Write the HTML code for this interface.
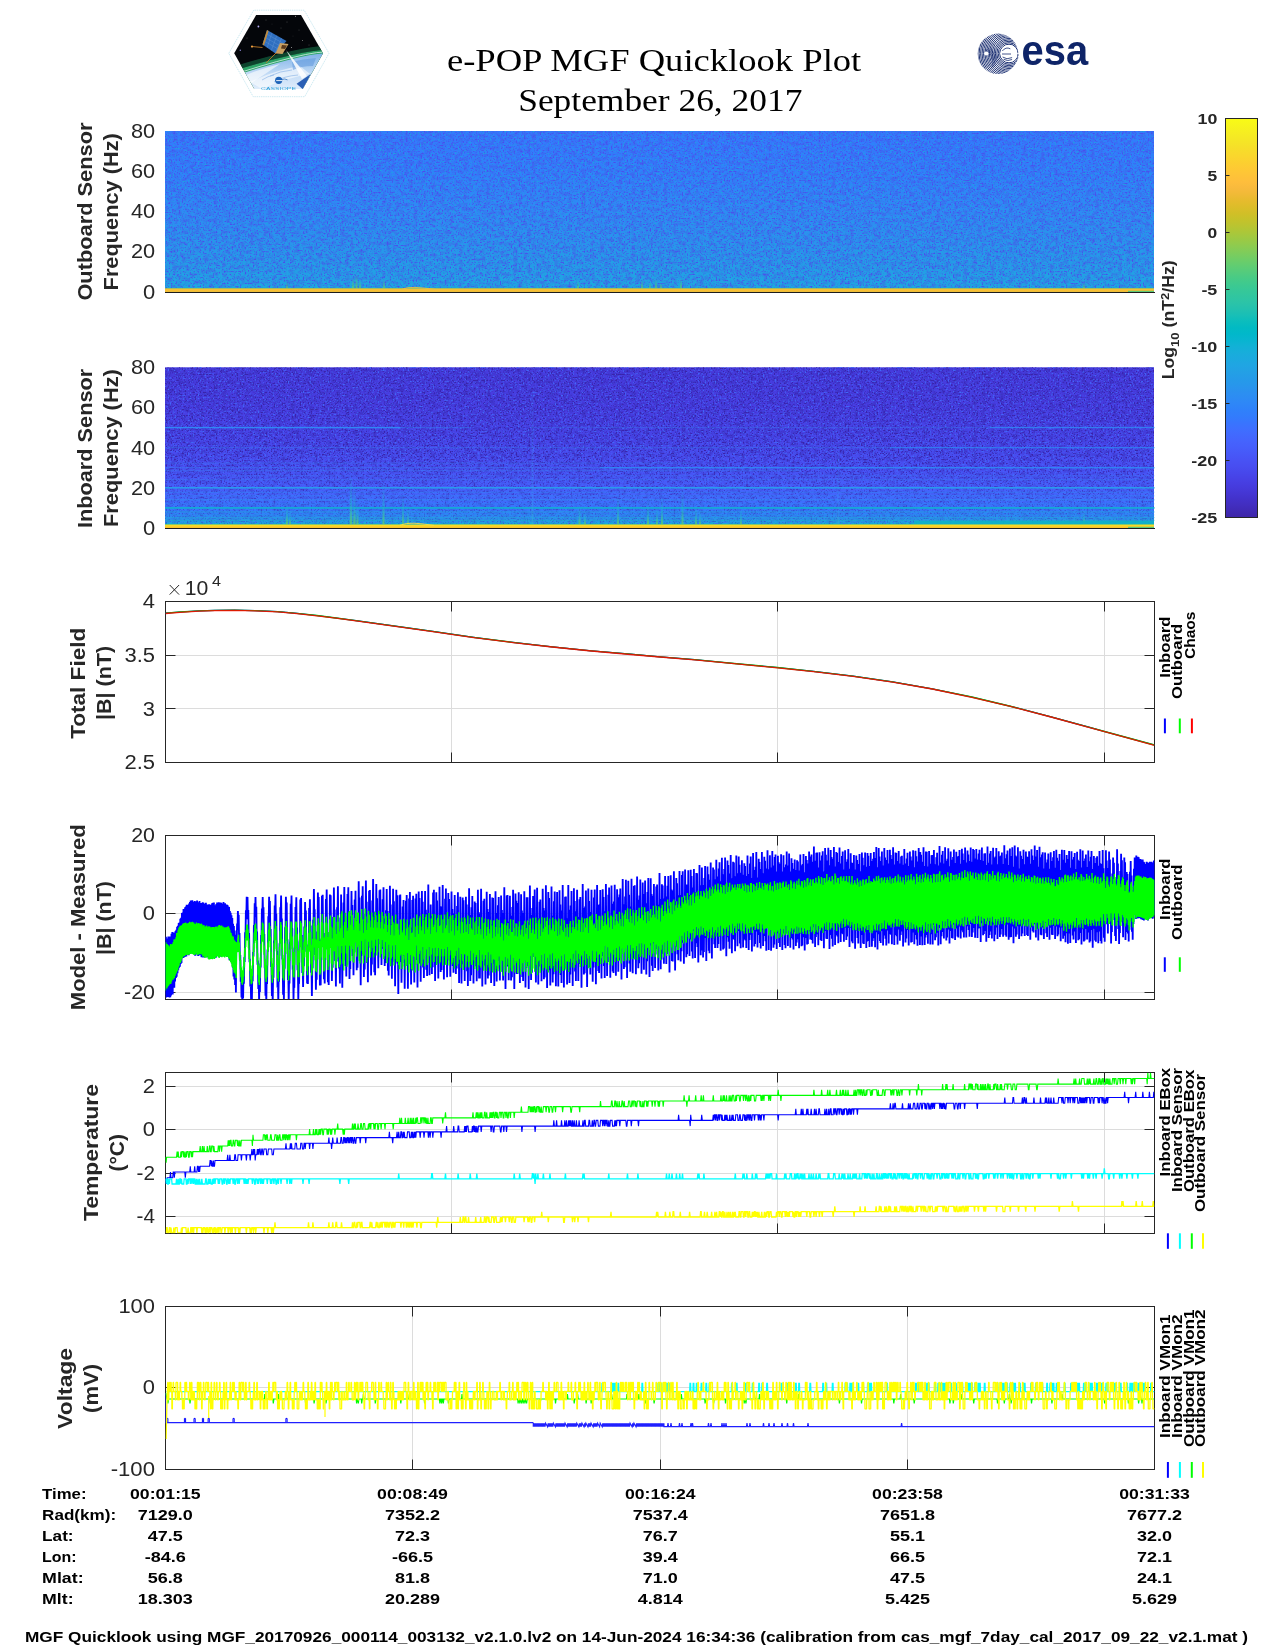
<!DOCTYPE html>
<html><head><meta charset="utf-8"><title>e-POP MGF Quicklook Plot</title>
<style>html,body{margin:0;padding:0;background:#fff;}svg{display:block;}text{white-space:pre;}</style></head>
<body><svg width="1275" height="1650" viewBox="0 0 1275 1650" shape-rendering="auto" style="opacity:0.9999">
<rect width="1275" height="1650" fill="#fff"/>
<defs>
<linearGradient id="gcb" x1="0" y1="0" x2="0" y2="1">
<stop offset="0.0000" stop-color="#f9fb15"/>
<stop offset="0.0159" stop-color="#f7f51b"/>
<stop offset="0.0317" stop-color="#f6ef20"/>
<stop offset="0.0476" stop-color="#f5e924"/>
<stop offset="0.0635" stop-color="#f5e327"/>
<stop offset="0.0794" stop-color="#f7dc2a"/>
<stop offset="0.0952" stop-color="#fad62d"/>
<stop offset="0.1111" stop-color="#fccf30"/>
<stop offset="0.1270" stop-color="#fec934"/>
<stop offset="0.1429" stop-color="#fec338"/>
<stop offset="0.1587" stop-color="#febe3c"/>
<stop offset="0.1746" stop-color="#f8ba3d"/>
<stop offset="0.1905" stop-color="#f0ba36"/>
<stop offset="0.2063" stop-color="#e6bb2d"/>
<stop offset="0.2222" stop-color="#dcbd29"/>
<stop offset="0.2381" stop-color="#d1bf27"/>
<stop offset="0.2540" stop-color="#c5c22a"/>
<stop offset="0.2698" stop-color="#b9c431"/>
<stop offset="0.2857" stop-color="#abc739"/>
<stop offset="0.3016" stop-color="#9dc943"/>
<stop offset="0.3175" stop-color="#8fcb4e"/>
<stop offset="0.3333" stop-color="#81cc59"/>
<stop offset="0.3492" stop-color="#72cd64"/>
<stop offset="0.3651" stop-color="#64cd6f"/>
<stop offset="0.3810" stop-color="#57cc7a"/>
<stop offset="0.3968" stop-color="#4acb84"/>
<stop offset="0.4127" stop-color="#3fca8e"/>
<stop offset="0.4286" stop-color="#37c897"/>
<stop offset="0.4444" stop-color="#31c69f"/>
<stop offset="0.4603" stop-color="#2cc4a7"/>
<stop offset="0.4762" stop-color="#24c1ae"/>
<stop offset="0.4921" stop-color="#19bfb6"/>
<stop offset="0.5079" stop-color="#0bbdbd"/>
<stop offset="0.5238" stop-color="#02bac3"/>
<stop offset="0.5397" stop-color="#01b8ca"/>
<stop offset="0.5556" stop-color="#08b5d0"/>
<stop offset="0.5714" stop-color="#12b1d6"/>
<stop offset="0.5873" stop-color="#18addb"/>
<stop offset="0.6032" stop-color="#1ca9df"/>
<stop offset="0.6190" stop-color="#20a5e3"/>
<stop offset="0.6349" stop-color="#23a0e5"/>
<stop offset="0.6508" stop-color="#259be8"/>
<stop offset="0.6667" stop-color="#2797eb"/>
<stop offset="0.6825" stop-color="#2b91ef"/>
<stop offset="0.6984" stop-color="#2d8cf3"/>
<stop offset="0.7143" stop-color="#2e87f7"/>
<stop offset="0.7302" stop-color="#2f81fa"/>
<stop offset="0.7460" stop-color="#327cfc"/>
<stop offset="0.7619" stop-color="#3875fe"/>
<stop offset="0.7778" stop-color="#3e6fff"/>
<stop offset="0.7937" stop-color="#4269fe"/>
<stop offset="0.8095" stop-color="#4563fd"/>
<stop offset="0.8254" stop-color="#465efb"/>
<stop offset="0.8413" stop-color="#4758f8"/>
<stop offset="0.8571" stop-color="#4852f4"/>
<stop offset="0.8730" stop-color="#484df0"/>
<stop offset="0.8889" stop-color="#4747eb"/>
<stop offset="0.9048" stop-color="#4741e5"/>
<stop offset="0.9206" stop-color="#463cde"/>
<stop offset="0.9365" stop-color="#4537d5"/>
<stop offset="0.9524" stop-color="#4332cb"/>
<stop offset="0.9683" stop-color="#422ec0"/>
<stop offset="0.9841" stop-color="#402ab4"/>
<stop offset="1.0000" stop-color="#3e26a8"/>
</linearGradient>
<linearGradient id="gs1" x1="0" y1="0" x2="0" y2="1">
<stop offset="0.0000" stop-color="#327cfc"/>
<stop offset="0.2500" stop-color="#2e83f9"/>
<stop offset="0.5000" stop-color="#2d8cf3"/>
<stop offset="0.6875" stop-color="#2994ec"/>
<stop offset="0.8500" stop-color="#249de6"/>
<stop offset="0.9375" stop-color="#20a4e3"/>
<stop offset="0.9725" stop-color="#1babde"/>
<stop offset="0.9775" stop-color="#24c1ae"/>
</linearGradient>
<linearGradient id="gs2" x1="0" y1="0" x2="0" y2="1">
<stop offset="0.0000" stop-color="#463cde"/>
<stop offset="0.2500" stop-color="#473ee2"/>
<stop offset="0.4375" stop-color="#4745e9"/>
<stop offset="0.6000" stop-color="#484ff2"/>
<stop offset="0.6875" stop-color="#4757f7"/>
<stop offset="0.7500" stop-color="#4660fb"/>
<stop offset="0.8125" stop-color="#426afe"/>
<stop offset="0.8750" stop-color="#3678fd"/>
<stop offset="0.9250" stop-color="#2e87f7"/>
<stop offset="0.9563" stop-color="#259be8"/>
<stop offset="0.9725" stop-color="#18addb"/>
<stop offset="0.9775" stop-color="#2cc4a7"/>
</linearGradient>
<filter id="n1d" x="0" y="0" width="100%" height="100%" color-interpolation-filters="sRGB"><feTurbulence type="fractalNoise" baseFrequency="0.62 0.66" numOctaves="1" seed="3" result="n"/><feColorMatrix in="n" type="matrix" values="0 0 0 0 0.290  0 0 0 0 0.306  0 0 0 0 0.925  0 0 0 4.5 -2.35"/></filter>
<filter id="n1l" x="0" y="0" width="100%" height="100%" color-interpolation-filters="sRGB"><feTurbulence type="fractalNoise" baseFrequency="0.6 0.64" numOctaves="1" seed="11" result="n"/><feColorMatrix in="n" type="matrix" values="0 0 0 0 0.110  0 0 0 0 0.647  0 0 0 0 0.882  0 0 0 5.0 -2.9"/></filter>
<filter id="n2d" x="0" y="0" width="100%" height="100%" color-interpolation-filters="sRGB"><feTurbulence type="fractalNoise" baseFrequency="0.62 0.66" numOctaves="1" seed="5" result="n"/><feColorMatrix in="n" type="matrix" values="0 0 0 0 0.220  0 0 0 0 0.141  0 0 0 0 0.667  0 0 0 5.5 -2.85"/></filter>
<filter id="n2d2" x="0" y="0" width="100%" height="100%" color-interpolation-filters="sRGB"><feTurbulence type="fractalNoise" baseFrequency="0.83 0.79" numOctaves="1" seed="6" result="n"/><feColorMatrix in="n" type="matrix" values="0 0 0 0 0.251  0 0 0 0 0.235  0 0 0 0 0.843  0 0 0 5.0 -2.75"/></filter>
<filter id="n2d3" x="0" y="0" width="100%" height="100%" color-interpolation-filters="sRGB"><feTurbulence type="fractalNoise" baseFrequency="0.83 0.79" numOctaves="1" seed="8" result="n"/><feColorMatrix in="n" type="matrix" values="0 0 0 0 0.235  0 0 0 0 0.353  0 0 0 0 0.941  0 0 0 5.0 -2.75"/></filter>
<filter id="nlo1" x="0" y="0" width="100%" height="100%" color-interpolation-filters="sRGB"><feTurbulence type="fractalNoise" baseFrequency="0.22 0.26" numOctaves="1" seed="21" result="n"/><feColorMatrix in="n" type="matrix" values="0 0 0 0 0.306  0 0 0 0 0.259  0 0 0 0 0.894  0 0 0 1.3 -0.56"/></filter>
<filter id="nlo2" x="0" y="0" width="100%" height="100%" color-interpolation-filters="sRGB"><feTurbulence type="fractalNoise" baseFrequency="0.22 0.26" numOctaves="1" seed="23" result="n"/><feColorMatrix in="n" type="matrix" values="0 0 0 0 0.204  0 0 0 0 0.141  0 0 0 0 0.667  0 0 0 1.4 -0.6"/></filter>
<filter id="n2l" x="0" y="0" width="100%" height="100%" color-interpolation-filters="sRGB"><feTurbulence type="fractalNoise" baseFrequency="0.6 0.64" numOctaves="1" seed="17" result="n"/><feColorMatrix in="n" type="matrix" values="0 0 0 0 0.259  0 0 0 0 0.408  0 0 0 0 0.980  0 0 0 5.0 -2.8"/></filter>
<linearGradient id="gyb" x1="0" y1="0" x2="0" y2="1"><stop offset="0" stop-color="#2aa6d8" stop-opacity="0"/><stop offset="0.12" stop-color="#4cc08c"/><stop offset="0.24" stop-color="#eebc3a"/><stop offset="0.5" stop-color="#f8c034"/><stop offset="0.85" stop-color="#f4bc36"/><stop offset="1" stop-color="#d4c044"/></linearGradient>
<linearGradient id="gyb2" x1="0" y1="0" x2="0" y2="1"><stop offset="0" stop-color="#20b0c0" stop-opacity="0"/><stop offset="0.14" stop-color="#4cc48c"/><stop offset="0.28" stop-color="#f4d42c"/><stop offset="0.5" stop-color="#fbdc24"/><stop offset="0.8" stop-color="#fdc62c"/><stop offset="1" stop-color="#f4c030"/></linearGradient>
<linearGradient id="gstk" x1="0" y1="0" x2="0" y2="1"><stop offset="0" stop-color="#30c0a0" stop-opacity="0"/><stop offset="1" stop-color="#58c878" stop-opacity="0.85"/></linearGradient>
<linearGradient id="gstk2" x1="0" y1="0" x2="0" y2="1"><stop offset="0" stop-color="#2a9ae8" stop-opacity="0"/><stop offset="0.6" stop-color="#22b0d0" stop-opacity="0.55"/><stop offset="1" stop-color="#58c878" stop-opacity="0.9"/></linearGradient>
<clipPath id="chex"><polygon points="234.2,53.3 256.1,15.1 301,15.1 323,53.3 302.7,88.9 254.3,88.9"/></clipPath>
<linearGradient id="gearth" x1="0" y1="0" x2="0" y2="1"><stop offset="0" stop-color="#7fb2e8"/><stop offset="0.45" stop-color="#c4dcf6"/><stop offset="1" stop-color="#f4f9ff"/></linearGradient>
<filter id="fbl" x="-10%" y="-30%" width="120%" height="160%"><feGaussianBlur stdDeviation="0.7"/></filter>
<linearGradient id="gmk2" x1="0" y1="0" x2="0" y2="1"><stop offset="0" stop-color="#fff"/><stop offset="0.56" stop-color="#fff"/><stop offset="0.78" stop-color="#999"/><stop offset="0.92" stop-color="#777"/><stop offset="1" stop-color="#555"/></linearGradient>
<mask id="mk2" maskUnits="userSpaceOnUse" x="165" y="367" width="990" height="162"><rect x="165" y="367.3" width="989" height="157.2" fill="url(#gmk2)"/></mask>
<linearGradient id="gstk3" x1="0" y1="0" x2="0" y2="1"><stop offset="0" stop-color="#3a8cf4" stop-opacity="0.1"/><stop offset="0.8" stop-color="#3a8cf4" stop-opacity="0.35"/><stop offset="1" stop-color="#30b0d0" stop-opacity="0.6"/></linearGradient>
<filter id="fbl2" x="-1%" y="-5%" width="102%" height="110%"><feGaussianBlur stdDeviation="0.6 0.3"/></filter>
<clipPath id="cesa2"><ellipse cx="989" cy="58.5" rx="8" ry="10"/></clipPath>
<clipPath id="cesa"><circle cx="997.9" cy="53.8" r="20.2"/></clipPath>
<clipPath id="cp3"><rect x="165.5" y="601.4" width="989.0" height="160.89999999999998"/></clipPath>
<clipPath id="cp4"><rect x="165.5" y="835.5" width="989.0" height="163.5"/></clipPath>
<clipPath id="cp5"><rect x="165.5" y="1072.5" width="989.0" height="160.70000000000005"/></clipPath>
<clipPath id="cp6"><rect x="165.5" y="1306.3" width="989.0" height="163.10000000000014"/></clipPath>
</defs>
<polygon points="228.8,53.3 253.7,10.2 304.2,10.2 329,53.3 304.7,96.7 253.2,96.7" fill="#fff" stroke="#bfe3ee" stroke-width="0.8" stroke-dasharray="1.4 0.8"/>
<g clip-path="url(#chex)">
<rect x="230" y="10" width="100" height="85" fill="#04060a"/>
<g filter="url(#fbl)"><path d="M228,70.5 Q262,59.5 292,53 T330,48.5" fill="none" stroke="#0f4a32" stroke-width="4" opacity="0.9"/><path d="M228,72.5 Q262,61.5 292,55 T330,50.5 L330,100 L228,100 Z" fill="#2fa468"/></g>
<path d="M228,78 Q262,66.5 292,59 T330,54 L330,100 L228,100 Z" fill="url(#gearth)"/>
<path d="M228,76.5 Q262,65 292,57.6 T330,52.6" fill="none" stroke="#d8f0e8" stroke-width="1" opacity="0.8"/>
<path d="M250,82 Q275,70 300,66 L310,74 Q285,78 262,89 Z" fill="#ffffff" opacity="0.55"/>
<path d="M244,76 Q262,68 280,64 Q268,72 250,84 Z" fill="#ffffff" opacity="0.6"/>
<path d="M292,62 q10,-3 24,-4 l-3,8 q-12,0 -20,4 z" fill="#5e98dc" opacity="0.55"/>
<path d="M270,76 q10,-5 22,-6 M274,82 q10,-6 24,-7 M262,80 q6,-4 12,-5" stroke="#8ab4e6" stroke-width="0.8" fill="none" opacity="0.8"/>
<polygon points="286,50 302,79 307,76" fill="#ffffff" opacity="0.85"/>
<polygon points="296.6,83.8 310.8,73.9 303.2,89.5" fill="#2b5fb4"/>
<polygon points="267,30 286.5,41 275.5,53.5 262.5,44.5" fill="#2f6fc0"/>
<path d="M265.9,33.6 L284,43.8 M264.8,37.2 L281.5,46.7 M263.7,40.8 L279,49.5 M271.9,32.8 L267.2,47.8 M276.8,35.5 L271.3,50.6 M281.6,38.2 L275.2,53" stroke="#6fa0dc" stroke-width="0.35" fill="none"/>
<polygon points="267,30 268.6,31 264,45.5 262.5,44.5" fill="#c08a3a"/>
<polygon points="280,43 288.5,44 282.5,54 275.5,53.5" fill="#c9a062"/>
<polygon points="282,45 287,45.6 285,49 281,48.4" fill="#5a3a1c"/>
<path d="M262.5,47.5 L252,46.5 M276,53 L266,63" stroke="#c07a28" stroke-width="0.9" fill="none"/>
<circle cx="252" cy="46.6" r="1.1" fill="#f0a040"/>
<circle cx="258.4" cy="26.5" r="0.9" fill="#b8b0ff"/><circle cx="240.3" cy="50.3" r="0.7" fill="#9088d8"/><circle cx="295.5" cy="16.3" r="0.5" fill="#aaa"/><circle cx="302.5" cy="40.5" r="0.5" fill="#888"/><circle cx="291.5" cy="47.5" r="0.5" fill="#aaa"/><circle cx="266" cy="20" r="0.4" fill="#888"/><circle cx="281" cy="28" r="0.4" fill="#777"/><circle cx="287" cy="22" r="0.4" fill="#888"/><circle cx="299" cy="30" r="0.4" fill="#777"/><circle cx="247" cy="38" r="0.4" fill="#777"/><circle cx="309" cy="45" r="0.4" fill="#888"/><circle cx="272" cy="24" r="0.35" fill="#666"/><circle cx="293" cy="36" r="0.35" fill="#666"/>
</g>
<circle cx="278.7" cy="80.3" r="3.6" fill="#1d63b8"/><path d="M276.2,80.6 h6.2" stroke="#fff" stroke-width="0.9"/><path d="M282,79.5 q3,-1.2 5.5,0.4" stroke="#1d63b8" stroke-width="0.7" fill="none"/>
<text x="261.0" y="90.4" font-family='"Liberation Sans", sans-serif' font-size="4.2" textLength="35.0" lengthAdjust="spacingAndGlyphs" fill="#2a9fd8" >CASSIOPE</text>
<g clip-path="url(#cesa)">
<g stroke="#14296e" stroke-width="0.95" fill="none"><circle cx="1009" cy="53.5" r="9.30"/><circle cx="1009" cy="53.5" r="10.77"/><circle cx="1009" cy="53.5" r="12.24"/><circle cx="1009" cy="53.5" r="13.71"/><circle cx="1009" cy="53.5" r="15.18"/><circle cx="1009" cy="53.5" r="16.65"/><circle cx="1009" cy="53.5" r="18.12"/><circle cx="1009" cy="53.5" r="19.59"/><circle cx="1009" cy="53.5" r="21.06"/><circle cx="1009" cy="53.5" r="22.53"/><circle cx="1009" cy="53.5" r="24.00"/><circle cx="1009" cy="53.5" r="25.47"/><circle cx="1009" cy="53.5" r="26.94"/><circle cx="1009" cy="53.5" r="28.41"/><circle cx="1009" cy="53.5" r="29.88"/><circle cx="1009" cy="53.5" r="31.35"/><circle cx="1009" cy="53.5" r="32.82"/><circle cx="1009" cy="53.5" r="34.29"/><circle cx="1009" cy="53.5" r="35.76"/><circle cx="1009" cy="53.5" r="37.23"/></g>
<g stroke="#14296e" stroke-width="0.6" fill="none" opacity="0.85" clip-path="url(#cesa2)"><circle cx="979" cy="62" r="14.00"/><circle cx="979" cy="62" r="15.47"/><circle cx="979" cy="62" r="16.94"/><circle cx="979" cy="62" r="18.41"/><circle cx="979" cy="62" r="19.88"/><circle cx="979" cy="62" r="21.35"/><circle cx="979" cy="62" r="22.82"/><circle cx="979" cy="62" r="24.29"/><circle cx="979" cy="62" r="25.76"/></g>
</g>
<circle cx="1008.9" cy="53.5" r="8.4" fill="#fff"/>
<path d="M1002.3,51 q3.5,-4.5 8,-2.2 M1002,54 h9 M1002.6,57 q4,3.2 9.5,0.6 M1003.6,59.3 q4,2.4 8.5,0.2" stroke="#14296e" stroke-width="0.8" fill="none"/>
<path d="M1011.5,43.5 q6,3.5 6.5,10.5 t-5,11" stroke="#14296e" stroke-width="0.7" fill="none" stroke-dasharray="2 1.2"/>
<circle cx="986.3" cy="53.5" r="2.1" fill="#fff"/>
<text x="1021.6" y="65.0" font-family='"Liberation Sans", sans-serif' font-size="42.5" font-weight="bold" textLength="66.5" lengthAdjust="spacingAndGlyphs" fill="#0e2468" >esa</text>
<text x="446.9" y="70.6" font-family='"Liberation Serif", serif' font-size="32" textLength="414.4" lengthAdjust="spacingAndGlyphs" fill="#000" >e-POP MGF Quicklook Plot</text>
<text x="518.2" y="110.5" font-family='"Liberation Serif", serif' font-size="32" textLength="284.2" lengthAdjust="spacingAndGlyphs" fill="#000" >September 26, 2017</text>
<rect x="165" y="131" width="989" height="161" fill="url(#gs1)"/>
<g><rect x="165" y="131.0" width="989" height="157.0" filter="url(#nlo1)"/></g>
<g><rect x="165" y="131.0" width="989" height="157.0" filter="url(#n1d)"/></g>
<g><rect x="165" y="131.0" width="989" height="157.0" filter="url(#n1l)"/></g>
<g filter="url(#fbl2)">
<rect x="352.0" y="278.0" width="2.0" height="10" fill="url(#gstk)"/>
<rect x="355.5" y="274.0" width="2.0" height="14" fill="url(#gstk)"/>
<rect x="359.1" y="280.0" width="1.8" height="8" fill="url(#gstk)"/>
<rect x="383.1" y="279.0" width="1.8" height="9" fill="url(#gstk)"/>
<rect x="286.1" y="282.0" width="1.8" height="6" fill="url(#gstk)"/>
<rect x="577.1" y="281.0" width="1.8" height="7" fill="url(#gstk)"/>
<rect x="641.1" y="280.0" width="1.8" height="8" fill="url(#gstk)"/>
<rect x="649.1" y="282.0" width="1.8" height="6" fill="url(#gstk)"/>
<rect x="655.1" y="279.0" width="1.8" height="9" fill="url(#gstk)"/>
<rect x="660.1" y="283.0" width="1.8" height="5" fill="url(#gstk)"/>
<rect x="680.1" y="278.0" width="1.8" height="10" fill="url(#gstk)"/>
<rect x="1083.1" y="283.0" width="1.8" height="5" fill="url(#gstk)"/>
</g>
<rect x="165" y="287.7" width="989" height="4.3" fill="url(#gyb)"/>
<rect x="165" y="292.0" width="990" height="1" fill="#1c1c1c"/>
<path d="M401,289.6 q6,-2.6 14,-2.2 t22,2.2" stroke="#e8c040" stroke-width="0.9" fill="none"/>
<rect x="165" y="367.3" width="989" height="160.7" fill="url(#gs2)"/>
<g mask="url(#mk2)"><rect x="165" y="367.3" width="989" height="157.2" filter="url(#nlo2)"/></g>
<g mask="url(#mk2)"><rect x="165" y="367.3" width="989" height="157.2" filter="url(#n2d)"/></g>
<g><rect x="165" y="367.3" width="989" height="157.2" filter="url(#n2l)"/></g>
<rect x="165" y="426.9" width="235" height="1.4" fill="#3088f4" opacity="1.0"/>
<rect x="400" y="427.0" width="70" height="1.1" fill="#3088f4" opacity="0.45"/>
<rect x="530" y="427.0" width="460" height="1.1" fill="#3a78f0" opacity="0.4"/>
<rect x="990" y="426.9" width="164.5" height="1.3" fill="#3088f4" opacity="0.85"/>
<rect x="165" y="447.1" width="725" height="1.1" fill="#3a74f0" opacity="0.5"/>
<rect x="890" y="447.0" width="264.5" height="1.3" fill="#2e86f4" opacity="0.8"/>
<rect x="165" y="462.6" width="535" height="1.1" fill="#3a74f0" opacity="0.45"/>
<rect x="165" y="467.2" width="435" height="1.1" fill="#3a78f2" opacity="0.6"/>
<rect x="600" y="467.1" width="554.5" height="1.3" fill="#2e8cf4" opacity="0.95"/>
<rect x="165" y="470.2" width="635" height="1.1" fill="#3a78f2" opacity="0.5"/>
<rect x="200" y="475.2" width="954.5" height="1.1" fill="#3a78f2" opacity="0.35"/>
<rect x="165" y="479.2" width="989.5" height="1.1" fill="#3a7cf2" opacity="0.5"/>
<rect x="165" y="487.0" width="989.5" height="1.6" fill="#2a9aec" opacity="1.0"/>
<rect x="165" y="491.7" width="989.5" height="1.1" fill="#2e8cf4" opacity="0.4"/>
<rect x="165" y="495.3" width="989.5" height="1.1" fill="#2e8cf4" opacity="0.45"/>
<rect x="165" y="499.2" width="989.5" height="1.3" fill="#2e90f4" opacity="0.6"/>
<rect x="165" y="503.3" width="989.5" height="1.1" fill="#2e8cf4" opacity="0.4"/>
<rect x="165" y="507.0" width="989.5" height="1.8" fill="#16a8d6" opacity="1.0"/>
<rect x="165" y="511.3" width="989.5" height="1.3" fill="#22a0e0" opacity="0.6"/>
<rect x="165" y="514.4" width="989.5" height="1.1" fill="#22a0e0" opacity="0.4"/>
<rect x="165" y="516.9" width="989.5" height="1.3" fill="#22a4dc" opacity="0.6"/>
<rect x="165" y="519.8" width="989.5" height="1.1" fill="#1cb0c8" opacity="0.55"/>
<g filter="url(#fbl2)">
<rect x="285.9" y="502.0" width="2.2" height="22" fill="url(#gstk2)"/>
<rect x="289.0" y="510.0" width="2.0" height="14" fill="url(#gstk2)"/>
<rect x="349.8" y="474.0" width="2.4000000000000004" height="50" fill="url(#gstk2)"/>
<rect x="353.4" y="486.0" width="2.2" height="38" fill="url(#gstk2)"/>
<rect x="356.5" y="498.0" width="2.0" height="26" fill="url(#gstk2)"/>
<rect x="382.5" y="482.0" width="2.0" height="42" fill="url(#gstk2)"/>
<rect x="402.1" y="494.0" width="1.8" height="30" fill="url(#gstk2)"/>
<rect x="407.1" y="506.0" width="1.8" height="18" fill="url(#gstk2)"/>
<rect x="531.6" y="392.0" width="1.7000000000000002" height="132" fill="url(#gstk3)"/>
<rect x="578.5" y="504.0" width="2.0" height="20" fill="url(#gstk2)"/>
<rect x="584.1" y="510.0" width="1.8" height="14" fill="url(#gstk2)"/>
<rect x="617.1" y="494.0" width="1.8" height="30" fill="url(#gstk2)"/>
<rect x="647.0" y="500.0" width="2.0" height="24" fill="url(#gstk2)"/>
<rect x="656.1" y="506.0" width="1.8" height="18" fill="url(#gstk2)"/>
<rect x="661.0" y="496.0" width="2.0" height="28" fill="url(#gstk2)"/>
<rect x="681.5" y="488.0" width="2.0" height="36" fill="url(#gstk2)"/>
<rect x="695.1" y="504.0" width="1.8" height="20" fill="url(#gstk2)"/>
<rect x="699.1" y="510.0" width="1.8" height="14" fill="url(#gstk2)"/>
<rect x="740.1" y="508.0" width="1.8" height="16" fill="url(#gstk2)"/>
<rect x="837.2" y="454.0" width="1.6" height="70" fill="url(#gstk3)"/>
<rect x="1083.1" y="510.0" width="1.8" height="14" fill="url(#gstk2)"/>
</g>
<rect x="165" y="523.7" width="989" height="4.3" fill="url(#gyb2)"/>
<rect x="165" y="528.0" width="990" height="1" fill="#1c1c1c"/>
<rect x="914" y="521" width="240" height="3" fill="#0fb2c6" opacity="0.9"/><rect x="1128" y="526.8" width="26" height="1.2" fill="#5cc878"/><rect x="1128" y="290.8" width="26" height="1.2" fill="#5cc878"/>
<path d="M400,525.2 q6,-2.4 14,-2 t20,2.2" stroke="#f8e040" stroke-width="0.9" fill="none"/>
<text x="131.0" y="137.8" font-family='"Liberation Sans", sans-serif' font-size="20.9" textLength="24.2" lengthAdjust="spacingAndGlyphs" fill="#262626" >80</text>
<text x="131.0" y="374.1" font-family='"Liberation Sans", sans-serif' font-size="20.9" textLength="24.2" lengthAdjust="spacingAndGlyphs" fill="#262626" >80</text>
<text x="131.0" y="178.0" font-family='"Liberation Sans", sans-serif' font-size="20.9" textLength="24.2" lengthAdjust="spacingAndGlyphs" fill="#262626" >60</text>
<text x="131.0" y="414.4" font-family='"Liberation Sans", sans-serif' font-size="20.9" textLength="24.2" lengthAdjust="spacingAndGlyphs" fill="#262626" >60</text>
<text x="131.0" y="218.2" font-family='"Liberation Sans", sans-serif' font-size="20.9" textLength="24.2" lengthAdjust="spacingAndGlyphs" fill="#262626" >40</text>
<text x="131.0" y="454.6" font-family='"Liberation Sans", sans-serif' font-size="20.9" textLength="24.2" lengthAdjust="spacingAndGlyphs" fill="#262626" >40</text>
<text x="131.0" y="258.4" font-family='"Liberation Sans", sans-serif' font-size="20.9" textLength="24.2" lengthAdjust="spacingAndGlyphs" fill="#262626" >20</text>
<text x="131.0" y="494.8" font-family='"Liberation Sans", sans-serif' font-size="20.9" textLength="24.2" lengthAdjust="spacingAndGlyphs" fill="#262626" >20</text>
<text x="143.0" y="298.9" font-family='"Liberation Sans", sans-serif' font-size="20.9" textLength="12.2" lengthAdjust="spacingAndGlyphs" fill="#262626" >0</text>
<text x="143.0" y="535.2" font-family='"Liberation Sans", sans-serif' font-size="20.9" textLength="12.2" lengthAdjust="spacingAndGlyphs" fill="#262626" >0</text>
<text transform="translate(92.2,300.6) rotate(-90)" font-family='"Liberation Sans", sans-serif' font-size="20" font-weight="bold" textLength="178.1" lengthAdjust="spacingAndGlyphs" fill="#262626">Outboard Sensor</text>
<text transform="translate(118.4,290.4) rotate(-90)" font-family='"Liberation Sans", sans-serif' font-size="20" font-weight="bold" textLength="157.2" lengthAdjust="spacingAndGlyphs" fill="#262626">Frequency (Hz)</text>
<text transform="translate(92.2,528.0) rotate(-90)" font-family='"Liberation Sans", sans-serif' font-size="20" font-weight="bold" textLength="159.2" lengthAdjust="spacingAndGlyphs" fill="#262626">Inboard Sensor</text>
<text transform="translate(118.4,527.0) rotate(-90)" font-family='"Liberation Sans", sans-serif' font-size="20" font-weight="bold" textLength="157.9" lengthAdjust="spacingAndGlyphs" fill="#262626">Frequency (Hz)</text>
<rect x="1225.5" y="118.5" width="32" height="399" fill="url(#gcb)" stroke="#262626" stroke-width="1"/>
<text x="1197.5" y="123.8" font-family='"Liberation Sans", sans-serif' font-size="15" font-weight="bold" textLength="19.8" lengthAdjust="spacingAndGlyphs" fill="#262626" >10</text>
<path d="M1225.5,175.5 h4" stroke="#262626" stroke-width="1"/>
<text x="1207.6" y="180.8" font-family='"Liberation Sans", sans-serif' font-size="15" font-weight="bold" textLength="9.7" lengthAdjust="spacingAndGlyphs" fill="#262626" >5</text>
<path d="M1225.5,232.5 h4" stroke="#262626" stroke-width="1"/>
<text x="1207.6" y="237.8" font-family='"Liberation Sans", sans-serif' font-size="15" font-weight="bold" textLength="9.7" lengthAdjust="spacingAndGlyphs" fill="#262626" >0</text>
<path d="M1225.5,289.5 h4" stroke="#262626" stroke-width="1"/>
<text x="1201.4" y="294.9" font-family='"Liberation Sans", sans-serif' font-size="15" font-weight="bold" textLength="15.9" lengthAdjust="spacingAndGlyphs" fill="#262626" >-5</text>
<path d="M1225.5,346.5 h4" stroke="#262626" stroke-width="1"/>
<text x="1191.3" y="351.9" font-family='"Liberation Sans", sans-serif' font-size="15" font-weight="bold" textLength="26.0" lengthAdjust="spacingAndGlyphs" fill="#262626" >-10</text>
<path d="M1225.5,403.5 h4" stroke="#262626" stroke-width="1"/>
<text x="1191.3" y="408.9" font-family='"Liberation Sans", sans-serif' font-size="15" font-weight="bold" textLength="26.0" lengthAdjust="spacingAndGlyphs" fill="#262626" >-15</text>
<path d="M1225.5,460.5 h4" stroke="#262626" stroke-width="1"/>
<text x="1191.3" y="465.9" font-family='"Liberation Sans", sans-serif' font-size="15" font-weight="bold" textLength="26.0" lengthAdjust="spacingAndGlyphs" fill="#262626" >-20</text>
<text x="1191.3" y="522.9" font-family='"Liberation Sans", sans-serif' font-size="15" font-weight="bold" textLength="26.0" lengthAdjust="spacingAndGlyphs" fill="#262626" >-25</text>
<text transform="translate(1174.4,379.3) rotate(-90)" font-family='"Liberation Sans", sans-serif' font-weight="bold" font-size="15.6" fill="#262626" textLength="119" lengthAdjust="spacingAndGlyphs">Log<tspan font-size="11.5" dy="4.6">10</tspan><tspan dy="-4.6"> (nT</tspan><tspan font-size="11.5" dy="-5.8">2</tspan><tspan dy="5.8">/Hz)</tspan></text>
<path d="M451.5,601.5 V762.5" stroke="#dcdcdc" stroke-width="1"/>
<path d="M777.5,601.5 V762.5" stroke="#dcdcdc" stroke-width="1"/>
<path d="M1104.5,601.5 V762.5" stroke="#dcdcdc" stroke-width="1"/>
<path d="M165.5,655.5 H1154.5" stroke="#dcdcdc" stroke-width="1"/>
<path d="M165.5,708.5 H1154.5" stroke="#dcdcdc" stroke-width="1"/>
<rect x="165.5" y="601.5" width="989.0" height="161.0" fill="none" stroke="#262626" stroke-width="1"/>
<path d="M451.5,601.5 v10 M451.5,762.5 v-10 M777.5,601.5 v10 M777.5,762.5 v-10 M1104.5,601.5 v10 M1104.5,762.5 v-10 M165.5,655.5 h10 M1154.5,655.5 h-10 M165.5,708.5 h10 M1154.5,708.5 h-10" stroke="#262626" stroke-width="1" fill="none"/>
<g clip-path="url(#cp3)"><path d="M165.5,613.2 L180.0,612.0 L199.2,610.9 L215.0,610.4 L234.5,610.1 L255.0,610.6 L277.6,611.6 L297.0,613.4 L316.9,615.5 L336.0,618.0 L356.0,620.6 L395.3,626.1 L434.5,631.6 L451.4,634.1 L473.7,637.4 L513.0,642.4 L552.2,646.8 L591.4,650.8 L630.6,654.2 L660.0,656.8 L694.6,659.6 L734.2,663.5 L777.4,667.5 L813.4,671.4 L853.0,676.1 L892.6,681.9 L932.2,688.8 L971.8,697.0 L1011.4,706.5 L1051.0,716.8 L1090.6,727.6 L1104.5,731.5 L1154.5,745.0" stroke="#0000ff" stroke-width="1.2" fill="none" stroke-linejoin="round"/><path d="M165.5,613.2 L180.0,612.0 L199.2,610.9 L215.0,610.4 L234.5,610.1 L255.0,610.6 L277.6,611.6 L297.0,613.4 L316.9,615.5 L336.0,618.0 L356.0,620.6 L395.3,626.1 L434.5,631.6 L451.4,634.1 L473.7,637.4 L513.0,642.4 L552.2,646.8 L591.4,650.8 L630.6,654.2 L660.0,656.8 L694.6,659.6 L734.2,663.5 L777.4,667.5 L813.4,671.4 L853.0,676.1 L892.6,681.9 L932.2,688.8 L971.8,697.0 L1011.4,706.5 L1051.0,716.8 L1090.6,727.6 L1104.5,731.5 L1154.5,745.0" stroke="#00c800" stroke-width="1.3" fill="none" stroke-linejoin="round"/><path d="M165.5,613.5 L180.0,612.3 L199.2,611.1 L215.0,610.6 L234.5,610.4 L255.0,610.9 L277.6,611.9 L297.0,613.6 L316.9,615.8 L336.0,618.2 L356.0,620.9 L395.3,626.4 L434.5,631.9 L451.4,634.4 L473.7,637.6 L513.0,642.6 L552.2,647.0 L591.4,651.0 L630.6,654.5 L660.0,657.0 L694.6,659.9 L734.2,663.7 L777.4,667.8 L813.4,671.6 L853.0,676.4 L892.6,682.1 L932.2,689.0 L971.8,697.3 L1011.4,706.7 L1051.0,717.0 L1090.6,727.9 L1104.5,731.7 L1154.5,745.3" stroke="#ff0000" stroke-width="1.3" fill="none" stroke-linejoin="round" opacity="0.86"/></g>
<text x="142.8" y="608.4" font-family='"Liberation Sans", sans-serif' font-size="20.9" textLength="12.2" lengthAdjust="spacingAndGlyphs" fill="#262626" >4</text>
<text x="124.4" y="662.4" font-family='"Liberation Sans", sans-serif' font-size="20.9" textLength="30.6" lengthAdjust="spacingAndGlyphs" fill="#262626" >3.5</text>
<text x="142.8" y="715.6" font-family='"Liberation Sans", sans-serif' font-size="20.9" textLength="12.2" lengthAdjust="spacingAndGlyphs" fill="#262626" >3</text>
<text x="124.4" y="769.2" font-family='"Liberation Sans", sans-serif' font-size="20.9" textLength="30.6" lengthAdjust="spacingAndGlyphs" fill="#262626" >2.5</text>
<path d="M169.7,585 l9.4,9.6 m0,-9.6 l-9.4,9.6" stroke="#262626" stroke-width="1" fill="none"/>
<text x="184.8" y="594.8" font-family='"Liberation Sans", sans-serif' font-size="20.9" textLength="23.6" lengthAdjust="spacingAndGlyphs" fill="#262626" >10</text>
<text x="212.0" y="586.4" font-family='"Liberation Sans", sans-serif' font-size="14.6" textLength="9.0" lengthAdjust="spacingAndGlyphs" fill="#262626" >4</text>
<text transform="translate(85.1,738.8) rotate(-90)" font-family='"Liberation Sans", sans-serif' font-size="20" font-weight="bold" textLength="111.0" lengthAdjust="spacingAndGlyphs" fill="#262626">Total Field</text>
<text transform="translate(111.0,720.1) rotate(-90)" font-family='"Liberation Sans", sans-serif' font-size="20" font-weight="bold" textLength="74.3" lengthAdjust="spacingAndGlyphs" fill="#262626">|B| (nT)</text>
<text transform="translate(1170.0,677.8) rotate(-90)" font-family='"Liberation Sans", sans-serif' font-size="15" font-weight="bold" textLength="61.3" lengthAdjust="spacingAndGlyphs" fill="#000">Inboard</text>
<text transform="translate(1182.0,698.9) rotate(-90)" font-family='"Liberation Sans", sans-serif' font-size="15" font-weight="bold" textLength="75.0" lengthAdjust="spacingAndGlyphs" fill="#000">Outboard</text>
<text transform="translate(1194.5,659.0) rotate(-90)" font-family='"Liberation Sans", sans-serif' font-size="15" font-weight="bold" textLength="47.4" lengthAdjust="spacingAndGlyphs" fill="#000">Chaos</text>
<path d="M1164.9,718.5 V733.3" stroke="#0000ff" stroke-width="2"/>
<path d="M1179.8,718.5 V733.3" stroke="#00ff00" stroke-width="2"/>
<path d="M1191.9,718.5 V733.3" stroke="#ff0000" stroke-width="2"/>
<path d="M451.5,835.5 V999.5" stroke="#dcdcdc" stroke-width="1"/>
<path d="M777.5,835.5 V999.5" stroke="#dcdcdc" stroke-width="1"/>
<path d="M1104.5,835.5 V999.5" stroke="#dcdcdc" stroke-width="1"/>
<path d="M165.5,913.5 H1154.5" stroke="#dcdcdc" stroke-width="1"/>
<path d="M165.5,992.5 H1154.5" stroke="#dcdcdc" stroke-width="1"/>
<rect x="165.5" y="835.5" width="989.0" height="164.0" fill="none" stroke="#262626" stroke-width="1"/>
<path d="M451.5,835.5 v10 M451.5,999.5 v-10 M777.5,835.5 v10 M777.5,999.5 v-10 M1104.5,835.5 v10 M1104.5,999.5 v-10 M165.5,913.5 h10 M1154.5,913.5 h-10 M165.5,992.5 h10 M1154.5,992.5 h-10" stroke="#262626" stroke-width="1" fill="none"/>
<g clip-path="url(#cp4)">
<path d="M165.5,994.8 165.9,936.7 166.3,997.6 166.7,939.3 167.1,996.4 167.5,938.4 167.9,997.1 168.3,936.6 168.7,994.5 169.1,939.2 169.5,997.6 169.9,936.6 170.3,997.2 170.7,937.8 171.1,995.6 171.5,933.8 171.9,994.5 172.3,932.0 172.7,994.5 173.1,935.5 173.5,987.4 173.9,932.6 174.3,987.8 174.7,932.6 175.1,981.6 175.5,931.0 175.9,978.1 176.3,929.8 176.7,976.8 177.1,926.8 177.5,973.2 177.9,925.8 178.3,970.3 178.7,923.0 179.1,967.8 179.5,922.6 179.9,966.8 180.3,918.7 180.7,964.0 181.1,917.7 181.5,963.1 181.9,913.1 182.3,958.0 182.7,912.6 183.1,958.1 183.5,909.0 183.9,957.6 184.3,909.1 184.7,956.9 185.1,907.3 185.5,954.7 185.9,906.6 186.3,956.5 186.7,904.7 187.1,954.7 187.5,904.7 187.9,952.6 188.3,905.1 188.7,955.2 189.1,903.5 189.5,952.4 189.9,902.1 190.3,954.1 190.7,900.6 191.1,952.6 191.5,901.3 191.9,953.3 192.3,900.2 192.7,953.5 193.1,901.8 193.5,953.6 193.9,903.4 194.3,952.0 194.7,901.0 195.1,955.8 195.5,901.6 195.9,953.7 196.3,903.4 196.7,954.3 197.1,900.4 197.5,955.5 197.9,902.3 198.3,956.1 198.7,903.7 199.1,954.9 199.5,901.1 199.9,955.3 200.3,903.2 200.7,954.3 201.1,903.0 201.5,957.3 201.9,905.3 202.3,956.8 202.7,902.2 203.1,957.5 203.5,902.7 203.9,957.4 204.3,903.8 204.7,956.7 205.1,904.3 205.5,954.9 205.9,902.7 206.3,957.2 206.7,905.5 207.1,957.2 207.5,904.5 207.9,956.8 208.3,905.3 208.7,957.8 209.1,904.3 209.5,958.3 209.9,905.1 210.3,956.1 210.7,905.9 211.1,956.5 211.5,904.2 211.9,959.1 212.3,903.1 212.7,958.6 213.1,902.8 213.5,956.3 213.9,902.5 214.3,957.8 214.7,905.3 215.1,955.0 215.5,905.3 215.9,957.8 216.3,904.1 216.7,955.1 217.1,902.4 217.5,955.8 217.9,904.4 218.3,954.9 218.7,902.3 219.1,954.8 219.5,903.1 219.9,956.8 220.3,902.4 220.7,955.3 221.1,902.7 221.5,954.1 221.9,903.4 222.3,955.7 222.7,904.6 223.1,954.5 223.5,902.1 223.9,956.1 224.3,905.2 224.7,956.5 225.1,903.3 225.5,954.2 225.9,906.7 226.3,954.7 226.7,904.4 227.1,954.8 227.5,904.9 227.9,956.8 228.3,906.5 228.7,956.5 229.1,907.1 229.5,960.3 229.9,911.0 230.3,959.8 230.7,912.7 231.1,962.0 231.5,915.2 231.9,963.4 232.3,918.0 232.7,967.5 233.1,923.7 233.5,976.4 233.9,926.0 234.3,979.5 234.7,930.5 235.1,985.1 235.5,934.7 235.9,992.4 236.3,941.2 236.7,942.8 237.1,923.6 237.5,930.0 237.9,911.1 238.3,924.8 238.7,914.8 239.1,939.9 239.5,933.0 239.9,960.5 240.3,955.0 240.7,981.7 241.1,972.7 241.5,997.4 241.9,985.1 242.3,1002.8 242.7,985.1 243.1,998.4 243.5,974.9 243.9,983.8 244.3,957.0 244.7,962.1 245.1,932.3 245.5,937.7 245.9,910.3 246.3,919.6 246.7,896.7 247.1,911.5 247.5,896.9 247.9,919.1 248.3,909.9 248.7,937.6 249.1,933.0 249.5,962.2 249.9,958.8 250.3,986.6 250.7,978.3 251.1,1000.9 251.5,983.9 251.9,999.0 252.3,974.5 252.7,981.4 253.1,952.1 253.5,956.6 253.9,925.1 254.3,930.9 254.7,903.3 255.1,914.9 255.5,897.0 255.9,916.7 256.3,906.8 256.7,936.6 257.1,931.4 257.5,964.8 257.9,960.5 258.3,988.9 258.7,978.6 259.1,1001.1 259.5,980.5 259.9,992.0 260.3,963.4 260.7,967.5 261.1,934.9 261.5,938.5 261.9,908.6 262.3,918.1 262.7,897.1 263.1,917.2 263.5,907.3 263.9,936.8 264.3,934.0 264.7,968.2 265.1,965.7 265.5,995.7 265.9,982.8 266.3,1001.5 266.7,976.5 267.1,984.0 267.5,949.4 267.9,951.7 268.3,916.3 268.7,921.7 269.1,896.8 269.5,913.8 269.9,901.1 270.3,932.7 270.7,928.9 271.1,967.1 271.5,964.8 271.9,996.0 272.3,984.3 272.7,1002.0 273.1,973.7 273.5,977.7 273.9,941.4 274.3,940.1 274.7,905.5 275.1,915.1 275.5,894.3 275.9,919.7 276.3,913.7 276.7,951.2 277.1,951.1 277.5,987.6 277.9,978.7 278.3,1001.7 278.7,976.6 279.1,981.8 279.5,943.9 279.9,943.0 280.3,907.2 280.7,916.1 281.1,895.4 281.5,923.6 281.9,918.6 282.3,959.0 282.7,959.5 283.1,994.7 283.5,981.2 283.9,999.3 284.3,967.2 284.7,968.8 285.1,927.3 285.5,929.1 285.9,896.8 286.3,913.9 286.7,902.4 287.1,938.7 287.5,940.1 287.9,980.1 288.3,975.2 288.7,1002.3 289.1,976.9 289.5,983.5 289.9,943.0 290.3,941.2 290.7,903.8 291.1,915.4 291.5,895.6 291.9,928.0 292.3,928.7 292.7,969.8 293.1,967.7 293.5,999.5 293.9,978.4 294.3,987.9 294.7,948.5 295.1,946.1 295.5,907.1 295.9,916.0 296.3,897.2 296.7,929.4 297.1,927.5 297.5,970.2 297.9,969.2 298.3,1000.0 298.7,977.1 299.1,983.9 299.5,942.2 299.9,939.0 300.3,899.4 300.7,914.0 301.1,897.9 301.5,940.1 301.9,934.9 302.3,973.0 302.7,963.7 303.1,986.9 303.5,958.5 303.9,966.2 304.3,926.4 304.7,934.1 305.1,902.1 305.5,924.7 305.9,910.4 306.3,951.7 306.7,946.9 307.1,983.6 307.5,965.5 307.9,983.9 308.3,944.4 308.7,949.2 309.1,908.1 309.5,921.7 309.9,899.2 310.3,927.9 310.7,925.5 311.1,972.7 311.5,966.1 311.9,995.9 312.3,962.3 312.7,968.2 313.1,919.7 313.5,923.4 313.9,888.9 314.3,917.6 314.7,909.2 315.1,955.1 315.5,951.6 315.9,989.7 316.3,964.7 316.7,979.7 317.1,931.6 317.5,934.7 317.9,892.6 318.3,912.8 318.7,897.1 319.1,943.3 319.5,940.7 319.9,985.5 320.3,967.9 320.7,985.2 321.1,939.6 321.5,941.2 321.9,895.8 322.3,918.2 322.7,894.7 323.1,939.6 323.5,932.9 323.9,979.2 324.3,960.6 324.7,983.6 325.1,939.7 325.5,945.7 325.9,898.9 326.3,912.5 326.7,889.6 327.1,936.4 327.5,932.2 327.9,982.3 328.3,962.7 328.7,985.0 329.1,938.3 329.5,942.3 329.9,894.6 330.3,918.0 330.7,895.2 331.1,941.7 331.5,935.3 331.9,980.9 332.3,954.7 332.7,967.8 333.1,917.0 333.5,927.4 333.9,887.5 334.3,920.9 334.7,909.5 335.1,961.0 335.5,948.7 335.9,986.6 336.3,948.5 336.7,961.5 337.1,907.3 337.5,921.2 337.9,886.2 338.3,926.9 338.7,917.6 339.1,968.5 339.5,952.5 339.9,983.4 340.3,937.7 340.7,948.4 341.1,894.4 341.5,958.7 341.9,948.7 342.3,987.7 342.7,948.6 343.1,957.2 343.5,902.6 343.9,915.9 344.3,887.0 344.7,927.6 345.1,915.1 345.5,965.9 345.9,946.1 346.3,976.6 346.7,931.2 347.1,942.2 347.5,894.0 347.9,913.1 348.3,887.3 348.7,940.0 349.1,931.8 349.5,979.1 349.9,950.7 350.3,968.9 350.7,916.2 351.1,925.3 351.5,891.1 351.9,926.9 352.3,905.1 352.7,956.0 353.1,936.2 353.5,975.3 353.9,933.2 354.3,951.9 354.7,899.4 355.1,924.1 355.5,890.8 355.9,936.4 356.3,920.3 356.7,970.2 357.1,939.6 357.5,967.8 357.9,919.6 358.3,937.4 358.7,881.2 359.1,917.2 359.5,897.4 359.9,956.2 360.3,942.3 360.7,985.2 361.1,939.4 361.5,955.7 361.9,895.8 362.3,918.6 362.7,886.3 363.1,936.7 363.5,921.0 363.9,976.9 364.3,944.7 364.7,969.5 365.1,914.0 365.5,930.4 365.9,880.4 366.3,922.6 366.7,901.7 367.1,962.9 367.5,941.1 367.9,982.3 368.3,929.6 368.7,947.8 369.1,890.7 369.5,922.9 369.9,890.1 370.3,945.4 370.7,924.5 371.1,975.4 371.5,937.3 371.9,964.4 372.3,900.4 372.7,921.2 373.1,879.0 373.5,930.0 373.9,911.5 374.3,972.3 374.7,941.9 375.1,975.3 375.5,916.3 375.9,935.4 376.3,883.9 376.7,921.6 377.1,898.2 377.5,951.3 377.9,931.3 378.3,968.2 378.7,923.4 379.1,939.2 379.5,890.2 379.9,916.7 380.3,889.4 380.7,940.6 381.1,924.6 381.5,965.0 381.9,930.4 382.3,948.7 382.7,899.2 383.1,920.6 383.5,887.3 383.9,933.6 384.3,918.6 384.7,966.0 385.1,933.2 385.5,963.0 385.9,910.3 386.3,932.1 386.7,888.9 387.1,935.2 387.5,911.1 387.9,970.8 388.3,942.0 388.7,975.6 389.1,918.2 389.5,938.0 389.9,885.7 390.3,926.0 390.7,904.4 391.1,965.3 391.5,937.7 391.9,978.7 392.3,924.1 392.7,945.5 393.1,888.8 393.5,929.8 393.9,901.3 394.3,961.8 394.7,938.5 395.1,986.2 395.5,933.6 395.9,955.0 396.3,889.8 396.7,928.8 397.1,895.3 397.5,963.6 397.9,938.6 398.3,993.9 398.7,938.0 399.1,963.2 399.5,895.3 399.9,932.1 400.3,894.6 400.7,961.9 401.1,930.7 401.5,982.8 401.9,934.5 402.3,963.1 402.7,906.6 403.1,940.3 403.5,900.0 403.9,955.8 404.3,932.1 404.7,988.7 405.1,941.2 405.5,965.5 405.9,900.8 406.3,933.6 406.7,895.0 407.1,954.0 407.5,931.5 407.9,988.7 408.3,940.9 408.7,964.3 409.1,898.4 409.5,930.8 409.9,891.9 410.3,954.7 410.7,927.5 411.1,984.5 411.5,935.8 411.9,961.2 412.3,899.9 412.7,935.4 413.1,895.8 413.5,955.8 413.9,929.4 414.3,982.4 414.7,932.7 415.1,959.6 415.5,898.5 415.9,931.6 416.3,893.8 416.7,960.0 417.1,935.3 417.5,987.5 417.9,930.9 418.3,954.2 418.7,891.4 419.1,933.1 419.5,898.0 419.9,963.5 420.3,936.7 420.7,981.8 421.1,924.8 421.5,948.8 421.9,890.9 422.3,937.1 422.7,901.7 423.1,967.6 423.5,934.7 423.9,977.9 424.3,919.1 424.7,946.4 425.1,891.0 425.5,940.6 425.9,909.8 426.3,969.7 426.7,933.4 427.1,976.0 427.5,913.2 427.9,936.2 428.3,884.5 428.7,939.3 429.1,913.6 429.5,975.3 429.9,931.3 430.3,967.2 430.7,904.5 431.1,935.8 431.5,915.7 431.9,974.0 432.3,930.4 432.7,967.2 433.1,892.5 433.5,928.2 433.9,889.8 434.3,957.2 434.7,929.9 435.1,981.0 435.5,924.6 435.9,953.5 436.3,892.3 436.7,932.9 437.1,900.4 437.5,963.5 437.9,928.9 438.3,978.4 438.7,918.5 439.1,946.2 439.5,886.7 439.9,934.9 440.3,906.3 440.7,971.9 441.1,939.3 441.5,970.0 441.9,906.6 442.3,933.5 442.7,885.1 443.1,944.6 443.5,922.1 443.9,979.4 444.3,935.8 444.7,964.3 445.1,898.7 445.5,927.6 445.9,888.4 446.3,953.2 446.7,928.8 447.1,977.2 447.5,929.1 447.9,953.3 448.3,892.9 448.7,932.4 449.1,898.9 449.5,960.5 449.9,931.9 450.3,976.8 450.7,922.7 451.1,948.0 451.5,891.6 451.9,936.9 452.3,908.9 452.7,965.9 453.1,933.4 453.5,972.7 453.9,913.5 454.3,943.1 454.7,895.0 455.1,943.7 455.5,914.9 455.9,974.0 456.3,931.9 456.7,968.6 457.1,906.0 457.5,940.1 457.9,892.2 458.3,953.0 458.7,924.9 459.1,983.1 459.5,934.3 459.9,961.3 460.3,896.8 460.7,948.8 461.1,925.6 461.5,983.4 461.9,937.2 462.3,964.3 462.7,897.6 463.1,935.2 463.5,900.3 463.9,960.0 464.3,926.9 464.7,981.0 465.1,924.1 465.5,955.6 465.9,896.8 466.3,932.7 466.7,904.4 467.1,971.2 467.5,941.5 467.9,986.0 468.3,920.9 468.7,941.6 469.1,888.2 469.5,944.7 469.9,915.0 470.3,981.0 470.7,939.3 471.1,975.2 471.5,907.3 471.9,941.8 472.3,896.1 472.7,954.8 473.1,926.1 473.5,983.5 473.9,930.1 474.3,963.6 474.7,901.5 475.1,939.9 475.5,903.1 475.9,966.3 476.3,934.8 476.7,981.3 477.1,923.9 477.5,950.6 477.9,889.8 478.3,940.0 478.7,913.4 479.1,978.6 479.5,940.8 479.9,978.5 480.3,912.0 480.7,938.5 481.1,888.8 481.5,950.0 481.9,925.9 482.3,986.6 482.7,938.9 483.1,967.2 483.5,900.8 483.9,938.7 484.3,898.7 484.7,965.4 485.1,937.0 485.5,984.6 485.9,928.4 486.3,952.7 486.7,891.8 487.1,938.2 487.5,909.1 487.9,978.4 488.3,942.8 488.7,975.6 489.1,912.0 489.5,942.5 489.9,894.0 490.3,953.7 490.7,923.9 491.1,983.1 491.5,939.1 491.9,966.4 492.3,897.5 492.7,933.8 493.1,898.0 493.5,963.8 493.9,939.6 494.3,986.0 494.7,923.1 495.1,948.7 495.5,891.2 495.9,942.6 496.3,913.1 496.7,981.5 497.1,933.4 497.5,968.6 497.9,905.2 498.3,941.6 498.7,897.0 499.1,960.8 499.5,929.4 499.9,980.4 500.3,926.1 500.7,957.0 501.1,895.5 501.5,941.6 501.9,910.1 502.3,971.8 502.7,943.3 503.1,980.6 503.5,913.0 503.9,939.0 504.3,887.3 504.7,947.7 505.1,927.1 505.5,989.1 505.9,937.8 506.3,964.4 506.7,895.4 507.1,934.9 507.5,895.0 507.9,966.5 508.3,932.5 508.7,980.2 509.1,921.7 509.5,954.0 509.9,895.7 510.3,945.0 510.7,915.7 511.1,980.4 511.5,943.7 511.9,977.2 512.3,907.1 512.7,936.0 513.1,889.8 513.5,954.6 513.9,932.3 514.3,988.9 514.7,935.1 515.1,961.3 515.5,893.5 515.9,934.5 516.3,900.8 516.7,974.0 517.1,939.3 517.5,973.9 517.9,903.1 518.3,936.1 518.7,892.3 519.1,961.6 519.5,931.3 519.9,982.9 520.3,925.4 520.7,956.6 521.1,894.2 521.5,942.6 521.9,910.6 522.3,976.9 522.7,939.3 523.1,980.9 523.5,912.9 523.9,943.8 524.3,891.2 524.7,950.0 525.1,923.4 525.5,987.4 525.9,938.3 526.3,967.9 526.7,897.2 527.1,933.2 527.5,897.2 527.9,966.1 528.3,939.8 528.7,989.0 529.1,922.2 529.5,947.6 529.9,885.5 530.3,939.4 530.7,915.1 531.1,980.1 531.5,934.7 531.9,972.7 532.3,908.1 532.7,941.4 533.1,895.9 533.5,957.0 533.9,928.4 534.3,954.0 534.7,889.4 535.1,938.1 535.5,936.4 535.9,982.5 536.3,918.0 536.7,942.9 537.1,887.7 537.5,943.9 537.9,918.3 538.3,984.5 538.7,941.0 539.1,966.6 539.5,901.8 539.9,941.5 540.3,899.5 540.7,960.1 541.1,929.6 541.5,981.3 541.9,928.7 542.3,951.2 542.7,888.8 543.1,938.9 543.5,908.0 543.9,979.2 544.3,941.2 544.7,977.6 545.1,910.5 545.5,936.0 545.9,885.3 546.3,951.4 546.7,926.8 547.1,987.9 547.5,935.0 547.9,964.3 548.3,892.0 548.7,934.0 549.1,897.9 549.5,970.2 549.9,937.2 550.3,985.4 550.7,918.4 551.1,945.0 551.5,886.5 551.9,943.1 552.3,915.7 552.7,982.6 553.1,940.0 553.5,974.2 553.9,901.2 554.3,935.5 554.7,891.6 555.1,957.9 555.5,930.4 555.9,986.3 556.3,925.0 556.7,956.0 557.1,892.1 557.5,960.0 557.9,929.3 558.3,986.5 558.7,926.7 559.1,954.5 559.5,890.2 559.9,936.2 560.3,904.4 560.7,974.9 561.1,939.0 561.5,982.9 561.9,910.5 562.3,938.2 562.7,885.1 563.1,950.6 563.5,924.5 563.9,987.6 564.3,929.8 564.7,963.4 565.1,896.8 565.5,939.1 565.9,896.6 566.3,967.4 566.7,930.7 567.1,984.6 567.5,918.3 567.9,949.9 568.3,885.1 568.7,944.4 569.1,909.8 569.5,983.1 569.9,933.7 570.3,974.4 570.7,905.5 571.1,941.7 571.5,891.1 571.9,959.1 572.3,925.2 572.7,986.0 573.1,929.2 573.5,958.4 573.9,888.3 574.3,936.2 574.7,900.9 575.1,971.5 575.5,933.1 575.9,981.0 576.3,911.3 576.7,945.5 577.1,889.8 577.5,949.4 577.9,917.0 578.3,981.1 578.7,927.7 579.1,963.9 579.5,899.3 579.9,940.1 580.3,897.1 580.7,963.7 581.1,934.9 581.5,987.7 581.9,921.0 582.3,949.0 582.7,883.9 583.1,938.8 583.5,907.9 583.9,974.6 584.3,932.1 584.7,973.2 585.1,906.6 585.5,938.0 585.9,890.5 586.3,955.6 586.7,923.8 587.1,987.1 587.5,927.6 587.9,959.3 588.3,888.4 588.7,933.3 589.1,900.9 589.5,966.9 589.9,927.6 590.3,974.5 590.7,912.0 591.1,947.5 591.5,889.8 591.9,948.4 592.3,917.5 592.7,981.7 593.1,933.1 593.5,967.6 593.9,897.4 594.3,933.1 594.7,889.5 595.1,962.3 595.5,930.5 595.9,984.3 596.3,923.8 596.7,949.1 597.1,885.1 597.5,936.8 597.9,905.1 598.3,970.9 598.7,929.9 599.1,973.1 599.5,904.2 599.9,937.8 600.3,889.9 600.7,951.1 601.1,920.0 601.5,978.4 601.9,926.9 602.3,956.0 602.7,889.3 603.1,936.3 603.5,897.1 603.9,966.0 604.3,928.8 604.7,977.9 605.1,911.2 605.5,941.8 605.9,883.9 606.3,941.4 606.7,913.2 607.1,976.1 607.5,929.3 607.9,962.1 608.3,894.7 608.7,933.1 609.1,887.4 609.5,955.6 609.9,925.8 610.3,977.7 610.7,919.4 611.1,945.2 611.5,885.6 611.9,933.7 612.3,903.7 612.7,971.6 613.1,932.0 613.5,973.0 613.9,901.6 614.3,932.6 614.7,884.7 615.1,949.0 615.5,919.6 615.9,975.8 616.3,924.4 616.7,955.2 617.1,889.3 617.5,932.2 617.9,897.3 618.3,971.8 618.7,926.8 619.1,960.4 619.5,894.5 619.9,932.3 620.3,888.6 620.7,955.6 621.1,926.5 621.5,979.4 621.9,914.7 622.3,941.7 622.7,879.1 623.1,932.9 623.5,904.3 623.9,969.1 624.3,927.3 624.7,967.2 625.1,896.6 625.5,930.9 625.9,879.7 626.3,947.5 626.7,918.4 627.1,977.9 627.5,920.6 627.9,948.3 628.3,880.7 628.7,929.7 629.1,894.7 629.5,963.6 629.9,924.3 630.3,971.8 630.7,906.5 631.1,934.6 631.5,878.7 631.9,937.7 632.3,909.5 632.7,973.3 633.1,923.8 633.5,958.2 633.9,886.1 634.3,925.1 634.7,885.2 635.1,952.6 635.5,923.5 635.9,974.2 636.3,913.1 636.7,939.2 637.1,876.4 637.5,932.2 637.9,899.8 638.3,968.3 638.7,925.2 639.1,963.2 639.5,895.4 639.9,931.2 640.3,879.5 640.7,945.8 641.1,915.5 641.5,973.8 641.9,916.7 642.3,947.0 642.7,882.6 643.1,929.9 643.5,894.0 643.9,969.8 644.3,907.3 644.7,941.3 645.1,880.6 645.5,932.5 645.9,903.2 646.3,974.6 646.7,925.8 647.1,961.2 647.5,891.9 647.9,926.4 648.3,878.1 648.7,948.3 649.1,921.4 649.5,977.0 649.9,915.3 650.3,945.5 650.7,878.2 651.1,927.8 651.5,893.9 651.9,965.8 652.3,925.8 652.7,970.9 653.1,895.7 653.5,930.0 653.9,884.1 654.3,943.5 654.7,906.4 655.1,968.1 655.5,914.3 655.9,949.1 656.3,886.6 656.7,925.3 657.1,884.5 657.5,954.5 657.9,922.1 658.3,970.5 658.7,904.8 659.1,933.4 659.5,873.1 659.9,934.4 660.3,899.1 660.7,969.3 661.1,921.8 661.5,959.5 661.9,884.3 662.3,930.5 662.7,885.4 663.1,953.8 663.5,913.8 663.9,963.7 664.3,898.5 664.7,939.5 665.1,875.9 665.5,934.4 665.9,896.4 666.3,964.1 666.7,913.5 667.1,954.1 667.5,885.7 667.9,924.9 668.3,876.1 668.7,944.8 669.1,910.6 669.5,972.6 669.9,905.8 670.3,939.6 670.7,875.2 671.1,928.6 671.5,889.5 671.9,961.1 672.3,913.9 672.7,961.5 673.1,890.5 673.5,927.7 673.9,871.3 674.3,940.5 674.7,901.2 675.1,970.4 675.5,910.8 675.9,946.4 676.3,878.1 676.7,928.7 677.1,883.2 677.5,954.3 677.9,909.8 678.3,960.2 678.7,895.2 679.1,929.6 679.5,871.1 679.9,931.2 680.3,894.9 680.7,961.4 681.1,907.8 681.5,951.2 681.9,875.0 682.3,923.1 682.7,871.3 683.1,942.7 683.5,905.3 683.9,963.7 684.3,897.4 684.7,935.0 685.1,869.5 685.5,926.4 685.9,884.4 686.3,957.3 686.7,906.2 687.1,954.2 687.5,884.6 687.9,926.6 688.3,870.3 688.7,935.5 689.1,895.8 689.5,955.9 689.9,894.9 690.3,939.5 690.7,869.7 691.1,922.7 691.5,876.0 691.9,951.6 692.3,906.9 692.7,958.5 693.1,887.4 693.5,928.1 693.9,868.9 694.3,930.7 694.7,891.9 695.1,958.0 695.5,902.5 695.9,943.2 696.3,873.0 696.7,921.2 697.1,873.2 697.5,947.0 697.9,900.5 698.3,962.5 698.7,892.5 699.1,929.3 699.5,865.1 699.9,924.9 700.3,885.3 700.7,955.3 701.1,904.6 701.5,950.6 701.9,867.6 702.3,927.8 702.7,885.0 703.1,957.5 703.5,898.9 703.9,951.9 704.3,878.1 704.7,922.6 705.1,866.1 705.5,938.1 705.9,895.2 706.3,960.9 706.7,892.8 707.1,936.2 707.5,866.5 707.9,925.6 708.3,874.3 708.7,950.7 709.1,899.5 709.5,953.3 709.9,879.7 710.3,925.8 710.7,862.5 711.1,932.0 711.5,887.3 711.9,958.5 712.3,894.8 712.7,938.3 713.1,867.5 713.5,928.5 713.9,869.6 714.3,944.3 714.7,889.5 715.1,948.1 715.5,879.3 715.9,927.5 716.3,859.8 716.7,929.5 717.1,876.5 717.5,948.0 717.9,891.9 718.3,943.9 718.7,868.4 719.1,924.6 719.5,862.2 719.9,936.7 720.3,887.9 720.7,950.7 721.1,881.3 721.5,929.9 721.9,857.8 722.3,924.9 722.7,874.3 723.1,949.4 723.5,890.2 723.9,948.4 724.3,869.1 724.7,921.4 725.1,857.4 725.5,933.6 725.9,884.5 726.3,956.2 726.7,885.2 727.1,937.2 727.5,860.4 727.9,922.3 728.3,865.1 728.7,941.7 729.1,890.0 729.5,948.8 729.9,873.6 730.3,923.0 730.7,855.1 731.1,928.0 731.5,878.3 731.9,953.3 732.3,886.9 732.7,938.9 733.1,861.7 733.5,923.3 733.9,862.5 734.3,939.8 734.7,885.2 735.1,951.3 735.5,876.2 735.9,928.5 736.3,855.6 736.7,921.2 737.1,873.2 737.5,946.3 737.9,888.7 738.3,930.9 738.7,856.6 739.1,922.9 739.5,864.8 739.9,943.6 740.3,889.2 740.7,948.2 741.1,872.8 741.5,925.9 741.9,860.2 742.3,929.1 742.7,874.7 743.1,947.5 743.5,883.4 743.9,939.4 744.3,863.2 744.7,921.6 745.1,866.1 745.5,940.4 745.9,882.6 746.3,947.9 746.7,876.0 747.1,927.9 747.5,855.6 747.9,927.6 748.3,874.1 748.7,950.0 749.1,884.6 749.5,940.1 749.9,863.6 750.3,920.2 750.7,856.5 751.1,934.8 751.5,883.8 751.9,951.4 752.3,877.9 752.7,930.2 753.1,852.9 753.5,922.4 753.9,870.0 754.3,946.5 754.7,883.4 755.1,944.0 755.5,866.8 755.9,923.6 756.3,851.9 756.7,931.4 757.1,880.9 757.5,947.5 757.9,877.4 758.3,934.9 758.7,858.8 759.1,922.2 759.5,861.9 759.9,942.9 760.3,885.2 760.7,948.6 761.1,869.0 761.5,922.8 761.9,852.1 762.3,930.0 762.7,873.3 763.1,945.9 763.5,878.0 763.9,936.0 764.3,856.7 764.7,922.6 765.1,860.7 765.5,941.3 765.9,881.2 766.3,950.8 766.7,868.6 767.1,925.4 767.5,850.2 767.9,923.3 768.3,869.2 768.7,950.0 769.1,870.2 769.5,926.7 769.9,855.3 770.3,926.1 770.7,867.4 771.1,950.7 771.5,880.4 771.9,926.7 772.3,851.0 772.7,927.4 773.1,865.6 773.5,947.8 773.9,880.3 774.3,944.6 774.7,857.0 775.1,921.1 775.5,854.5 775.9,932.7 776.3,878.8 776.7,949.0 777.1,871.6 777.5,933.2 777.9,855.7 778.3,925.1 778.7,862.3 779.1,943.1 779.5,876.8 779.9,947.0 780.3,863.7 780.7,926.2 781.1,854.3 781.5,933.4 781.9,871.9 782.3,950.0 782.7,871.5 783.1,933.4 783.5,855.3 783.9,924.9 784.3,867.2 784.7,945.0 785.1,878.4 785.5,948.3 785.9,864.5 786.3,924.4 786.7,851.4 787.1,933.0 787.5,883.0 787.9,946.1 788.3,865.6 788.7,928.7 789.1,853.5 789.5,930.5 789.9,871.4 790.3,947.7 790.7,878.3 791.1,938.1 791.5,858.3 791.9,924.8 792.3,862.9 792.7,939.4 793.1,879.4 793.5,949.5 793.9,868.8 794.3,931.9 794.7,859.4 795.1,930.6 795.5,870.0 795.9,945.9 796.3,878.3 796.7,942.6 797.1,860.2 797.5,926.8 797.9,861.6 798.3,939.2 798.7,877.7 799.1,948.2 799.5,870.5 799.9,933.6 800.3,854.5 800.7,929.0 801.1,865.2 801.5,946.2 801.9,878.6 802.3,945.5 802.7,864.0 803.1,929.6 803.5,854.1 803.9,937.3 804.3,874.0 804.7,950.5 805.1,872.3 805.5,938.0 805.9,855.9 806.3,928.7 806.7,860.1 807.1,944.5 807.5,873.5 807.9,944.1 808.3,863.5 808.7,926.9 809.1,851.6 809.5,931.4 809.9,868.6 810.3,939.5 810.7,856.4 811.1,924.3 811.5,854.4 811.9,939.9 812.3,872.5 812.7,943.5 813.1,861.7 813.5,926.0 813.9,846.6 814.3,927.2 814.7,860.8 815.1,946.9 815.5,870.3 815.9,937.1 816.3,852.7 816.7,924.8 817.1,852.5 817.5,934.2 817.9,870.7 818.3,945.2 818.7,867.6 819.1,927.6 819.5,852.2 819.9,928.2 820.3,860.6 820.7,939.9 821.1,872.3 821.5,941.1 821.9,855.6 822.3,919.5 822.7,851.3 823.1,932.7 823.5,871.4 823.9,948.2 824.3,871.6 824.7,931.0 825.1,848.1 825.5,924.0 825.9,854.7 826.3,938.7 826.7,871.9 827.1,939.0 827.5,860.5 827.9,923.7 828.3,847.7 828.7,928.5 829.1,865.2 829.5,949.1 829.9,870.7 830.3,935.0 830.7,849.9 831.1,919.6 831.5,857.1 831.9,938.7 832.3,871.5 832.7,946.6 833.1,858.8 833.5,923.0 833.9,847.1 834.3,925.6 834.7,866.5 835.1,945.0 835.5,872.8 835.9,935.2 836.3,851.9 836.7,918.8 837.1,853.0 837.5,936.6 837.9,874.5 838.3,943.2 838.7,862.0 839.1,926.2 839.5,847.4 839.9,923.8 840.3,863.6 840.7,942.0 841.1,872.0 841.5,933.6 841.9,855.9 842.3,920.5 842.7,851.4 843.1,934.3 843.5,870.4 843.9,941.7 844.3,869.4 844.7,927.8 845.1,850.2 845.5,922.0 845.9,861.8 846.3,939.9 846.7,874.0 847.1,936.4 847.5,859.3 847.9,920.7 848.3,849.0 848.7,928.1 849.1,868.7 849.5,947.0 849.9,870.8 850.3,928.0 850.7,853.3 851.1,921.0 851.5,862.6 851.9,941.6 852.3,874.6 852.7,943.2 853.1,863.0 853.5,921.9 853.9,855.0 854.3,928.1 854.7,869.6 855.1,948.7 855.5,871.4 855.9,930.8 856.3,855.5 856.7,927.3 857.1,860.1 857.5,938.0 857.9,872.1 858.3,943.4 858.7,864.1 859.1,928.4 859.5,853.9 859.9,930.5 860.3,871.2 860.7,948.1 861.1,875.3 861.5,935.1 861.9,852.4 862.3,923.9 862.7,857.8 863.1,943.6 863.5,874.2 863.9,944.0 864.3,865.2 864.7,931.7 865.1,852.5 865.5,928.4 865.9,866.7 866.3,948.0 866.7,874.0 867.1,941.6 867.5,853.0 867.9,923.9 868.3,855.8 868.7,940.9 869.1,870.9 869.5,947.1 869.9,865.9 870.3,929.3 870.7,852.9 871.1,929.7 871.5,861.0 871.9,946.8 872.3,871.7 872.7,941.1 873.1,858.8 873.5,928.1 873.9,852.0 874.3,938.3 874.7,872.1 875.1,947.3 875.5,858.0 875.9,921.7 876.3,847.0 876.7,932.2 877.1,867.2 877.5,949.5 877.9,868.2 878.3,934.2 878.7,848.0 879.1,922.6 879.5,856.6 879.9,940.9 880.3,874.2 880.7,942.9 881.1,861.0 881.5,923.7 881.9,851.6 882.3,931.0 882.7,865.4 883.1,945.6 883.5,869.5 883.9,935.4 884.3,847.9 884.7,921.4 885.1,857.5 885.5,938.8 885.9,872.1 886.3,945.4 886.7,860.1 887.1,921.7 887.5,850.0 887.9,930.5 888.3,863.6 888.7,943.6 889.1,873.4 889.5,934.2 889.9,849.8 890.3,917.8 890.7,855.0 891.1,934.8 891.5,870.2 891.9,944.3 892.3,859.1 892.7,922.2 893.1,847.2 893.5,927.0 893.9,864.5 894.3,944.9 894.7,873.2 895.1,934.9 895.5,852.5 895.9,921.8 896.3,853.1 896.7,936.3 897.1,869.4 897.5,944.6 897.9,860.9 898.3,929.5 898.7,850.9 899.1,927.2 899.5,863.5 899.9,940.8 900.3,868.0 900.7,934.9 901.1,856.4 901.5,925.3 901.9,855.7 902.3,931.4 902.7,869.8 903.1,946.5 903.5,864.7 903.9,927.2 904.3,849.1 904.7,925.9 905.1,863.4 905.5,942.6 905.9,872.6 906.3,938.6 906.7,858.5 907.1,920.4 907.5,852.8 907.9,929.9 908.3,870.2 908.7,945.5 909.1,866.0 909.5,928.2 909.9,851.6 910.3,922.7 910.7,856.6 911.1,942.5 911.5,874.6 911.9,941.9 912.3,860.6 912.7,925.2 913.1,850.3 913.5,932.6 913.9,867.2 914.3,944.2 914.7,868.6 915.1,935.0 915.5,850.7 915.9,922.1 916.3,856.3 916.7,939.6 917.1,872.7 917.5,945.7 917.9,861.5 918.3,920.7 918.7,848.1 919.1,928.6 919.5,867.5 919.9,945.0 920.3,852.0 920.7,924.4 921.1,854.8 921.5,936.4 921.9,873.5 922.3,945.3 922.7,861.7 923.1,926.6 923.5,847.2 923.9,924.6 924.3,866.0 924.7,945.1 925.1,869.8 925.5,937.5 925.9,851.6 926.3,922.4 926.7,851.8 927.1,935.0 927.5,869.5 927.9,943.7 928.3,866.5 928.7,925.8 929.1,851.1 929.5,922.8 929.9,863.7 930.3,944.5 930.7,874.4 931.1,934.3 931.5,855.3 931.9,923.0 932.3,854.9 932.7,944.4 933.1,866.5 933.5,923.8 933.9,849.9 934.3,925.0 934.7,864.3 935.1,940.2 935.5,869.2 935.9,937.3 936.3,857.3 936.7,919.8 937.1,852.7 937.5,932.8 937.9,869.5 938.3,945.4 938.7,865.6 939.1,928.1 939.5,846.0 939.9,920.0 940.3,862.5 940.7,944.3 941.1,870.9 941.5,936.2 941.9,854.7 942.3,925.2 942.7,851.0 943.1,931.9 943.5,867.2 943.9,938.6 944.3,863.6 944.7,926.2 945.1,847.3 945.5,923.8 945.9,860.7 946.3,940.5 946.7,873.4 947.1,937.5 947.5,858.7 947.9,918.4 948.3,848.2 948.7,929.6 949.1,866.9 949.5,943.4 949.9,866.3 950.3,931.1 950.7,851.6 951.1,918.7 951.5,859.8 951.9,937.9 952.3,872.9 952.7,938.6 953.1,857.0 953.5,924.1 953.9,849.5 954.3,924.5 954.7,863.0 955.1,939.9 955.5,864.4 955.9,928.6 956.3,851.8 956.7,921.2 957.1,856.5 957.5,936.6 957.9,870.3 958.3,937.5 958.7,856.0 959.1,921.2 959.5,849.9 959.9,926.6 960.3,863.8 960.7,938.5 961.1,870.2 961.5,930.6 961.9,848.8 962.3,918.2 962.7,853.4 963.1,932.3 963.5,872.2 963.9,937.4 964.3,860.0 964.7,917.2 965.1,847.5 965.5,920.4 965.9,862.6 966.3,937.4 966.7,869.0 967.1,926.2 967.5,850.5 967.9,920.1 968.3,854.4 968.7,929.9 969.1,864.7 969.5,936.7 969.9,860.9 970.3,923.3 970.7,847.5 971.1,923.9 971.5,861.8 971.9,937.0 972.3,865.6 972.7,932.5 973.1,849.1 973.5,914.8 973.9,849.9 974.3,928.1 974.7,866.5 975.1,937.8 975.5,858.6 975.9,918.6 976.3,849.1 976.7,921.5 977.1,859.4 977.5,938.1 977.9,871.0 978.3,928.4 978.7,853.4 979.1,913.7 979.5,849.7 979.9,928.3 980.3,867.7 980.7,941.9 981.1,860.1 981.5,923.3 981.9,847.6 982.3,922.5 982.7,861.0 983.1,935.2 983.5,866.9 983.9,933.9 984.3,853.6 984.7,914.4 985.1,853.2 985.5,931.0 985.9,869.6 986.3,941.8 986.7,865.1 987.1,921.2 987.5,846.4 987.9,918.6 988.3,862.7 988.7,938.0 989.1,869.0 989.5,935.0 989.9,853.6 990.3,918.7 990.7,851.0 991.1,931.4 991.5,864.4 991.9,938.6 992.3,864.5 992.7,924.5 993.1,847.8 993.5,916.4 993.9,857.4 994.3,941.2 994.7,874.1 995.1,934.7 995.5,856.4 995.9,920.0 996.3,847.9 996.7,927.4 997.1,865.3 997.5,939.0 997.9,864.2 998.3,924.6 998.7,851.3 999.1,918.4 999.5,856.3 999.9,937.1 1000.3,867.3 1000.7,934.4 1001.1,855.6 1001.5,917.8 1001.9,852.4 1002.3,928.9 1002.7,864.3 1003.1,936.8 1003.5,864.0 1003.9,922.4 1004.3,845.2 1004.7,916.7 1005.1,858.2 1005.5,935.2 1005.9,874.2 1006.3,936.7 1006.7,854.3 1007.1,919.0 1007.5,850.5 1007.9,924.6 1008.3,867.0 1008.7,939.7 1009.1,865.0 1009.5,925.4 1009.9,848.6 1010.3,937.2 1010.7,872.5 1011.1,937.1 1011.5,856.0 1011.9,921.7 1012.3,847.3 1012.7,926.4 1013.1,866.9 1013.5,943.3 1013.9,866.7 1014.3,928.6 1014.7,845.4 1015.1,918.1 1015.5,855.6 1015.9,936.8 1016.3,871.2 1016.7,934.5 1017.1,856.6 1017.5,917.9 1017.9,847.3 1018.3,926.3 1018.7,870.1 1019.1,939.0 1019.5,868.5 1019.9,926.2 1020.3,851.3 1020.7,916.7 1021.1,855.8 1021.5,936.2 1021.9,873.8 1022.3,933.6 1022.7,859.0 1023.1,918.9 1023.5,849.8 1023.9,924.2 1024.3,864.2 1024.7,936.0 1025.1,865.0 1025.5,926.4 1025.9,851.5 1026.3,915.6 1026.7,856.4 1027.1,934.9 1027.5,874.2 1027.9,935.9 1028.3,856.9 1028.7,917.0 1029.1,851.2 1029.5,922.0 1029.9,863.7 1030.3,939.8 1030.7,869.7 1031.1,927.2 1031.5,849.2 1031.9,921.9 1032.3,855.5 1032.7,931.2 1033.1,867.4 1033.5,932.6 1033.9,860.0 1034.3,922.5 1034.7,845.5 1035.1,924.2 1035.5,868.3 1035.9,937.4 1036.3,856.5 1036.7,917.2 1037.1,850.1 1037.5,928.8 1037.9,867.8 1038.3,940.5 1038.7,866.8 1039.1,922.4 1039.5,846.8 1039.9,920.1 1040.3,857.2 1040.7,934.8 1041.1,872.9 1041.5,935.3 1041.9,854.4 1042.3,914.0 1042.7,852.2 1043.1,927.6 1043.5,868.4 1043.9,939.0 1044.3,869.2 1044.7,923.0 1045.1,852.6 1045.5,919.9 1045.9,862.5 1046.3,933.3 1046.7,874.9 1047.1,936.9 1047.5,859.4 1047.9,916.7 1048.3,853.5 1048.7,925.4 1049.1,868.8 1049.5,939.8 1049.9,871.8 1050.3,927.8 1050.7,852.2 1051.1,920.4 1051.5,861.0 1051.9,934.8 1052.3,876.3 1052.7,934.9 1053.1,857.2 1053.5,916.7 1053.9,851.0 1054.3,926.0 1054.7,872.4 1055.1,939.0 1055.5,867.8 1055.9,926.4 1056.3,849.8 1056.7,920.1 1057.1,857.7 1057.5,936.3 1057.9,869.9 1058.3,934.5 1058.7,860.8 1059.1,923.7 1059.5,853.9 1059.9,927.6 1060.3,870.8 1060.7,941.3 1061.1,869.9 1061.5,927.4 1061.9,849.7 1062.3,917.7 1062.7,859.8 1063.1,938.8 1063.5,869.5 1063.9,935.8 1064.3,849.9 1064.7,924.0 1065.1,862.7 1065.5,942.2 1065.9,866.5 1066.3,933.3 1066.7,855.1 1067.1,927.0 1067.5,859.1 1067.9,943.8 1068.3,869.6 1068.7,933.4 1069.1,851.1 1069.5,929.8 1069.9,872.0 1070.3,942.9 1070.7,867.8 1071.1,926.8 1071.5,851.3 1071.9,926.8 1072.3,859.4 1072.7,935.6 1073.1,869.0 1073.5,939.6 1073.9,857.0 1074.3,919.9 1074.7,852.9 1075.1,931.6 1075.5,869.3 1075.9,942.9 1076.3,869.0 1076.7,926.6 1077.1,851.7 1077.5,922.6 1077.9,859.7 1078.3,940.2 1078.7,873.2 1079.1,939.3 1079.5,861.0 1079.9,920.9 1080.3,849.3 1080.7,932.9 1081.1,869.5 1081.5,944.4 1081.9,867.5 1082.3,929.2 1082.7,850.4 1083.1,919.8 1083.5,861.1 1083.9,941.4 1084.3,872.5 1084.7,940.6 1085.1,858.5 1085.5,922.2 1085.9,854.4 1086.3,929.0 1086.7,870.0 1087.1,939.4 1087.5,866.9 1087.9,932.4 1088.3,850.4 1088.7,920.2 1089.1,861.3 1089.5,942.6 1089.9,875.2 1090.3,941.3 1090.7,856.8 1091.1,919.3 1091.5,850.9 1091.9,930.1 1092.3,870.2 1092.7,947.7 1093.1,869.0 1093.5,928.7 1093.9,855.9 1094.3,921.4 1094.7,863.0 1095.1,940.5 1095.5,873.6 1095.9,941.7 1096.3,857.8 1096.7,926.1 1097.1,856.2 1097.5,932.3 1097.9,865.8 1098.3,943.3 1098.7,866.6 1099.1,931.6 1099.5,851.0 1099.9,919.6 1100.3,863.2 1100.7,941.0 1101.1,877.6 1101.5,943.5 1101.9,864.0 1102.3,916.8 1102.7,850.1 1103.1,914.7 1103.5,868.3 1103.9,937.7 1104.3,889.8 1104.7,941.7 1105.1,877.7 1105.5,914.2 1105.9,850.3 1106.3,900.4 1106.7,860.5 1107.1,924.3 1107.5,888.1 1107.9,933.6 1108.3,868.0 1108.7,911.5 1109.1,851.4 1109.5,903.3 1109.9,859.6 1110.3,923.8 1110.7,883.3 1111.1,943.6 1111.5,888.2 1111.9,931.9 1112.3,873.5 1112.7,916.9 1113.1,857.4 1113.5,907.7 1113.9,862.7 1114.3,919.9 1114.7,878.5 1115.1,936.0 1115.5,892.8 1115.9,941.1 1116.3,881.5 1116.7,921.8 1117.1,849.2 1117.5,904.6 1117.9,863.6 1118.3,929.1 1118.7,886.9 1119.1,943.9 1119.5,889.6 1119.9,933.1 1120.3,871.1 1120.7,908.9 1121.1,853.8 1121.5,903.4 1121.9,860.3 1122.3,922.3 1122.7,893.5 1123.1,937.2 1123.5,877.4 1123.9,916.5 1124.3,857.4 1124.7,907.2 1125.1,862.2 1125.5,940.0 1125.9,889.7 1126.3,931.9 1126.7,872.0 1127.1,912.5 1127.5,873.9 1127.9,933.6 1128.3,889.5 1128.7,941.5 1129.1,890.2 1129.5,929.8 1129.9,871.7 1130.3,914.2 1130.7,861.1 1131.1,914.9 1131.5,875.4 1131.9,931.7 1132.3,892.2 1132.7,939.7 1133.1,890.1 1133.5,923.9 1133.9,868.7 1134.3,905.5 1134.7,857.6 1135.1,897.6 1135.5,863.6 1135.9,919.1 1136.3,855.6 1136.7,917.7 1137.1,857.7 1137.5,918.4 1137.9,856.8 1138.3,918.2 1138.7,857.2 1139.1,917.3 1139.5,860.7 1139.9,918.1 1140.3,858.9 1140.7,918.7 1141.1,859.6 1141.5,919.6 1141.9,862.0 1142.3,918.0 1142.7,859.6 1143.1,919.9 1143.5,861.8 1143.9,920.6 1144.3,862.2 1144.7,918.5 1145.1,864.1 1145.5,917.6 1145.9,864.4 1146.3,917.0 1146.7,861.7 1147.1,916.8 1147.5,862.5 1147.9,920.6 1148.3,864.8 1148.7,919.0 1149.1,862.8 1149.5,917.0 1149.9,861.8 1150.3,915.9 1150.7,861.8 1151.1,918.0 1151.5,861.8 1151.9,915.6 1152.3,862.6 1152.7,918.7 1153.1,862.8 1153.5,917.6 1153.9,860.5 1154.3,914.3" stroke="#0000ff" stroke-width="1.85" fill="none" stroke-linejoin="bevel"/>
<path d="M165.5,990.6 165.8,942.2 166.2,986.8 166.5,945.5 166.9,988.5 167.2,943.9 167.5,987.1 167.9,945.6 168.2,986.1 168.6,945.2 168.9,985.2 169.2,946.9 169.6,983.9 169.9,946.6 170.3,983.9 170.6,944.1 170.9,983.7 171.3,944.4 171.6,981.4 172.0,944.2 172.3,979.3 172.6,943.8 173.0,979.7 173.3,942.0 173.7,978.6 174.0,939.4 174.3,978.1 174.7,939.3 175.0,975.9 175.4,939.2 175.7,974.2 176.0,937.2 176.4,972.8 176.7,933.1 177.1,971.3 177.4,933.7 177.7,970.0 178.1,930.3 178.4,967.6 178.8,928.3 179.1,965.8 179.4,927.0 179.8,962.9 180.1,925.7 180.5,963.1 180.8,927.3 181.1,961.2 181.5,925.3 181.8,959.1 182.2,925.2 182.5,957.8 182.8,923.7 183.2,956.5 183.5,923.4 183.9,955.3 184.2,923.0 184.5,956.3 184.9,923.8 185.2,955.2 185.6,922.5 185.9,955.3 186.2,923.3 186.6,953.9 186.9,923.4 187.3,954.7 187.6,923.6 187.9,954.9 188.3,923.1 188.6,954.6 189.0,922.8 189.3,954.4 189.6,921.7 190.0,953.4 190.3,922.3 190.7,953.9 191.0,922.3 191.3,953.2 191.7,923.3 192.0,953.7 192.4,921.7 192.7,954.1 193.0,923.8 193.4,954.6 193.7,922.5 194.1,954.9 194.4,923.8 194.7,954.7 195.1,924.3 195.4,954.5 195.8,923.9 196.1,953.7 196.4,922.6 196.8,953.5 197.1,923.6 197.5,955.3 197.8,924.3 198.1,953.9 198.5,923.0 198.8,954.5 199.2,923.5 199.5,953.7 199.8,924.4 200.2,954.2 200.5,923.9 200.9,954.2 201.2,923.5 201.5,954.4 201.9,924.2 202.2,954.6 202.6,925.5 202.9,956.7 203.2,925.9 203.6,955.5 203.9,924.9 204.3,956.3 204.6,926.6 204.9,958.0 205.3,926.6 205.6,956.0 206.0,926.3 206.3,957.6 206.6,925.6 207.0,956.7 207.3,926.8 207.7,956.8 208.0,926.7 208.3,958.8 208.7,926.2 209.0,959.4 209.4,926.4 209.7,959.6 210.0,926.7 210.4,958.7 210.7,927.8 211.1,959.0 211.4,927.5 211.7,957.5 212.1,927.1 212.4,959.2 212.8,927.8 213.1,958.4 213.4,927.1 213.8,958.1 214.1,927.6 214.5,959.0 214.8,927.3 215.1,958.0 215.5,926.8 215.8,956.5 216.2,926.4 216.5,956.7 216.8,927.5 217.2,956.3 217.5,927.2 217.9,956.3 218.2,926.0 218.5,957.2 218.9,925.2 219.2,958.0 219.6,925.1 219.9,956.2 220.2,926.3 220.6,956.3 220.9,926.0 221.3,957.1 221.6,925.6 221.9,957.3 222.3,927.0 222.6,956.7 223.0,926.4 223.3,955.7 223.6,927.6 224.0,956.7 224.3,927.5 224.7,957.4 225.0,927.3 225.3,956.0 225.7,927.5 226.0,956.3 226.4,927.5 226.7,956.9 227.0,927.0 227.4,956.4 227.7,926.7 228.1,956.2 228.4,926.2 228.7,958.3 229.1,927.7 229.4,958.8 229.8,929.8 230.1,960.9 230.4,932.4 230.8,962.3 231.1,932.9 231.5,963.5 231.8,935.5 232.1,966.6 232.5,936.4 232.8,967.8 233.2,936.5 233.5,969.9 233.8,939.4 234.2,972.7 234.5,940.6 234.9,972.2 235.2,941.2 235.5,974.3 235.9,943.5 236.2,978.0 236.6,942.2 236.9,951.0 237.2,943.4 237.6,952.2 237.9,937.8 238.3,945.9 238.6,934.8 238.9,951.9 239.3,942.4 239.6,960.3 240.0,951.4 240.3,969.5 240.6,960.0 241.0,977.3 241.3,967.4 241.7,983.1 242.0,971.1 242.3,984.8 242.7,970.3 243.0,982.2 243.4,966.2 243.7,976.4 244.0,958.0 244.4,967.4 244.7,948.1 245.1,956.9 245.4,938.1 245.7,946.9 246.1,930.1 246.4,940.5 246.8,924.6 247.1,937.9 247.4,924.5 247.8,940.4 248.1,929.5 248.5,948.2 248.8,938.6 249.1,959.0 249.5,950.0 249.8,970.7 250.2,961.1 250.5,979.4 250.8,968.8 251.2,984.2 251.5,970.8 251.9,983.3 252.2,965.5 252.5,975.9 252.9,955.7 253.2,965.0 253.6,943.4 253.9,951.9 254.2,932.4 254.6,943.0 254.9,924.8 255.3,937.8 255.6,923.4 255.9,940.8 256.3,928.8 256.6,948.4 257.0,939.9 257.3,961.8 257.6,953.2 258.0,974.9 258.3,964.4 258.7,982.4 259.0,969.5 259.3,985.0 259.7,966.4 260.0,977.9 260.4,957.4 260.7,965.7 261.0,943.7 261.4,952.5 261.7,930.3 262.1,941.5 262.4,922.5 262.7,937.7 263.1,923.6 263.4,942.3 263.8,932.6 264.1,954.7 264.4,945.5 264.8,968.4 265.1,958.7 265.5,978.5 265.8,966.5 266.1,982.0 266.5,965.2 266.8,977.2 267.2,955.4 267.5,965.5 267.8,942.5 268.2,950.9 268.5,929.5 268.9,941.1 269.2,922.7 269.5,939.6 269.9,925.9 270.2,947.2 270.6,936.8 270.9,961.4 271.2,951.9 271.6,974.9 271.9,963.5 272.3,982.7 272.6,966.4 272.9,978.9 273.3,958.1 273.6,967.0 274.0,943.1 274.3,950.7 274.6,928.7 275.0,940.0 275.3,921.1 275.7,938.5 276.0,926.1 276.3,948.9 276.7,940.3 277.0,965.1 277.4,955.0 277.7,978.6 278.0,964.1 278.4,981.4 278.7,960.5 279.1,971.6 279.4,946.7 279.7,955.7 280.1,930.8 280.4,943.1 280.8,921.9 281.1,939.6 281.4,924.8 281.8,949.1 282.1,939.2 282.5,964.8 282.8,955.0 283.1,978.3 283.5,962.7 283.8,980.4 284.2,958.5 284.5,969.6 284.8,943.2 285.2,952.3 285.5,926.1 285.9,940.1 286.2,920.9 286.5,940.8 286.9,927.1 287.2,954.0 287.6,944.1 287.9,970.4 288.2,956.8 288.6,980.4 288.9,960.5 289.3,975.4 289.6,949.5 289.9,960.7 290.3,932.7 290.6,945.6 291.0,921.6 291.3,940.0 291.6,922.6 292.0,949.2 292.3,936.6 292.7,965.2 293.0,951.9 293.3,976.8 293.7,959.4 294.0,977.4 294.4,952.0 294.7,964.7 295.0,935.6 295.4,949.2 295.7,921.6 296.1,941.7 296.4,921.8 296.7,948.3 297.1,934.1 297.4,965.1 297.8,951.1 298.1,976.8 298.4,957.5 298.8,977.2 299.1,949.3 299.5,962.5 299.8,932.6 300.1,947.3 300.5,920.9 300.8,941.7 301.2,923.0 301.5,952.7 301.8,936.6 302.2,966.8 302.5,949.8 302.9,976.0 303.2,953.0 303.5,972.1 303.9,941.9 304.2,957.7 304.6,927.7 304.9,946.2 305.2,920.3 305.6,945.4 305.9,926.4 306.3,957.3 306.6,940.3 306.9,971.0 307.3,948.9 307.6,975.2 308.0,946.3 308.3,966.3 308.6,932.9 309.0,952.1 309.3,921.2 309.7,944.7 310.0,921.2 310.3,950.7 310.7,931.7 311.0,964.3 311.4,944.8 311.7,975.4 312.0,949.0 312.4,970.5 312.7,938.7 313.1,956.3 313.4,923.3 313.7,945.9 314.1,917.1 314.4,947.6 314.8,926.0 315.1,960.2 315.4,939.0 315.8,971.1 316.1,946.6 316.5,972.3 316.8,939.8 317.1,959.6 317.5,924.9 317.8,948.0 318.2,918.3 318.5,944.3 318.8,922.8 319.2,959.6 319.5,941.0 319.9,974.7 320.2,946.6 320.5,973.2 320.9,938.5 321.2,957.4 321.6,921.9 321.9,944.2 322.2,913.9 322.6,947.3 322.9,923.1 323.3,960.0 323.6,937.7 323.9,971.5 324.3,942.7 324.6,970.3 325.0,936.5 325.3,958.1 325.6,922.5 326.0,946.8 326.3,916.7 326.7,949.5 327.0,923.3 327.3,960.0 327.7,937.0 328.0,969.9 328.4,940.8 328.7,966.5 329.0,931.9 329.4,954.7 329.7,919.2 330.1,944.5 330.4,915.6 330.7,948.1 331.1,926.5 331.4,963.5 331.8,938.5 332.1,970.7 332.4,939.7 332.8,964.7 333.1,927.4 333.5,951.0 333.8,917.0 334.1,944.7 334.5,917.0 334.8,951.5 335.2,929.8 335.5,964.5 335.8,938.5 336.2,968.0 336.5,934.0 336.9,959.0 337.2,921.8 337.5,945.8 337.9,915.2 338.2,946.2 338.6,921.7 338.9,957.2 339.2,931.6 339.6,967.2 339.9,936.5 340.3,964.6 340.6,928.3 340.9,953.2 341.3,913.4 341.6,940.8 342.0,911.3 342.3,945.9 342.6,925.4 343.0,963.8 343.3,940.0 343.7,970.4 344.0,937.9 344.3,960.2 344.7,921.9 345.0,945.6 345.4,912.8 345.7,943.1 346.0,916.3 346.4,953.4 346.7,930.7 347.1,966.7 347.4,938.6 347.7,964.7 348.1,927.8 348.4,950.1 348.8,912.3 349.1,939.1 349.4,911.1 349.8,945.7 350.1,924.7 350.5,960.9 350.8,938.7 351.1,946.2 351.5,910.2 351.8,937.2 352.2,915.1 352.5,948.9 352.8,926.5 353.2,961.8 353.5,935.8 353.9,962.7 354.2,929.7 354.5,953.3 354.9,917.9 355.2,941.4 355.6,910.3 355.9,942.5 356.2,921.1 356.6,956.8 356.9,934.1 357.3,947.2 357.6,912.6 357.9,938.2 358.3,912.5 358.6,945.5 359.0,923.6 359.3,960.9 359.6,935.6 360.0,963.6 360.3,930.8 360.7,951.0 361.0,917.1 361.3,939.5 361.7,908.9 362.0,941.0 362.4,919.6 362.7,954.2 363.0,933.0 363.4,963.4 363.7,934.3 364.1,955.8 364.4,919.1 364.7,939.5 365.1,908.4 365.4,937.7 365.8,916.4 366.1,950.0 366.4,930.1 366.8,962.4 367.1,935.5 367.5,957.3 367.8,922.7 368.1,941.7 368.5,910.7 368.8,936.3 369.2,914.8 369.5,946.6 369.8,927.3 370.2,957.7 370.5,931.1 370.9,951.8 371.2,920.6 371.5,940.5 371.9,912.4 372.2,937.6 372.6,916.7 372.9,947.9 373.2,927.8 373.6,957.4 373.9,931.2 374.3,952.7 374.6,920.1 374.9,939.8 375.3,912.0 375.6,937.4 376.0,915.3 376.3,945.9 376.6,927.8 377.0,955.4 377.3,931.3 377.7,952.2 378.0,922.0 378.3,939.0 378.7,910.8 379.0,934.2 379.4,914.0 379.7,944.3 380.0,928.4 380.4,957.5 380.7,933.5 381.1,953.9 381.4,921.9 381.7,940.1 382.1,911.9 382.4,936.1 382.8,916.0 383.1,947.3 383.4,928.8 383.8,959.1 384.1,934.2 384.5,956.3 384.8,923.8 385.1,942.1 385.5,913.5 385.8,938.1 386.2,915.9 386.5,948.9 386.8,931.9 387.2,963.2 387.5,936.7 387.9,957.5 388.2,925.1 388.5,944.7 388.9,912.9 389.2,940.4 389.6,918.9 389.9,952.3 390.2,935.0 390.6,966.2 390.9,938.6 391.3,958.5 391.6,925.0 391.9,945.6 392.3,915.8 392.6,945.3 393.0,922.3 393.3,957.1 393.6,935.5 394.0,965.6 394.3,937.4 394.7,959.2 395.0,923.5 395.3,945.0 395.7,914.4 396.0,945.0 396.4,923.8 396.7,962.1 397.0,940.0 397.4,961.6 397.7,923.8 398.1,946.2 398.4,929.6 398.7,965.0 399.1,941.9 399.4,969.3 399.8,934.7 400.1,955.7 400.4,919.2 400.8,944.4 401.1,920.0 401.5,954.5 401.8,932.6 402.1,968.9 402.5,941.0 402.8,966.4 403.2,930.3 403.5,954.9 403.8,918.8 404.2,949.3 404.5,922.6 404.9,959.5 405.2,935.6 405.5,969.8 405.9,939.2 406.2,965.9 406.6,928.6 406.9,953.1 407.2,919.4 407.6,951.1 407.9,927.2 408.3,965.3 408.6,941.1 408.9,972.6 409.3,940.1 409.6,963.7 410.0,924.8 410.3,950.7 410.6,918.9 411.0,955.0 411.3,932.9 411.7,969.1 412.0,941.1 412.3,970.6 412.7,932.6 413.0,955.9 413.4,917.8 413.7,945.2 414.0,918.6 414.4,957.1 414.7,936.9 415.1,972.5 415.4,941.4 415.7,964.8 416.1,926.4 416.4,945.4 416.8,914.4 417.1,945.1 417.4,925.5 417.8,963.7 418.1,939.7 418.5,970.7 418.8,934.0 419.1,953.9 419.5,917.8 419.8,943.7 420.2,916.1 420.5,950.8 420.8,930.6 421.2,965.7 421.5,938.3 421.9,963.8 422.2,926.6 422.5,946.9 422.9,913.9 423.2,943.5 423.6,920.3 423.9,959.4 424.2,938.0 424.6,966.5 424.9,934.0 425.3,955.8 425.6,917.1 425.9,940.9 426.3,914.2 426.6,949.4 427.0,929.2 427.3,965.0 427.6,938.2 428.0,963.1 428.3,926.9 428.7,947.0 429.0,913.0 429.3,943.5 429.7,918.4 430.0,956.2 430.4,934.4 430.7,967.4 431.0,933.9 431.4,954.5 431.7,918.6 432.1,943.1 432.4,913.9 432.7,948.3 433.1,926.9 433.4,962.2 433.8,934.4 434.1,962.1 434.4,924.7 434.8,947.8 435.1,914.2 435.5,942.4 435.8,919.8 436.1,956.6 436.5,932.4 436.8,965.1 437.2,932.2 437.5,956.1 437.8,918.1 438.2,942.9 438.5,915.0 438.9,948.0 439.2,926.0 439.5,963.5 439.9,935.9 440.2,962.2 440.6,925.2 440.9,948.9 441.2,914.8 441.6,944.3 441.9,919.6 442.3,956.4 442.6,933.0 442.9,965.4 443.3,934.0 443.6,956.3 444.0,918.9 444.3,942.6 444.6,914.4 445.0,948.9 445.3,928.3 445.7,964.7 446.0,938.3 446.3,964.9 446.7,925.3 447.0,946.9 447.4,912.2 447.7,942.0 448.0,919.1 448.4,959.6 448.7,934.8 449.1,965.5 449.4,933.1 449.7,955.3 450.1,916.5 450.4,944.0 450.8,915.4 451.1,950.4 451.4,931.2 451.8,964.6 452.1,936.8 452.5,962.5 452.8,915.1 453.1,943.0 453.5,920.1 453.8,957.9 454.2,935.6 454.5,968.6 454.8,936.3 455.2,956.0 455.5,918.1 455.9,943.2 456.2,914.1 456.5,950.7 456.9,930.4 457.2,965.7 457.6,938.2 457.9,964.1 458.2,926.0 458.6,947.8 458.9,912.2 459.3,943.3 459.6,921.8 459.9,959.7 460.3,935.9 460.6,968.0 461.0,933.5 461.3,954.1 461.6,917.8 462.0,944.3 462.3,921.9 462.7,960.8 463.0,937.5 463.3,969.9 463.7,932.9 464.0,954.0 464.4,917.2 464.7,943.6 465.0,918.4 465.4,954.8 465.7,931.9 466.1,967.3 466.4,935.5 466.7,961.8 467.1,924.3 467.4,947.6 467.8,915.6 468.1,955.8 468.4,934.0 468.8,967.4 469.1,937.3 469.5,961.8 469.8,923.9 470.1,947.4 470.5,917.5 470.8,950.7 471.2,928.4 471.5,964.7 471.8,937.2 472.2,965.1 472.5,929.7 472.9,953.2 473.2,917.5 473.5,948.2 473.9,922.6 474.2,960.5 474.6,936.2 474.9,969.1 475.2,935.1 475.6,957.1 475.9,921.2 476.3,945.7 476.6,916.8 476.9,954.9 477.3,934.0 477.6,970.7 478.0,942.5 478.3,965.1 478.6,926.3 479.0,949.9 479.3,917.1 479.7,949.4 480.0,929.1 480.3,966.0 480.7,939.7 481.0,967.8 481.4,934.4 481.7,954.4 482.0,917.3 482.4,946.6 482.7,922.9 483.1,961.0 483.4,938.8 483.7,970.7 484.1,939.5 484.4,959.3 484.8,922.6 485.1,946.4 485.4,918.6 485.8,954.9 486.1,935.8 486.5,970.9 486.8,939.7 487.1,965.0 487.5,927.0 487.8,950.1 488.2,919.3 488.5,952.3 488.8,928.9 489.2,967.6 489.5,943.1 489.9,971.2 490.2,933.4 490.5,954.6 490.9,919.7 491.2,949.0 491.6,925.6 491.9,963.1 492.2,941.7 492.6,972.6 492.9,938.3 493.3,959.3 493.6,920.4 493.9,947.8 494.3,920.3 494.6,959.8 495.0,936.5 495.3,972.6 495.6,942.6 496.0,965.7 496.3,926.9 496.7,950.8 497.0,918.7 497.3,969.2 497.7,941.0 498.0,971.2 498.4,933.7 498.7,956.5 499.0,919.9 499.4,950.7 499.7,927.5 500.1,965.2 500.4,940.4 500.7,972.1 501.1,936.7 501.4,960.7 501.8,923.1 502.1,950.3 502.4,924.2 502.8,960.7 503.1,940.5 503.5,975.8 503.8,943.3 504.1,966.6 504.5,924.3 504.8,950.2 505.2,919.5 505.5,957.0 505.8,934.4 506.2,971.8 506.5,939.8 506.9,965.0 507.2,925.5 507.5,952.5 507.9,923.0 508.2,958.5 508.6,935.7 508.9,973.0 509.2,941.4 509.6,968.2 509.9,928.8 510.3,952.5 510.6,919.2 510.9,954.7 511.3,932.1 511.6,970.9 512.0,941.3 512.3,971.7 512.6,931.9 513.0,958.0 513.3,919.8 513.7,952.3 514.0,927.8 514.3,965.4 514.7,937.7 515.0,972.4 515.4,935.7 515.7,961.3 516.0,923.2 516.4,953.7 516.7,923.8 517.1,963.0 517.4,936.5 517.7,973.2 518.1,938.7 518.4,965.5 518.8,926.6 519.1,953.9 519.4,921.2 519.8,958.8 520.1,934.7 520.5,974.4 520.8,942.8 521.1,968.2 521.5,929.4 521.8,953.3 522.2,925.3 522.5,963.0 522.8,936.5 523.2,971.7 523.5,938.4 523.9,963.2 524.2,924.2 524.5,953.5 524.9,920.7 525.2,960.4 525.6,933.8 525.9,971.8 526.2,939.1 526.6,967.1 526.9,927.9 527.3,953.8 527.6,920.4 527.9,961.9 528.3,938.7 528.6,975.7 529.0,940.0 529.3,965.3 529.6,925.1 530.0,950.9 530.3,918.4 530.7,956.1 531.0,932.9 531.3,973.8 531.7,943.5 532.0,969.8 532.4,929.5 532.7,953.2 533.0,917.7 533.4,953.2 533.7,929.6 534.1,968.5 534.4,941.9 534.7,971.7 535.1,933.9 535.4,956.7 535.8,917.5 536.1,948.7 536.4,923.3 536.8,964.8 537.1,940.5 537.5,975.3 537.8,938.9 538.1,961.6 538.5,920.4 538.8,949.9 539.2,918.6 539.5,960.6 539.8,935.9 540.2,972.8 540.5,941.3 540.9,964.3 541.2,923.8 541.5,949.0 541.9,917.3 542.2,954.9 542.6,932.1 542.9,970.5 543.2,941.7 543.6,968.2 543.9,928.4 544.3,953.8 544.6,917.7 544.9,952.6 545.3,926.7 545.6,967.4 546.0,939.0 546.3,969.4 546.6,921.0 547.0,948.2 547.3,917.2 547.7,957.7 548.0,934.6 548.3,972.4 548.7,940.6 549.0,966.1 549.4,925.1 549.7,951.0 550.0,918.4 550.4,954.5 550.7,930.3 551.1,968.6 551.4,937.0 551.7,968.3 552.1,928.6 552.4,953.3 552.8,917.4 553.1,949.9 553.4,924.4 553.8,965.9 554.1,939.2 554.5,971.8 554.8,931.3 555.1,958.4 555.5,919.0 555.8,950.5 556.2,920.6 556.5,961.7 556.8,936.3 557.2,970.7 557.5,935.9 557.9,960.8 558.2,921.6 558.5,949.3 558.9,918.6 559.2,958.4 559.6,934.8 559.9,973.3 560.2,941.1 560.6,966.5 560.9,925.7 561.3,950.1 561.6,918.8 561.9,955.7 562.3,930.3 562.6,970.8 563.0,943.8 563.3,970.7 563.6,931.9 564.0,954.2 564.3,920.2 564.7,951.4 565.0,927.7 565.3,968.7 565.7,939.0 566.0,970.2 566.4,936.4 566.7,961.1 567.0,923.9 567.4,953.8 567.7,927.3 568.1,962.0 568.4,938.9 568.7,972.1 569.1,937.2 569.4,962.1 569.8,923.6 570.1,952.5 570.4,920.9 570.8,958.8 571.1,933.0 571.5,967.6 571.8,936.9 572.1,962.8 572.5,926.9 572.8,952.3 573.2,920.5 573.5,953.8 573.8,929.0 574.2,967.8 574.5,939.4 574.9,964.8 575.2,927.0 575.5,950.4 575.9,916.6 576.2,946.7 576.6,923.4 576.9,960.8 577.2,933.1 577.6,963.2 577.9,930.4 578.3,953.8 578.6,919.4 578.9,948.5 579.3,920.1 579.6,959.3 580.0,934.7 580.3,967.1 580.6,932.0 581.0,956.2 581.3,920.2 581.7,945.6 582.0,917.5 582.3,955.1 582.7,932.0 583.0,966.5 583.4,935.5 583.7,959.9 584.0,922.9 584.4,946.4 584.7,918.6 585.1,951.1 585.4,927.6 585.7,965.0 586.1,928.6 586.4,954.0 586.8,918.1 587.1,948.7 587.4,918.4 587.8,958.5 588.1,935.6 588.5,968.3 588.8,933.0 589.1,955.9 589.5,917.1 589.8,944.7 590.2,916.0 590.5,967.8 590.8,935.9 591.2,959.6 591.5,920.3 591.9,944.8 592.2,914.4 592.5,950.7 592.9,934.9 593.2,961.6 593.6,925.2 593.9,948.6 594.2,923.5 594.6,961.9 594.9,932.5 595.3,961.9 595.6,928.1 595.9,951.4 596.3,914.1 596.6,945.5 597.0,919.4 597.3,957.8 597.6,933.8 598.0,965.9 598.3,931.1 598.7,955.0 599.0,915.8 599.3,945.3 599.7,916.3 600.0,954.1 600.4,929.5 600.7,963.9 601.0,930.9 601.4,958.3 601.7,919.9 602.1,946.1 602.4,915.4 602.7,952.0 603.1,925.9 603.4,963.3 603.8,934.4 604.1,960.6 604.4,921.6 604.8,945.4 605.1,913.3 605.5,945.7 605.8,923.7 606.1,962.5 606.5,934.1 606.8,962.9 607.2,925.3 607.5,947.3 607.8,911.3 608.2,942.8 608.5,917.8 608.9,957.1 609.2,931.0 609.5,964.8 609.9,927.6 610.2,952.6 610.6,915.9 610.9,943.3 611.2,915.5 611.6,954.0 611.9,929.0 612.3,965.6 612.6,932.5 612.9,954.8 613.3,916.8 613.6,943.0 614.0,910.5 614.3,949.7 614.6,925.3 615.0,961.9 615.3,930.6 615.7,957.5 616.0,920.2 616.3,946.8 616.7,914.0 617.0,948.1 617.4,921.2 617.7,960.9 618.0,931.0 618.4,961.1 618.7,923.6 619.1,946.6 619.4,911.7 619.7,943.7 620.1,918.9 620.4,957.9 620.8,931.1 621.1,963.6 621.4,926.3 621.8,948.6 622.1,912.7 622.5,940.8 622.8,915.5 623.1,954.0 623.5,926.6 623.8,961.2 624.2,926.7 624.5,952.2 624.8,913.9 625.2,942.3 625.5,910.2 625.9,948.5 626.2,925.3 626.5,960.6 626.9,918.9 627.2,942.5 627.6,908.2 627.9,945.2 628.2,919.2 628.6,958.1 628.9,929.9 629.3,960.4 629.6,922.2 629.9,945.1 630.3,908.7 630.6,940.5 631.0,916.0 631.3,953.8 631.6,928.1 632.0,959.3 632.3,923.3 632.7,948.1 633.0,909.7 633.3,938.8 633.7,912.7 634.0,950.9 634.4,925.4 634.7,959.4 635.0,926.2 635.4,951.1 635.7,912.6 636.1,940.3 636.4,910.0 636.7,945.9 637.1,921.5 637.4,959.7 637.8,927.9 638.1,954.2 638.4,916.0 638.8,940.7 639.1,907.7 639.5,943.5 639.8,918.3 640.1,957.1 640.5,927.0 640.8,956.5 641.2,918.2 641.5,943.3 641.8,907.1 642.2,941.9 642.5,914.9 642.9,954.3 643.2,926.3 643.5,957.5 643.9,920.3 644.2,944.3 644.6,907.2 644.9,939.1 645.2,912.1 645.6,949.4 645.9,925.4 646.3,958.6 646.6,923.2 646.9,948.0 647.3,911.7 647.6,940.2 648.0,911.0 648.3,947.8 648.6,921.1 649.0,955.3 649.3,923.0 649.7,950.1 650.0,913.1 650.3,940.2 650.7,908.9 651.0,943.1 651.4,917.5 651.7,956.8 652.0,926.0 652.4,953.7 652.7,915.0 653.1,940.9 653.4,905.8 653.7,942.0 654.1,914.3 654.4,952.7 654.8,923.0 655.1,956.9 655.4,917.6 655.8,944.6 656.1,905.8 656.5,938.3 656.8,910.5 657.1,950.8 657.5,921.9 657.8,958.0 658.2,919.2 658.5,946.3 658.8,906.3 659.2,937.2 659.5,907.6 659.9,949.2 660.2,921.6 660.5,960.2 660.9,922.0 661.2,949.7 661.6,908.3 661.9,938.4 662.2,904.8 662.6,944.7 662.9,916.1 663.3,957.6 663.6,920.3 663.9,952.4 664.3,910.9 664.6,938.8 665.0,901.5 665.3,942.5 665.6,911.1 666.0,952.7 666.3,921.8 666.7,956.0 667.0,913.5 667.3,940.7 667.7,899.5 668.0,936.9 668.4,908.5 668.7,951.4 669.0,919.0 669.4,955.6 669.7,912.9 670.1,942.3 670.4,902.0 670.7,936.8 671.1,902.5 671.4,947.4 671.8,914.8 672.1,953.1 672.4,914.2 672.8,944.5 673.1,901.3 673.5,937.2 673.8,899.6 674.1,941.9 674.5,910.8 674.8,951.2 675.2,915.8 675.5,946.0 675.8,905.3 676.2,936.2 676.5,901.3 676.9,940.4 677.2,907.8 677.5,949.9 677.9,913.8 678.2,949.9 678.6,904.6 678.9,936.2 679.2,897.6 679.6,934.7 679.9,905.7 680.3,947.9 680.6,914.4 680.9,947.5 681.3,908.0 681.6,935.7 682.0,897.0 682.3,931.5 682.6,902.1 683.0,940.2 683.3,911.7 683.7,943.6 684.0,903.7 684.3,931.4 684.7,895.7 685.0,932.6 685.4,900.3 685.7,941.8 686.0,909.8 686.4,942.7 686.7,903.5 687.1,931.1 687.4,893.0 687.7,928.0 688.1,899.7 688.4,936.9 688.8,906.8 689.1,938.8 689.4,905.4 689.8,932.8 690.1,896.3 690.5,926.9 690.8,895.0 691.1,933.6 691.5,905.4 691.8,941.6 692.2,906.2 692.5,933.1 692.8,894.0 693.2,925.1 693.5,892.5 693.9,929.3 694.2,903.0 694.5,938.6 694.9,906.2 695.2,936.4 695.6,896.5 695.9,927.0 696.2,892.2 696.6,927.0 696.9,897.9 697.3,935.3 697.6,895.7 697.9,926.6 698.3,890.7 698.6,928.4 699.0,899.0 699.3,937.4 699.6,904.0 700.0,935.5 700.3,895.6 700.7,925.8 701.0,891.0 701.3,926.6 701.7,895.7 702.0,934.5 702.4,903.1 702.7,934.8 703.0,896.7 703.4,927.9 703.7,890.8 704.1,924.7 704.4,892.7 704.7,932.8 705.1,900.2 705.4,936.1 705.8,897.7 706.1,930.4 706.4,888.8 706.8,924.5 707.1,891.2 707.5,931.2 707.8,898.7 708.1,938.1 708.5,898.8 708.8,932.1 709.2,890.3 709.5,926.2 709.8,887.6 710.2,929.4 710.5,895.9 710.9,937.9 711.2,900.9 711.5,935.3 711.9,889.2 712.2,924.5 712.6,886.4 712.9,927.2 713.2,893.4 713.6,938.5 713.9,899.4 714.3,932.3 714.6,889.3 714.9,924.1 715.3,884.5 715.6,929.9 716.0,891.6 716.3,936.6 716.6,896.1 717.0,932.8 717.3,889.7 717.7,927.3 718.0,883.5 718.3,926.4 718.7,889.8 719.0,936.8 719.4,895.7 719.7,935.8 720.0,892.4 720.4,925.8 720.7,884.2 721.1,923.4 721.4,887.1 721.7,933.6 722.1,895.1 722.4,936.1 722.8,893.3 723.1,928.2 723.4,885.1 723.8,925.2 724.1,885.5 724.5,929.3 724.8,895.0 725.1,934.7 725.5,894.0 725.8,929.2 726.2,884.1 726.5,921.1 726.8,882.6 727.2,927.2 727.5,891.9 727.9,936.1 728.2,895.2 728.5,930.8 728.9,886.8 729.2,923.3 729.6,882.8 729.9,925.3 730.2,891.6 730.6,932.5 730.9,895.9 731.3,933.2 731.6,889.7 731.9,923.8 732.3,884.5 732.6,923.3 733.0,887.5 733.3,934.9 733.6,895.4 734.0,928.3 734.3,887.7 734.7,920.9 735.0,884.5 735.3,926.0 735.7,889.9 736.0,933.1 736.4,895.9 736.7,931.5 737.0,887.3 737.4,922.7 737.7,883.9 738.1,923.5 738.4,888.1 738.7,929.3 739.1,895.9 739.4,921.7 739.8,884.1 740.1,923.5 740.4,888.9 740.8,930.4 741.1,893.1 741.5,931.4 741.8,888.2 742.1,923.3 742.5,883.4 742.8,921.7 743.2,885.8 743.5,931.0 743.8,896.0 744.2,933.8 744.5,891.0 744.9,924.5 745.2,883.5 745.5,922.3 745.9,885.1 746.2,927.8 746.6,892.5 746.9,933.6 747.2,892.9 747.6,927.8 747.9,884.7 748.3,922.7 748.6,886.0 748.9,928.9 749.3,893.9 749.6,933.0 750.0,891.7 750.3,927.5 750.6,882.9 751.0,920.1 751.3,883.1 751.7,927.1 752.0,892.3 752.3,933.1 752.7,892.5 753.0,927.2 753.4,883.9 753.7,922.6 754.0,884.8 754.4,926.1 754.7,890.8 755.1,930.1 755.4,892.8 755.7,928.2 756.1,885.9 756.4,922.1 756.8,882.8 757.1,923.7 757.4,890.0 757.8,929.4 758.1,891.5 758.5,929.2 758.8,887.7 759.1,923.5 759.5,882.0 759.8,922.6 760.2,887.8 760.5,932.3 760.8,892.5 761.2,931.5 761.5,888.7 761.9,924.4 762.2,882.9 762.5,923.7 762.9,886.2 763.2,928.6 763.6,892.3 763.9,933.6 764.2,889.8 764.6,929.3 764.9,883.1 765.3,924.4 765.6,884.4 765.9,928.6 766.3,892.5 766.6,928.4 767.0,884.7 767.3,924.0 767.6,883.5 768.0,928.0 768.3,891.5 768.7,935.6 769.0,890.6 769.3,932.5 769.7,885.0 770.0,924.2 770.4,882.3 770.7,930.0 771.0,890.6 771.4,936.6 771.7,890.9 772.1,930.5 772.4,885.9 772.7,926.2 773.1,891.5 773.4,935.5 773.8,891.4 774.1,932.2 774.4,881.0 774.8,927.1 775.1,884.2 775.5,933.7 775.8,891.7 776.1,939.1 776.5,890.1 776.8,932.3 777.2,882.8 777.5,925.3 777.8,883.3 778.2,930.5 778.5,889.3 778.9,937.9 779.2,892.8 779.5,933.2 779.9,882.2 780.2,927.3 780.6,883.2 780.9,928.8 781.2,888.3 781.6,937.1 781.9,890.3 782.3,934.4 782.6,883.0 782.9,926.0 783.3,881.5 783.6,929.3 784.0,886.8 784.3,935.4 784.6,893.0 785.0,934.7 785.3,886.8 785.7,925.2 786.0,881.5 786.3,926.1 786.7,884.9 787.0,934.1 787.4,893.4 787.7,934.9 788.0,887.5 788.4,923.2 788.7,884.3 789.1,930.8 789.4,891.8 789.7,937.6 790.1,890.0 790.4,931.8 790.8,880.3 791.1,924.9 791.4,881.6 791.8,928.2 792.1,889.1 792.5,933.8 792.8,888.3 793.1,929.7 793.5,883.8 793.8,926.0 794.2,881.7 794.5,928.6 794.8,889.1 795.2,933.4 795.5,890.7 795.9,933.8 796.2,883.5 796.5,926.2 796.9,880.8 797.2,926.5 797.6,884.9 797.9,933.7 798.2,891.4 798.6,927.4 798.9,878.7 799.3,925.5 799.6,884.7 799.9,932.7 800.3,890.2 800.6,933.2 801.0,886.5 801.3,927.7 801.6,880.9 802.0,926.0 802.3,881.4 802.7,932.0 803.0,889.6 803.3,934.0 803.7,887.7 804.0,928.4 804.4,880.0 804.7,922.8 805.0,881.6 805.4,930.9 805.7,886.8 806.1,934.2 806.4,887.4 806.7,930.4 807.1,878.6 807.4,923.1 807.8,877.9 808.1,930.1 808.4,885.9 808.8,934.2 809.1,885.3 809.5,929.9 809.8,882.5 810.1,925.0 810.5,879.2 810.8,926.4 811.2,886.0 811.5,932.3 811.8,889.0 812.2,930.6 812.5,880.2 812.9,923.5 813.2,878.9 813.5,923.9 813.9,882.7 814.2,934.0 814.6,886.1 814.9,932.0 815.2,883.2 815.6,924.3 815.9,877.7 816.3,923.4 816.6,882.1 816.9,930.3 817.3,885.6 817.6,932.4 818.0,883.5 818.3,926.1 818.6,876.1 819.0,924.1 819.3,878.6 819.7,929.0 820.0,883.7 820.3,930.4 820.7,884.2 821.0,927.5 821.4,876.9 821.7,921.5 822.0,878.3 822.4,928.2 822.7,886.4 823.1,933.1 823.4,884.9 823.7,926.4 824.1,877.9 824.4,923.4 824.8,878.2 825.1,923.1 825.4,887.3 825.8,929.7 826.1,882.6 826.5,922.2 826.8,874.1 827.1,921.1 827.5,881.6 827.8,930.1 828.2,887.1 828.5,930.2 828.8,880.0 829.2,921.2 829.5,877.3 829.9,922.6 830.2,881.2 830.5,929.5 830.9,885.5 831.2,927.8 831.6,881.3 831.9,923.1 832.2,875.9 832.6,919.7 832.9,879.4 833.3,928.1 833.6,886.2 833.9,930.1 834.3,884.5 834.6,923.2 835.0,873.5 835.3,917.6 835.6,875.7 836.0,923.5 836.3,886.5 836.7,930.9 837.0,882.5 837.3,923.1 837.7,877.9 838.0,919.4 838.4,878.0 838.7,924.5 839.0,883.7 839.4,927.2 839.7,885.4 840.1,923.5 840.4,877.1 840.7,919.9 841.1,876.2 841.4,921.3 841.8,881.0 842.1,927.9 842.4,886.2 842.8,924.1 843.1,878.2 843.5,918.5 843.8,876.3 844.1,918.7 844.5,881.3 844.8,927.2 845.2,885.6 845.5,926.1 845.8,880.7 846.2,919.4 846.5,875.9 846.9,916.9 847.2,881.7 847.5,924.4 847.9,887.9 848.2,925.4 848.6,882.5 848.9,918.2 849.2,876.0 849.6,921.4 849.9,884.3 850.3,927.6 850.6,886.1 850.9,925.3 851.3,882.3 851.6,918.6 852.0,876.0 852.3,922.2 852.6,884.9 853.0,930.3 853.3,890.0 853.7,928.7 854.0,883.3 854.3,923.9 854.7,880.3 855.0,920.6 855.4,883.2 855.7,930.1 856.0,889.7 856.4,930.4 856.7,884.8 857.1,922.1 857.4,878.2 857.7,923.2 858.1,882.2 858.4,927.7 858.8,886.7 859.1,930.9 859.4,886.7 859.8,924.5 860.1,880.3 860.5,923.4 860.8,881.2 861.1,928.3 861.5,886.0 861.8,930.8 862.2,886.1 862.5,926.4 862.8,879.4 863.2,920.8 863.5,879.4 863.9,927.3 864.2,884.6 864.5,932.5 864.9,887.6 865.2,928.5 865.6,880.2 865.9,920.8 866.2,879.0 866.6,925.7 866.9,883.2 867.3,930.0 867.6,887.0 867.9,930.1 868.3,882.5 868.6,923.7 869.0,875.9 869.3,924.9 869.6,883.1 870.0,932.5 870.3,886.7 870.7,930.1 871.0,881.0 871.3,924.1 871.7,882.1 872.0,933.2 872.4,886.5 872.7,931.1 873.0,882.0 873.4,925.3 873.7,878.5 874.1,923.5 874.4,880.4 874.7,929.3 875.1,886.3 875.4,930.5 875.8,881.2 876.1,923.8 876.4,876.3 876.8,922.4 877.1,880.8 877.5,930.5 877.8,884.6 878.1,925.3 878.5,875.7 878.8,920.0 879.2,878.7 879.5,924.0 879.8,883.2 880.2,931.2 880.5,885.8 880.9,929.0 881.2,878.1 881.5,923.1 881.9,877.5 882.2,922.6 882.6,881.4 882.9,928.8 883.2,885.3 883.6,927.9 883.9,879.7 884.3,920.4 884.6,877.3 884.9,919.9 885.3,883.0 885.6,929.3 886.0,886.0 886.3,929.0 886.6,879.9 887.0,922.5 887.3,877.6 887.7,921.7 888.0,880.0 888.3,924.8 888.7,884.7 889.0,925.8 889.4,882.6 889.7,921.6 890.0,876.4 890.4,924.8 890.7,885.3 891.1,927.5 891.4,883.8 891.7,924.1 892.1,879.0 892.4,919.8 892.8,878.0 893.1,922.5 893.4,883.1 893.8,927.3 894.1,885.8 894.5,923.2 894.8,877.7 895.1,916.7 895.5,876.0 895.8,919.0 896.2,882.6 896.5,926.4 896.8,887.1 897.2,926.6 897.5,880.7 897.9,917.7 898.2,874.6 898.5,919.2 898.9,882.6 899.2,926.7 899.6,887.8 899.9,919.0 900.2,876.6 900.6,920.7 900.9,880.7 901.3,924.9 901.6,884.7 901.9,924.6 902.3,882.6 902.6,920.6 903.0,877.2 903.3,918.3 903.6,879.9 904.0,925.2 904.3,885.6 904.7,927.7 905.0,884.5 905.3,921.9 905.7,875.2 906.0,919.7 906.4,881.9 906.7,928.9 907.0,886.1 907.4,927.0 907.7,880.2 908.1,917.7 908.4,875.4 908.7,921.9 909.1,880.5 909.4,929.7 909.8,887.7 910.1,928.4 910.4,879.2 910.8,922.6 911.1,874.1 911.5,921.8 911.8,879.5 912.1,929.1 912.5,885.1 912.8,928.7 913.2,880.7 913.5,924.3 913.8,876.6 914.2,919.4 914.5,879.5 914.9,927.8 915.2,886.1 915.5,929.4 915.9,884.3 916.2,925.5 916.6,873.8 916.9,922.5 917.2,877.1 917.6,927.5 917.9,884.8 918.3,932.5 918.6,881.9 918.9,927.6 919.3,876.7 919.6,921.0 920.0,875.0 920.3,926.9 920.6,883.3 921.0,930.8 921.3,882.8 921.7,927.1 922.0,879.0 922.3,923.6 922.7,874.3 923.0,925.1 923.4,882.1 923.7,933.2 924.0,886.0 924.4,929.4 924.7,877.7 925.1,922.3 925.4,872.8 925.7,921.6 926.1,879.5 926.4,930.5 926.8,885.0 927.1,932.0 927.4,877.3 927.8,924.0 928.1,874.6 928.5,921.3 928.8,878.4 929.1,930.0 929.5,885.3 929.8,932.7 930.2,881.5 930.5,923.6 930.8,875.0 931.2,921.5 931.5,878.3 931.9,928.6 932.2,882.7 932.5,929.8 932.9,883.6 933.2,922.9 933.6,873.7 933.9,921.3 934.2,874.3 934.6,926.1 934.9,883.3 935.3,933.4 935.6,882.3 935.9,923.4 936.3,874.4 936.6,919.9 937.0,873.9 937.3,923.8 937.6,881.9 938.0,930.7 938.3,883.0 938.7,924.7 939.0,873.6 939.3,920.0 939.7,871.2 940.0,925.0 940.4,881.8 940.7,930.2 941.0,882.3 941.4,928.6 941.7,875.4 942.1,918.3 942.4,874.8 942.7,921.2 943.1,880.3 943.4,928.1 943.8,884.0 944.1,928.4 944.4,878.5 944.8,921.5 945.1,874.3 945.5,919.0 945.8,877.8 946.1,928.0 946.5,885.5 946.8,927.9 947.2,877.1 947.5,919.0 947.8,872.2 948.2,918.7 948.5,877.3 948.9,925.9 949.2,881.9 949.5,927.6 949.9,881.8 950.2,920.9 950.6,872.9 950.9,919.3 951.2,873.2 951.6,924.5 951.9,880.3 952.3,928.2 952.6,881.3 952.9,922.7 953.3,874.8 953.6,916.2 954.0,874.9 954.3,923.3 954.6,880.6 955.0,929.1 955.3,883.1 955.7,923.4 956.0,874.4 956.3,915.9 956.7,874.4 957.0,919.6 957.4,879.1 957.7,925.4 958.0,880.7 958.4,924.1 958.7,877.1 959.1,917.5 959.4,873.0 959.7,920.4 960.1,880.2 960.4,925.7 960.8,881.9 961.1,924.2 961.4,877.5 961.8,915.6 962.1,871.6 962.5,918.2 962.8,877.9 963.1,925.9 963.5,881.3 963.8,926.5 964.2,878.1 964.5,915.5 964.8,870.1 965.2,916.7 965.5,876.9 965.9,923.7 966.2,880.6 966.5,925.0 966.9,877.3 967.2,917.5 967.6,871.4 967.9,917.2 968.2,873.8 968.6,921.2 968.9,881.4 969.3,924.8 969.6,880.8 969.9,920.3 970.3,871.4 970.6,913.2 971.0,875.3 971.3,921.7 971.6,880.1 972.0,923.1 972.3,875.7 972.7,916.8 973.0,872.4 973.3,918.8 973.7,878.4 974.0,924.1 974.4,881.8 974.7,924.1 975.0,878.5 975.4,916.3 975.7,872.6 976.1,915.0 976.4,877.1 976.7,924.1 977.1,882.9 977.4,923.4 977.8,879.9 978.1,915.7 978.4,873.4 978.8,913.9 979.1,874.5 979.5,924.2 979.8,883.7 980.1,926.8 980.5,880.2 980.8,916.8 981.2,872.6 981.5,913.1 981.8,874.1 982.2,920.7 982.5,880.0 982.9,925.7 983.2,879.7 983.5,918.3 983.9,875.2 984.2,915.1 984.6,873.4 984.9,918.9 985.2,881.4 985.6,923.9 985.9,880.3 986.3,921.3 986.6,873.3 986.9,916.8 987.3,871.2 987.6,917.7 988.0,881.7 988.3,925.2 988.6,884.3 989.0,921.1 989.3,873.9 989.7,913.5 990.0,874.1 990.3,917.7 990.7,879.7 991.0,925.7 991.4,881.1 991.7,921.7 992.0,875.8 992.4,915.1 992.7,871.0 993.1,916.8 993.4,878.4 993.7,922.7 994.1,884.0 994.4,925.3 994.8,875.0 995.1,916.4 995.4,875.4 995.8,919.0 996.1,880.8 996.5,925.2 996.8,882.9 997.1,921.3 997.5,873.3 997.8,913.9 998.2,871.8 998.5,919.1 998.8,881.4 999.2,924.5 999.5,883.9 999.9,921.2 1000.2,876.6 1000.5,914.3 1000.9,873.0 1001.2,917.6 1001.6,878.9 1001.9,924.1 1002.2,882.9 1002.6,921.0 1002.9,875.5 1003.3,917.1 1003.6,873.6 1003.9,917.1 1004.3,878.0 1004.6,925.3 1005.0,881.1 1005.3,923.0 1005.6,877.1 1006.0,916.0 1006.3,874.1 1006.7,917.3 1007.0,877.4 1007.3,922.0 1007.7,881.1 1008.0,923.0 1008.4,878.6 1008.7,917.0 1009.0,871.6 1009.4,914.5 1009.7,875.7 1010.1,922.5 1010.4,882.5 1010.7,923.5 1011.1,878.8 1011.4,918.8 1011.8,872.4 1012.1,916.7 1012.4,877.1 1012.8,922.0 1013.1,883.9 1013.5,924.5 1013.8,882.3 1014.1,919.2 1014.5,874.5 1014.8,916.2 1015.2,875.3 1015.5,921.2 1015.8,882.9 1016.2,926.6 1016.5,881.0 1016.9,922.3 1017.2,877.7 1017.5,916.9 1017.9,874.4 1018.2,920.1 1018.6,880.0 1018.9,924.7 1019.2,883.8 1019.6,923.9 1019.9,876.8 1020.3,917.9 1020.6,875.0 1020.9,919.7 1021.3,881.5 1021.6,926.3 1022.0,884.7 1022.3,923.7 1022.6,878.3 1023.0,916.0 1023.3,873.7 1023.7,918.7 1024.0,881.5 1024.3,925.6 1024.7,885.9 1025.0,926.3 1025.4,877.5 1025.7,920.1 1026.0,876.3 1026.4,920.1 1026.7,878.9 1027.1,926.5 1027.4,884.2 1027.7,926.2 1028.1,879.1 1028.4,919.2 1028.8,875.5 1029.1,918.5 1029.4,879.0 1029.8,924.7 1030.1,884.6 1030.5,927.6 1030.8,881.7 1031.1,922.7 1031.5,877.1 1031.8,918.2 1032.2,877.7 1032.5,925.2 1032.8,885.8 1033.2,926.3 1033.5,882.4 1033.9,923.0 1034.2,875.5 1034.5,918.7 1034.9,875.9 1035.2,922.9 1035.6,886.2 1035.9,929.9 1036.2,883.8 1036.6,922.7 1036.9,877.7 1037.3,918.3 1037.6,876.8 1037.9,922.4 1038.3,882.9 1038.6,928.8 1039.0,886.4 1039.3,924.4 1039.6,878.2 1040.0,918.7 1040.3,877.8 1040.7,922.9 1041.0,883.4 1041.3,927.3 1041.7,885.0 1042.0,926.1 1042.4,879.0 1042.7,918.9 1043.0,877.6 1043.4,920.8 1043.7,883.8 1044.1,928.9 1044.4,887.1 1044.7,927.0 1045.1,880.9 1045.4,920.0 1045.8,877.3 1046.1,922.3 1046.4,881.9 1046.8,927.3 1047.1,887.5 1047.5,926.3 1047.8,883.1 1048.1,919.1 1048.5,877.2 1048.8,918.3 1049.2,882.9 1049.5,924.9 1049.8,889.6 1050.2,925.4 1050.5,885.3 1050.9,920.0 1051.2,878.8 1051.5,916.9 1051.9,882.8 1052.2,924.9 1052.6,890.2 1052.9,923.7 1053.2,882.1 1053.6,918.1 1053.9,879.0 1054.3,917.9 1054.6,886.2 1054.9,925.8 1055.3,890.2 1055.6,924.6 1056.0,886.0 1056.3,919.6 1056.6,880.0 1057.0,917.4 1057.3,883.7 1057.7,924.5 1058.0,888.0 1058.3,924.7 1058.7,884.9 1059.0,918.3 1059.4,877.1 1059.7,919.0 1060.0,879.5 1060.4,923.6 1060.7,884.5 1061.1,926.5 1061.4,881.5 1061.7,920.2 1062.1,877.5 1062.4,920.2 1062.8,879.0 1063.1,923.7 1063.4,883.2 1063.8,930.8 1064.1,882.6 1064.5,923.4 1064.8,875.2 1065.1,918.9 1065.5,874.6 1065.8,926.5 1066.2,882.1 1066.5,931.7 1066.8,883.5 1067.2,922.5 1067.5,875.5 1067.9,918.2 1068.2,875.3 1068.5,924.4 1068.9,883.1 1069.2,929.1 1069.6,880.9 1069.9,925.1 1070.2,877.1 1070.6,917.6 1070.9,875.5 1071.3,923.3 1071.6,880.4 1071.9,928.6 1072.3,884.1 1072.6,925.4 1073.0,876.8 1073.3,919.6 1073.6,873.6 1074.0,921.4 1074.3,879.2 1074.7,927.7 1075.0,882.7 1075.3,926.6 1075.7,877.1 1076.0,918.0 1076.4,871.9 1076.7,917.8 1077.0,879.1 1077.4,927.7 1077.7,885.1 1078.1,925.2 1078.4,879.7 1078.7,916.9 1079.1,877.2 1079.4,924.3 1079.8,884.2 1080.1,927.5 1080.4,881.2 1080.8,920.1 1081.1,874.1 1081.5,917.9 1081.8,875.7 1082.1,923.5 1082.5,885.0 1082.8,928.4 1083.2,880.9 1083.5,920.1 1083.8,877.0 1084.2,916.2 1084.5,880.4 1084.9,924.3 1085.2,883.8 1085.5,925.1 1085.9,879.0 1086.2,918.5 1086.6,874.1 1086.9,918.3 1087.2,878.0 1087.6,924.3 1087.9,883.3 1088.3,926.2 1088.6,879.4 1088.9,919.8 1089.3,875.8 1089.6,916.7 1090.0,878.7 1090.3,923.7 1090.6,885.1 1091.0,926.1 1091.3,882.1 1091.7,920.1 1092.0,873.1 1092.3,916.1 1092.7,878.3 1093.0,922.9 1093.4,884.8 1093.7,925.6 1094.0,882.9 1094.4,919.6 1094.7,877.0 1095.1,916.5 1095.4,875.6 1095.7,921.5 1096.1,883.8 1096.4,926.2 1096.8,883.2 1097.1,921.4 1097.4,877.2 1097.8,917.0 1098.1,876.8 1098.5,921.0 1098.8,884.1 1099.1,925.8 1099.5,885.1 1099.8,921.0 1100.2,878.7 1100.5,916.8 1100.8,877.6 1101.2,917.4 1101.5,882.8 1101.9,926.7 1102.2,886.3 1102.5,924.6 1102.9,880.9 1103.2,913.9 1103.6,873.3 1103.9,912.7 1104.2,878.5 1104.6,920.9 1104.9,888.2 1105.3,924.3 1105.6,888.1 1105.9,921.2 1106.3,880.9 1106.6,914.0 1107.0,876.6 1107.3,913.4 1107.6,877.6 1108.0,917.9 1108.3,884.8 1108.7,923.8 1109.0,887.3 1109.3,924.0 1109.7,886.7 1110.0,921.5 1110.4,881.7 1110.7,913.3 1111.0,876.4 1111.4,911.2 1111.7,876.5 1112.1,925.2 1112.4,889.7 1112.7,925.5 1113.1,884.1 1113.4,918.2 1113.8,879.0 1114.1,912.7 1114.4,874.1 1114.8,913.6 1115.1,876.9 1115.5,917.6 1115.8,883.8 1116.1,926.1 1116.5,888.7 1116.8,924.7 1117.2,885.4 1117.5,920.9 1117.8,878.7 1118.2,912.9 1118.5,875.1 1118.9,913.4 1119.2,875.8 1119.5,916.6 1119.9,883.8 1120.2,925.4 1120.6,889.2 1120.9,925.9 1121.2,887.3 1121.6,921.2 1121.9,880.5 1122.3,915.1 1122.6,877.2 1122.9,913.9 1123.3,878.8 1123.6,917.2 1124.0,885.0 1124.3,923.1 1124.6,891.1 1125.0,926.6 1125.3,891.5 1125.7,923.6 1126.0,885.1 1126.3,918.3 1126.7,882.3 1127.0,917.3 1127.4,880.3 1127.7,919.7 1128.0,885.4 1128.4,925.0 1128.7,892.7 1129.1,930.5 1129.4,893.8 1129.7,926.7 1130.1,891.4 1130.4,921.5 1130.8,883.5 1131.1,916.5 1131.4,881.7 1131.8,918.1 1132.1,886.7 1132.5,922.1 1132.8,891.7 1133.1,927.4 1133.5,892.3 1133.8,922.1 1134.2,885.5 1134.5,915.2 1134.8,881.0 1135.2,909.5 1135.5,877.2 1135.9,918.5 1136.2,875.8 1136.5,917.6 1136.9,877.1 1137.2,916.6 1137.6,875.6 1137.9,916.7 1138.2,878.0 1138.6,915.6 1138.9,875.4 1139.3,916.9 1139.6,876.5 1139.9,916.2 1140.3,878.1 1140.6,917.3 1141.0,876.5 1141.3,916.1 1141.6,878.2 1142.0,917.7 1142.3,877.9 1142.7,916.6 1143.0,879.1 1143.3,918.4 1143.7,876.6 1144.0,917.3 1144.4,877.8 1144.7,918.4 1145.0,877.2 1145.4,919.8 1145.7,876.9 1146.1,917.7 1146.4,878.3 1146.7,920.0 1147.1,878.3 1147.4,918.1 1147.8,878.2 1148.1,920.3 1148.4,878.0 1148.8,919.1 1149.1,879.0 1149.5,917.6 1149.8,877.6 1150.1,917.0 1150.5,878.6 1150.8,918.4 1151.2,877.7 1151.5,917.5 1151.8,878.4 1152.2,916.6 1152.5,879.1 1152.9,917.0 1153.2,879.4 1153.5,915.4 1153.9,879.7 1154.2,915.5" stroke="#00ff00" stroke-width="1.4" fill="none" stroke-linejoin="bevel"/>
</g>
<text x="131.2" y="841.9" font-family='"Liberation Sans", sans-serif' font-size="20.9" textLength="23.8" lengthAdjust="spacingAndGlyphs" fill="#262626" >20</text>
<text x="142.8" y="920.1" font-family='"Liberation Sans", sans-serif' font-size="20.9" textLength="12.2" lengthAdjust="spacingAndGlyphs" fill="#262626" >0</text>
<text x="124.0" y="998.9" font-family='"Liberation Sans", sans-serif' font-size="20.9" textLength="31.0" lengthAdjust="spacingAndGlyphs" fill="#262626" >-20</text>
<text transform="translate(85.2,1010.2) rotate(-90)" font-family='"Liberation Sans", sans-serif' font-size="20" font-weight="bold" textLength="186.0" lengthAdjust="spacingAndGlyphs" fill="#262626">Model - Measured</text>
<text transform="translate(110.6,955.0) rotate(-90)" font-family='"Liberation Sans", sans-serif' font-size="20" font-weight="bold" textLength="74.0" lengthAdjust="spacingAndGlyphs" fill="#262626">|B| (nT)</text>
<text transform="translate(1170.0,920.0) rotate(-90)" font-family='"Liberation Sans", sans-serif' font-size="15" font-weight="bold" textLength="61.4" lengthAdjust="spacingAndGlyphs" fill="#000">Inboard</text>
<text transform="translate(1182.0,940.0) rotate(-90)" font-family='"Liberation Sans", sans-serif' font-size="15" font-weight="bold" textLength="75.5" lengthAdjust="spacingAndGlyphs" fill="#000">Outboard</text>
<path d="M1164.8,957.3 V971.8" stroke="#0000ff" stroke-width="2"/>
<path d="M1179.8,957.3 V971.8" stroke="#00ff00" stroke-width="2"/>
<path d="M451.5,1072.5 V1233.5" stroke="#dcdcdc" stroke-width="1"/>
<path d="M777.5,1072.5 V1233.5" stroke="#dcdcdc" stroke-width="1"/>
<path d="M1104.5,1072.5 V1233.5" stroke="#dcdcdc" stroke-width="1"/>
<path d="M165.5,1086.5 H1154.5" stroke="#dcdcdc" stroke-width="1"/>
<path d="M165.5,1129.5 H1154.5" stroke="#dcdcdc" stroke-width="1"/>
<path d="M165.5,1173.5 H1154.5" stroke="#dcdcdc" stroke-width="1"/>
<path d="M165.5,1216.5 H1154.5" stroke="#dcdcdc" stroke-width="1"/>
<rect x="165.5" y="1072.5" width="989.0" height="161.0" fill="none" stroke="#262626" stroke-width="1"/>
<path d="M451.5,1072.5 v10 M451.5,1233.5 v-10 M777.5,1072.5 v10 M777.5,1233.5 v-10 M1104.5,1072.5 v10 M1104.5,1233.5 v-10 M165.5,1086.5 h10 M1154.5,1086.5 h-10 M165.5,1129.5 h10 M1154.5,1129.5 h-10 M165.5,1173.5 h10 M1154.5,1173.5 h-10 M165.5,1216.5 h10 M1154.5,1216.5 h-10" stroke="#262626" stroke-width="1" fill="none"/>
<g clip-path="url(#cp5)">
<path d="M165.5,1177.7 H165.5 L166.1,1183.4 H166.6 L167.2,1177.7 H169.9 L170.5,1172.0 H170.5 L171.0,1177.7 H172.7 L173.2,1172.0 H173.8 L174.3,1177.7 H174.3 L174.9,1172.0 H184.8 L185.3,1177.7 H185.3 L185.9,1172.0 H189.7 L190.3,1166.2 H190.3 L190.8,1172.0 H194.1 L194.7,1166.2 H194.7 L195.2,1172.0 H196.9 L197.4,1166.2 H198.0 L198.5,1172.0 H198.5 L199.1,1166.2 H199.1 L199.6,1172.0 H199.6 L200.2,1166.2 H209.5 L210.1,1160.5 H210.6 L211.2,1166.2 H211.2 L211.7,1160.5 H211.7 L212.3,1166.2 H212.8 L213.4,1160.5 H213.4 L213.9,1166.2 H214.5 L215.0,1160.5 H227.1 L227.7,1154.8 H227.7 L228.2,1160.5 H229.3 L229.9,1154.8 H229.9 L230.4,1160.5 H234.3 L234.8,1154.8 H235.4 L235.9,1160.5 H237.6 L238.1,1154.8 H240.9 L241.4,1160.5 H241.4 L242.0,1154.8 H245.8 L246.4,1160.5 H246.4 L246.9,1154.8 H249.7 L250.2,1160.5 H250.2 L250.8,1154.8 H251.3 L251.9,1149.0 H251.9 L252.4,1154.8 H253.0 L253.5,1149.0 H253.5 L254.1,1154.8 H254.1 L254.6,1149.0 H254.6 L255.2,1160.5 H255.2 L255.7,1154.8 H256.8 L257.4,1149.0 H257.4 L257.9,1154.8 H257.9 L258.5,1149.0 H258.5 L259.0,1154.8 H259.0 L259.6,1149.0 H260.1 L260.7,1154.8 H261.2 L261.8,1149.0 H262.3 L262.9,1154.8 H263.4 L264.0,1149.0 H266.2 L266.7,1154.8 H267.8 L268.4,1149.0 H271.7 L272.2,1154.8 H273.3 L273.9,1149.0 H285.4 L286.0,1143.3 H286.0 L286.5,1149.0 H289.8 L290.4,1143.3 H290.4 L290.9,1149.0 H290.9 L291.5,1143.3 H291.5 L292.0,1149.0 H294.8 L295.3,1143.3 H296.4 L297.0,1149.0 H300.3 L300.8,1143.3 H301.9 L302.5,1149.0 H303.6 L304.1,1143.3 H304.7 L305.2,1149.0 H305.2 L305.8,1143.3 H309.1 L309.6,1149.0 H309.6 L310.2,1143.3 H312.4 L312.9,1149.0 H312.9 L313.5,1143.3 H328.3 L328.9,1137.6 H328.9 L329.4,1143.3 H331.1 L331.6,1149.0 H331.6 L332.2,1143.3 H332.2 L332.7,1137.6 H332.7 L333.3,1143.3 H336.6 L337.1,1137.6 H337.1 L337.7,1143.3 H340.4 L341.0,1137.6 H341.5 L342.1,1143.3 H343.2 L343.7,1137.6 H344.3 L344.8,1143.3 H344.8 L345.4,1137.6 H345.4 L345.9,1143.3 H345.9 L346.5,1137.6 H346.5 L347.0,1143.3 H347.0 L347.6,1137.6 H348.1 L348.7,1143.3 H348.7 L349.2,1137.6 H349.2 L349.8,1143.3 H349.8 L350.3,1137.6 H350.9 L351.4,1143.3 H351.4 L352.0,1137.6 H352.5 L353.1,1143.3 H353.6 L354.2,1137.6 H354.7 L355.3,1143.3 H355.8 L356.4,1137.6 H359.7 L360.2,1143.3 H360.2 L360.8,1137.6 H365.2 L365.7,1143.3 H365.7 L366.3,1137.6 H388.8 L389.4,1131.9 H389.4 L389.9,1137.6 H392.1 L392.7,1143.3 H392.7 L393.2,1137.6 H396.5 L397.1,1131.9 H397.1 L397.6,1137.6 H398.2 L398.7,1131.9 H398.7 L399.3,1137.6 H400.4 L400.9,1131.9 H401.5 L402.0,1137.6 H402.6 L403.1,1131.9 H403.1 L403.7,1137.6 H403.7 L404.2,1131.9 H404.2 L404.8,1137.6 H407.0 L407.5,1131.9 H409.2 L409.7,1137.6 H410.8 L411.4,1131.9 H411.4 L411.9,1137.6 H411.9 L412.5,1131.9 H412.5 L413.0,1137.6 H413.6 L414.1,1131.9 H414.1 L414.7,1137.6 H414.7 L415.2,1131.9 H415.2 L415.8,1137.6 H415.8 L416.3,1131.9 H419.6 L420.2,1137.6 H420.2 L420.7,1131.9 H423.5 L424.0,1137.6 H424.0 L424.6,1131.9 H427.9 L428.4,1137.6 H428.4 L429.0,1131.9 H429.5 L430.1,1137.6 H430.1 L430.6,1131.9 H432.3 L432.8,1137.6 H432.8 L433.4,1131.9 H440.5 L441.1,1137.6 H441.1 L441.6,1131.9 H446.0 L446.6,1126.1 H446.6 L447.1,1131.9 H453.2 L453.7,1126.1 H453.7 L454.3,1131.9 H457.6 L458.1,1126.1 H458.7 L459.2,1131.9 H464.2 L464.7,1126.1 H464.7 L465.3,1131.9 H465.3 L465.8,1126.1 H465.8 L466.4,1131.9 H466.4 L466.9,1126.1 H468.0 L468.6,1131.9 H471.9 L472.4,1126.1 H472.4 L473.0,1131.9 H473.0 L473.5,1126.1 H474.1 L474.6,1131.9 H474.6 L475.2,1126.1 H475.2 L475.7,1131.9 H476.3 L476.8,1126.1 H476.8 L477.4,1131.9 H477.9 L478.5,1126.1 H480.7 L481.2,1131.9 H481.2 L481.8,1126.1 H490.6 L491.1,1131.9 H491.1 L491.7,1126.1 H492.8 L493.3,1131.9 H493.9 L494.4,1126.1 H499.9 L500.5,1131.9 H501.0 L501.6,1126.1 H503.2 L503.8,1131.9 H503.8 L504.3,1126.1 H506.0 L506.5,1131.9 H506.5 L507.1,1126.1 H521.4 L521.9,1131.9 H521.9 L522.5,1126.1 H534.6 L535.1,1131.9 H535.1 L535.7,1126.1 H553.3 L553.8,1120.4 H553.8 L554.4,1126.1 H556.0 L556.6,1120.4 H556.6 L557.1,1126.1 H561.0 L561.5,1120.4 H561.5 L562.1,1126.1 H564.3 L564.8,1120.4 H564.8 L565.4,1126.1 H565.9 L566.5,1120.4 H566.5 L567.0,1126.1 H568.1 L568.7,1120.4 H568.7 L569.2,1126.1 H569.2 L569.8,1120.4 H569.8 L570.3,1126.1 H570.3 L570.9,1120.4 H570.9 L571.4,1126.1 H572.0 L572.5,1120.4 H572.5 L573.1,1126.1 H573.6 L574.2,1120.4 H574.2 L574.7,1126.1 H575.8 L576.4,1120.4 H576.4 L576.9,1126.1 H578.6 L579.1,1120.4 H579.1 L579.7,1126.1 H582.4 L583.0,1120.4 H583.0 L583.5,1126.1 H584.1 L584.6,1120.4 H585.2 L585.7,1126.1 H588.5 L589.0,1120.4 H589.6 L590.1,1126.1 H591.8 L592.3,1120.4 H592.3 L592.9,1126.1 H593.4 L594.0,1120.4 H594.5 L595.1,1126.1 H595.6 L596.2,1120.4 H597.8 L598.4,1126.1 H600.0 L600.5,1120.4 H602.2 L602.7,1126.1 H602.7 L603.3,1120.4 H603.8 L604.4,1126.1 H604.4 L604.9,1120.4 H605.5 L606.0,1126.1 H606.0 L606.6,1120.4 H607.1 L607.7,1126.1 H608.2 L608.8,1120.4 H608.8 L609.3,1126.1 H609.9 L610.4,1120.4 H612.1 L612.6,1126.1 H614.3 L614.8,1120.4 H614.8 L615.4,1126.1 H615.4 L615.9,1120.4 H615.9 L616.5,1126.1 H616.5 L617.0,1120.4 H619.2 L619.8,1126.1 H619.8 L620.3,1120.4 H625.8 L626.4,1126.1 H626.9 L627.5,1120.4 H630.8 L631.3,1126.1 H631.3 L631.9,1120.4 H637.9 L638.5,1126.1 H638.5 L639.0,1120.4 H678.1 L678.6,1114.7 H678.6 L679.2,1120.4 H689.6 L690.2,1126.1 H690.2 L690.7,1114.7 H690.7 L691.3,1120.4 H701.2 L701.7,1114.7 H701.7 L702.3,1120.4 H712.7 L713.3,1114.7 H713.3 L713.8,1120.4 H713.8 L714.4,1114.7 H714.9 L715.5,1120.4 H715.5 L716.0,1114.7 H716.6 L717.1,1120.4 H717.7 L718.2,1114.7 H718.8 L719.3,1120.4 H719.3 L719.9,1114.7 H721.0 L721.5,1120.4 H721.5 L722.1,1114.7 H722.1 L722.6,1120.4 H724.3 L724.8,1114.7 H724.8 L725.4,1120.4 H725.4 L725.9,1114.7 H725.9 L726.5,1120.4 H726.5 L727.0,1114.7 H727.0 L727.6,1120.4 H729.2 L729.8,1114.7 H729.8 L730.3,1120.4 H731.4 L732.0,1114.7 H732.0 L732.5,1120.4 H732.5 L733.1,1114.7 H733.1 L733.6,1120.4 H735.3 L735.8,1114.7 H737.5 L738.0,1120.4 H739.1 L739.7,1114.7 H740.2 L740.8,1120.4 H742.4 L743.0,1114.7 H744.1 L744.6,1120.4 H744.6 L745.2,1114.7 H745.2 L745.7,1120.4 H746.3 L746.8,1114.7 H747.4 L747.9,1120.4 H747.9 L748.5,1114.7 H749.0 L749.6,1120.4 H749.6 L750.1,1114.7 H750.7 L751.2,1120.4 H751.8 L752.3,1114.7 H754.0 L754.5,1120.4 H754.5 L755.1,1114.7 H757.8 L758.4,1120.4 H758.4 L758.9,1114.7 H759.5 L760.0,1120.4 H760.0 L760.6,1114.7 H760.6 L761.1,1120.4 H761.1 L761.7,1114.7 H763.3 L763.9,1120.4 H763.9 L764.4,1114.7 H777.6 L778.2,1120.4 H778.2 L778.7,1114.7 H795.2 L795.8,1108.9 H795.8 L796.3,1114.7 H800.7 L801.3,1108.9 H801.3 L801.8,1114.7 H802.4 L802.9,1108.9 H802.9 L803.5,1114.7 H806.2 L806.8,1108.9 H806.8 L807.3,1114.7 H807.3 L807.9,1108.9 H807.9 L808.4,1114.7 H810.6 L811.2,1108.9 H811.2 L811.7,1114.7 H813.9 L814.5,1108.9 H814.5 L815.0,1114.7 H815.6 L816.1,1108.9 H816.1 L816.7,1114.7 H818.3 L818.9,1108.9 H819.4 L820.0,1114.7 H824.4 L824.9,1108.9 H824.9 L825.5,1114.7 H826.0 L826.6,1108.9 H826.6 L827.1,1114.7 H828.2 L828.8,1108.9 H828.8 L829.3,1114.7 H829.9 L830.4,1108.9 H831.0 L831.5,1114.7 H833.2 L833.7,1108.9 H834.3 L834.8,1114.7 H834.8 L835.4,1108.9 H835.9 L836.5,1114.7 H837.0 L837.6,1108.9 H838.7 L839.2,1114.7 H839.2 L839.8,1108.9 H840.9 L841.4,1114.7 H841.4 L842.0,1108.9 H842.0 L842.5,1114.7 H843.1 L843.6,1108.9 H843.6 L844.2,1114.7 H844.2 L844.7,1108.9 H846.4 L846.9,1114.7 H847.5 L848.0,1108.9 H848.0 L848.6,1114.7 H848.6 L849.1,1108.9 H849.7 L850.2,1114.7 H850.2 L850.8,1108.9 H850.8 L851.3,1114.7 H851.3 L851.9,1108.9 H853.0 L853.5,1114.7 H853.5 L854.1,1108.9 H856.8 L857.4,1114.7 H857.4 L857.9,1108.9 H889.8 L890.4,1103.2 H890.4 L890.9,1108.9 H892.6 L893.1,1103.2 H893.1 L893.7,1108.9 H894.2 L894.8,1103.2 H895.3 L895.9,1108.9 H901.9 L902.5,1103.2 H902.5 L903.0,1108.9 H908.0 L908.5,1103.2 H908.5 L909.1,1108.9 H909.6 L910.2,1103.2 H910.2 L910.7,1108.9 H912.9 L913.5,1103.2 H914.6 L915.1,1108.9 H916.8 L917.3,1103.2 H917.9 L918.4,1108.9 H919.5 L920.1,1103.2 H921.2 L921.7,1108.9 H922.3 L922.8,1103.2 H924.5 L925.0,1108.9 H925.0 L925.6,1103.2 H925.6 L926.1,1108.9 H926.7 L927.2,1103.2 H928.3 L928.9,1108.9 H929.4 L930.0,1103.2 H930.0 L930.5,1108.9 H931.1 L931.6,1103.2 H932.2 L932.7,1108.9 H932.7 L933.3,1103.2 H933.8 L934.4,1108.9 H934.4 L934.9,1103.2 H939.3 L939.9,1108.9 H939.9 L940.4,1103.2 H941.0 L941.5,1108.9 H941.5 L942.1,1103.2 H942.1 L942.6,1108.9 H942.6 L943.2,1103.2 H943.7 L944.3,1108.9 H944.3 L944.8,1103.2 H944.8 L945.4,1108.9 H945.9 L946.5,1103.2 H953.6 L954.2,1108.9 H954.7 L955.3,1103.2 H956.9 L957.5,1108.9 H958.0 L958.6,1103.2 H959.7 L960.2,1108.9 H960.2 L960.8,1103.2 H964.1 L964.6,1108.9 H964.6 L965.2,1103.2 H976.7 L977.3,1108.9 H977.3 L977.8,1103.2 H1004.2 L1004.8,1097.5 H1004.8 L1005.3,1103.2 H1012.5 L1013.0,1097.5 H1013.6 L1014.1,1103.2 H1021.8 L1022.4,1097.5 H1022.4 L1022.9,1103.2 H1023.5 L1024.0,1097.5 H1024.6 L1025.1,1103.2 H1025.7 L1026.2,1097.5 H1026.2 L1026.8,1103.2 H1033.4 L1033.9,1097.5 H1033.9 L1034.5,1103.2 H1040.0 L1040.5,1097.5 H1040.5 L1041.1,1103.2 H1044.9 L1045.5,1097.5 H1045.5 L1046.0,1103.2 H1046.0 L1046.6,1097.5 H1046.6 L1047.1,1103.2 H1048.2 L1048.8,1097.5 H1048.8 L1049.3,1103.2 H1050.4 L1051.0,1097.5 H1051.0 L1051.5,1103.2 H1053.2 L1053.7,1097.5 H1053.7 L1054.3,1103.2 H1058.1 L1058.7,1097.5 H1061.4 L1062.0,1103.2 H1062.0 L1062.5,1097.5 H1063.1 L1063.6,1103.2 H1064.7 L1065.3,1097.5 H1067.5 L1068.0,1103.2 H1068.0 L1068.6,1097.5 H1069.7 L1070.2,1103.2 H1070.2 L1070.8,1097.5 H1072.4 L1073.0,1103.2 H1073.0 L1073.5,1097.5 H1074.1 L1074.6,1103.2 H1074.6 L1075.2,1097.5 H1077.4 L1077.9,1103.2 H1079.0 L1079.6,1097.5 H1080.1 L1080.7,1103.2 H1080.7 L1081.2,1097.5 H1081.2 L1081.8,1103.2 H1081.8 L1082.3,1097.5 H1082.3 L1082.9,1103.2 H1082.9 L1083.4,1097.5 H1083.4 L1084.0,1103.2 H1084.0 L1084.5,1097.5 H1084.5 L1085.1,1103.2 H1085.1 L1085.6,1097.5 H1086.2 L1086.7,1103.2 H1086.7 L1087.3,1097.5 H1089.5 L1090.0,1103.2 H1090.6 L1091.1,1097.5 H1092.8 L1093.3,1103.2 H1093.9 L1094.4,1097.5 H1097.7 L1098.3,1103.2 H1098.3 L1098.8,1097.5 H1098.8 L1099.4,1103.2 H1099.4 L1099.9,1097.5 H1101.6 L1102.1,1103.2 H1102.1 L1102.7,1097.5 H1103.2 L1103.8,1103.2 H1104.3 L1104.9,1097.5 H1104.9 L1105.4,1103.2 H1106.0 L1106.5,1097.5 H1107.1 L1107.6,1103.2 H1107.6 L1108.2,1097.5 H1124.1 L1124.7,1091.8 H1124.7 L1125.2,1097.5 H1128.0 L1128.5,1103.2 H1128.5 L1129.1,1097.5 H1135.1 L1135.7,1091.8 H1135.7 L1136.2,1097.5 H1142.3 L1142.8,1091.8 H1142.8 L1143.4,1097.5 H1148.9 L1149.4,1091.8 H1149.4 L1150.0,1097.5 H1153.3 L1153.8,1091.8 H1153.8 L1154.4,1097.5" stroke="#0000ff" stroke-width="1.1" fill="none"/>
<path d="M165.5,1178.8 H165.5 L166.1,1184.0 H166.1 L166.6,1178.8 H167.2 L167.7,1184.0 H168.3 L168.8,1178.8 H168.8 L169.4,1184.0 H169.4 L169.9,1178.8 H171.6 L172.1,1184.0 H176.0 L176.5,1178.8 H176.5 L177.1,1184.0 H177.6 L178.2,1178.8 H178.2 L178.7,1184.0 H179.3 L179.8,1178.8 H180.4 L180.9,1184.0 H180.9 L181.5,1178.8 H181.5 L182.0,1184.0 H183.7 L184.2,1178.8 H185.9 L186.4,1184.0 H187.0 L187.5,1178.8 H187.5 L188.1,1184.0 H188.1 L188.6,1178.8 H189.7 L190.3,1184.0 H190.3 L190.8,1178.8 H191.4 L191.9,1184.0 H191.9 L192.5,1178.8 H193.0 L193.6,1184.0 H193.6 L194.1,1178.8 H194.7 L195.2,1184.0 H195.8 L196.3,1178.8 H196.3 L196.9,1184.0 H197.4 L198.0,1178.8 H198.0 L198.5,1184.0 H199.1 L199.6,1178.8 H199.6 L200.2,1184.0 H201.3 L201.8,1178.8 H201.8 L202.4,1184.0 H205.1 L205.7,1178.8 H206.2 L206.8,1184.0 H207.9 L208.4,1178.8 H208.4 L209.0,1184.0 H209.0 L209.5,1178.8 H209.5 L210.1,1184.0 H210.1 L210.6,1178.8 H210.6 L211.2,1184.0 H212.3 L212.8,1178.8 H212.8 L213.4,1184.0 H213.4 L213.9,1178.8 H214.5 L215.0,1184.0 H215.0 L215.6,1178.8 H217.8 L218.3,1184.0 H218.3 L218.9,1178.8 H218.9 L219.4,1184.0 H219.4 L220.0,1178.8 H221.6 L222.2,1184.0 H222.7 L223.3,1178.8 H223.8 L224.4,1184.0 H224.4 L224.9,1178.8 H226.0 L226.6,1184.0 H227.1 L227.7,1178.8 H228.2 L228.8,1184.0 H228.8 L229.3,1178.8 H229.3 L229.9,1184.0 H229.9 L230.4,1178.8 H232.6 L233.2,1184.0 H233.2 L233.7,1178.8 H234.3 L234.8,1184.0 H235.4 L235.9,1178.8 H237.0 L237.6,1184.0 H237.6 L238.1,1178.8 H238.7 L239.2,1184.0 H239.2 L239.8,1178.8 H243.6 L244.2,1184.0 H244.2 L244.7,1178.8 H245.3 L245.8,1184.0 H245.8 L246.4,1178.8 H246.4 L246.9,1184.0 H246.9 L247.5,1178.8 H247.5 L248.0,1184.0 H248.0 L248.6,1178.8 H251.9 L252.4,1184.0 H252.4 L253.0,1178.8 H254.1 L254.6,1184.0 H255.2 L255.7,1178.8 H256.8 L257.4,1184.0 H257.4 L257.9,1178.8 H257.9 L258.5,1184.0 H258.5 L259.0,1178.8 H260.1 L260.7,1184.0 H260.7 L261.2,1178.8 H261.8 L262.3,1184.0 H262.3 L262.9,1178.8 H262.9 L263.4,1184.0 H263.4 L264.0,1178.8 H266.7 L267.3,1184.0 H267.3 L267.8,1178.8 H270.0 L270.6,1184.0 H270.6 L271.1,1178.8 H271.1 L271.7,1184.0 H271.7 L272.2,1178.8 H273.3 L273.9,1184.0 H273.9 L274.4,1178.8 H275.5 L276.1,1184.0 H276.6 L277.2,1178.8 H277.7 L278.3,1184.0 H278.3 L278.8,1178.8 H280.5 L281.0,1184.0 H281.0 L281.6,1178.8 H286.5 L287.1,1184.0 H287.1 L287.6,1178.8 H289.3 L289.8,1184.0 H289.8 L290.4,1178.8 H290.9 L291.5,1184.0 H291.5 L292.0,1178.8 H302.5 L303.0,1184.0 H303.0 L303.6,1178.8 H308.5 L309.1,1184.0 H309.1 L309.6,1178.8 H339.3 L339.9,1184.0 H339.9 L340.4,1178.8 H348.1 L348.7,1184.0 H348.7 L349.2,1178.8 H398.2 L398.7,1173.6 H398.7 L399.3,1178.8 H431.2 L431.7,1173.6 H432.3 L432.8,1178.8 H444.9 L445.5,1173.6 H445.5 L446.0,1178.8 H457.6 L458.1,1173.6 H458.1 L458.7,1178.8 H469.7 L470.2,1173.6 H470.2 L470.8,1178.8 H476.3 L476.8,1173.6 H476.8 L477.4,1178.8 H513.7 L514.2,1173.6 H514.2 L514.8,1178.8 H519.2 L519.7,1173.6 H519.7 L520.3,1178.8 H531.8 L532.4,1173.6 H532.9 L533.5,1178.8 H533.5 L534.0,1173.6 H534.0 L534.6,1178.8 H534.6 L535.1,1184.0 H535.1 L535.7,1173.6 H535.7 L536.2,1178.8 H537.3 L537.9,1173.6 H537.9 L538.4,1178.8 H542.8 L543.4,1173.6 H543.4 L543.9,1178.8 H549.4 L550.0,1173.6 H550.0 L550.5,1178.8 H564.8 L565.4,1173.6 H565.4 L565.9,1178.8 H582.4 L583.0,1173.6 H583.0 L583.5,1178.8 H583.5 L584.1,1173.6 H584.1 L584.6,1178.8 H608.2 L608.8,1173.6 H608.8 L609.3,1178.8 H626.9 L627.5,1173.6 H627.5 L628.0,1178.8 H637.4 L637.9,1173.6 H637.9 L638.5,1178.8 H666.0 L666.5,1173.6 H666.5 L667.1,1178.8 H668.7 L669.3,1173.6 H669.3 L669.8,1178.8 H671.5 L672.0,1173.6 H672.0 L672.6,1178.8 H675.9 L676.4,1173.6 H676.4 L677.0,1178.8 H679.2 L679.7,1173.6 H679.7 L680.3,1178.8 H681.9 L682.5,1173.6 H682.5 L683.0,1178.8 H697.3 L697.9,1173.6 H697.9 L698.4,1178.8 H698.4 L699.0,1173.6 H699.0 L699.5,1178.8 H703.4 L703.9,1173.6 H703.9 L704.5,1178.8 H734.7 L735.3,1173.6 H735.3 L735.8,1178.8 H742.4 L743.0,1173.6 H743.0 L743.5,1178.8 H743.5 L744.1,1173.6 H744.1 L744.6,1178.8 H746.3 L746.8,1173.6 H746.8 L747.4,1178.8 H751.8 L752.3,1173.6 H752.3 L752.9,1178.8 H755.1 L755.6,1173.6 H755.6 L756.2,1178.8 H756.2 L756.7,1173.6 H756.7 L757.3,1178.8 H765.5 L766.1,1173.6 H766.1 L766.6,1178.8 H766.6 L767.2,1173.6 H767.2 L767.7,1178.8 H767.7 L768.3,1173.6 H768.3 L768.8,1178.8 H768.8 L769.4,1173.6 H769.4 L769.9,1178.8 H769.9 L770.5,1173.6 H771.6 L772.1,1178.8 H776.0 L776.5,1173.6 H776.5 L777.1,1178.8 H784.2 L784.8,1173.6 H784.8 L785.3,1178.8 H785.3 L785.9,1173.6 H785.9 L786.4,1178.8 H789.7 L790.3,1173.6 H791.4 L791.9,1178.8 H794.1 L794.7,1173.6 H794.7 L795.2,1178.8 H795.8 L796.3,1173.6 H796.3 L796.9,1178.8 H796.9 L797.4,1173.6 H798.0 L798.5,1178.8 H799.6 L800.2,1173.6 H800.2 L800.7,1178.8 H800.7 L801.3,1173.6 H801.3 L801.8,1178.8 H802.4 L802.9,1173.6 H802.9 L803.5,1178.8 H804.0 L804.6,1173.6 H804.6 L805.1,1178.8 H808.4 L809.0,1173.6 H809.0 L809.5,1178.8 H810.6 L811.2,1173.6 H811.2 L811.7,1178.8 H812.8 L813.4,1173.6 H813.4 L813.9,1178.8 H815.6 L816.1,1173.6 H816.1 L816.7,1178.8 H818.3 L818.9,1173.6 H818.9 L819.4,1178.8 H819.4 L820.0,1173.6 H820.0 L820.5,1178.8 H827.7 L828.2,1173.6 H828.8 L829.3,1178.8 H833.2 L833.7,1173.6 H834.8 L835.4,1178.8 H838.7 L839.2,1173.6 H839.2 L839.8,1178.8 H841.4 L842.0,1173.6 H842.0 L842.5,1178.8 H842.5 L843.1,1173.6 H843.1 L843.6,1178.8 H844.2 L844.7,1173.6 H844.7 L845.3,1178.8 H847.5 L848.0,1173.6 H848.0 L848.6,1178.8 H849.7 L850.2,1173.6 H850.2 L850.8,1178.8 H852.4 L853.0,1173.6 H853.0 L853.5,1178.8 H853.5 L854.1,1173.6 H854.1 L854.6,1178.8 H854.6 L855.2,1173.6 H855.2 L855.7,1178.8 H855.7 L856.3,1173.6 H856.3 L856.8,1178.8 H859.0 L859.6,1173.6 H859.6 L860.1,1178.8 H861.8 L862.3,1173.6 H864.0 L864.5,1178.8 H864.5 L865.1,1173.6 H865.6 L866.2,1178.8 H866.2 L866.7,1173.6 H866.7 L867.3,1178.8 H867.3 L867.8,1173.6 H868.9 L869.5,1178.8 H869.5 L870.0,1173.6 H870.0 L870.6,1178.8 H871.7 L872.2,1173.6 H872.2 L872.8,1178.8 H873.3 L873.9,1173.6 H873.9 L874.4,1178.8 H876.1 L876.6,1173.6 H877.2 L877.7,1178.8 H878.8 L879.4,1173.6 H879.4 L879.9,1178.8 H881.0 L881.6,1173.6 H881.6 L882.1,1178.8 H882.7 L883.2,1173.6 H883.8 L884.3,1178.8 H884.3 L884.9,1173.6 H885.4 L886.0,1178.8 H886.0 L886.5,1173.6 H886.5 L887.1,1178.8 H887.1 L887.6,1173.6 H887.6 L888.2,1178.8 H888.2 L888.7,1173.6 H889.8 L890.4,1178.8 H890.4 L890.9,1173.6 H891.5 L892.0,1178.8 H893.1 L893.7,1173.6 H894.2 L894.8,1178.8 H894.8 L895.3,1173.6 H895.3 L895.9,1178.8 H897.0 L897.5,1173.6 H898.6 L899.2,1178.8 H899.2 L899.7,1173.6 H900.8 L901.4,1178.8 H901.4 L901.9,1173.6 H902.5 L903.0,1178.8 H903.6 L904.1,1173.6 H904.7 L905.2,1178.8 H905.2 L905.8,1173.6 H906.3 L906.9,1178.8 H906.9 L907.4,1173.6 H907.4 L908.0,1178.8 H908.5 L909.1,1173.6 H909.1 L909.6,1178.8 H912.4 L912.9,1173.6 H912.9 L913.5,1178.8 H913.5 L914.0,1173.6 H915.1 L915.7,1178.8 H915.7 L916.2,1173.6 H916.8 L917.3,1178.8 H917.9 L918.4,1173.6 H920.1 L920.6,1178.8 H920.6 L921.2,1173.6 H922.3 L922.8,1178.8 H923.9 L924.5,1173.6 H926.7 L927.2,1178.8 H927.2 L927.8,1173.6 H928.3 L928.9,1178.8 H929.4 L930.0,1173.6 H930.0 L930.5,1178.8 H931.1 L931.6,1173.6 H932.7 L933.3,1178.8 H933.8 L934.4,1173.6 H936.6 L937.1,1178.8 H937.1 L937.7,1173.6 H939.3 L939.9,1178.8 H941.0 L941.5,1173.6 H942.1 L942.6,1178.8 H942.6 L943.2,1173.6 H944.3 L944.8,1178.8 H944.8 L945.4,1173.6 H945.4 L945.9,1178.8 H945.9 L946.5,1173.6 H947.0 L947.6,1178.8 H947.6 L948.1,1173.6 H948.1 L948.7,1178.8 H948.7 L949.2,1173.6 H951.4 L952.0,1178.8 H952.0 L952.5,1173.6 H953.1 L953.6,1178.8 H953.6 L954.2,1173.6 H955.3 L955.8,1178.8 H957.5 L958.0,1173.6 H958.6 L959.1,1178.8 H959.7 L960.2,1173.6 H962.4 L963.0,1178.8 H963.0 L963.5,1173.6 H964.6 L965.2,1178.8 H965.7 L966.3,1173.6 H968.5 L969.0,1178.8 H969.6 L970.1,1173.6 H970.7 L971.2,1178.8 H972.9 L973.4,1173.6 H975.1 L975.6,1178.8 H975.6 L976.2,1173.6 H976.2 L976.7,1178.8 H976.7 L977.3,1173.6 H977.3 L977.8,1178.8 H978.4 L978.9,1173.6 H982.8 L983.3,1178.8 H983.9 L984.4,1173.6 H984.4 L985.0,1178.8 H985.0 L985.5,1173.6 H985.5 L986.1,1178.8 H986.1 L986.6,1173.6 H988.3 L988.8,1178.8 H988.8 L989.4,1173.6 H993.2 L993.8,1178.8 H993.8 L994.3,1173.6 H994.3 L994.9,1178.8 H994.9 L995.4,1173.6 H997.1 L997.6,1178.8 H997.6 L998.2,1173.6 H1000.4 L1000.9,1178.8 H1000.9 L1001.5,1173.6 H1002.6 L1003.1,1178.8 H1003.1 L1003.7,1173.6 H1007.0 L1007.5,1178.8 H1007.5 L1008.1,1173.6 H1009.2 L1009.7,1178.8 H1009.7 L1010.3,1173.6 H1010.8 L1011.4,1178.8 H1011.4 L1011.9,1173.6 H1012.5 L1013.0,1178.8 H1013.6 L1014.1,1173.6 H1016.3 L1016.9,1178.8 H1016.9 L1017.4,1173.6 H1020.2 L1020.7,1178.8 H1021.3 L1021.8,1173.6 H1022.4 L1022.9,1178.8 H1023.5 L1024.0,1173.6 H1025.7 L1026.2,1178.8 H1026.2 L1026.8,1173.6 H1027.9 L1028.4,1178.8 H1028.4 L1029.0,1173.6 H1029.0 L1029.5,1178.8 H1030.1 L1030.6,1173.6 H1032.3 L1032.8,1178.8 H1032.8 L1033.4,1173.6 H1037.8 L1038.3,1178.8 H1038.3 L1038.9,1173.6 H1039.4 L1040.0,1178.8 H1040.0 L1040.5,1173.6 H1050.4 L1051.0,1178.8 H1051.0 L1051.5,1173.6 H1057.0 L1057.6,1178.8 H1057.6 L1058.1,1173.6 H1058.7 L1059.2,1178.8 H1060.3 L1060.9,1173.6 H1063.1 L1063.6,1178.8 H1063.6 L1064.2,1173.6 H1065.3 L1065.8,1178.8 H1065.8 L1066.4,1173.6 H1070.8 L1071.3,1178.8 H1071.3 L1071.9,1173.6 H1081.2 L1081.8,1178.8 H1081.8 L1082.3,1173.6 H1082.9 L1083.4,1178.8 H1083.4 L1084.0,1173.6 H1087.3 L1087.8,1178.8 H1087.8 L1088.4,1173.6 H1088.9 L1089.5,1178.8 H1089.5 L1090.0,1173.6 H1092.8 L1093.3,1178.8 H1093.3 L1093.9,1173.6 H1095.5 L1096.1,1178.8 H1096.1 L1096.6,1173.6 H1101.6 L1102.1,1178.8 H1102.1 L1102.7,1173.6 H1103.8 L1104.3,1168.4 H1104.3 L1104.9,1173.6 H1108.2 L1108.7,1178.8 H1109.3 L1109.8,1173.6 H1113.1 L1113.7,1178.8 H1113.7 L1114.2,1173.6 H1119.2 L1119.7,1178.8 H1119.7 L1120.3,1173.6 H1121.4 L1121.9,1178.8 H1121.9 L1122.5,1173.6 H1126.3 L1126.9,1178.8 H1126.9 L1127.4,1173.6 H1131.8 L1132.4,1178.8 H1132.4 L1132.9,1173.6 H1137.3 L1137.9,1178.8 H1137.9 L1138.4,1173.6 H1154.4" stroke="#00ffff" stroke-width="1.3" fill="none"/>
<path d="M165.5,1157.2 H165.5 L166.1,1162.8 H166.1 L166.6,1157.2 H176.5 L177.1,1151.6 H177.1 L177.6,1157.2 H177.6 L178.2,1151.6 H178.2 L178.7,1157.2 H180.4 L180.9,1151.6 H180.9 L181.5,1157.2 H181.5 L182.0,1151.6 H183.1 L183.7,1157.2 H183.7 L184.2,1151.6 H184.2 L184.8,1157.2 H185.3 L185.9,1151.6 H185.9 L186.4,1157.2 H186.4 L187.0,1151.6 H188.1 L188.6,1157.2 H189.2 L189.7,1151.6 H190.8 L191.4,1157.2 H191.4 L191.9,1151.6 H191.9 L192.5,1157.2 H192.5 L193.0,1151.6 H199.6 L200.2,1146.0 H200.2 L200.7,1151.6 H201.8 L202.4,1146.0 H202.4 L202.9,1151.6 H203.5 L204.0,1146.0 H204.0 L204.6,1151.6 H206.8 L207.3,1146.0 H207.3 L207.9,1151.6 H209.0 L209.5,1146.0 H210.1 L210.6,1151.6 H211.2 L211.7,1146.0 H212.8 L213.4,1151.6 H213.4 L213.9,1146.0 H213.9 L214.5,1151.6 H217.8 L218.3,1146.0 H218.9 L219.4,1151.6 H219.4 L220.0,1146.0 H221.1 L221.6,1151.6 H221.6 L222.2,1146.0 H227.7 L228.2,1140.3 H228.2 L228.8,1146.0 H228.8 L229.3,1140.3 H229.3 L229.9,1146.0 H229.9 L230.4,1140.3 H231.0 L231.5,1146.0 H232.6 L233.2,1140.3 H233.7 L234.3,1146.0 H234.8 L235.4,1140.3 H237.0 L237.6,1146.0 H237.6 L238.1,1140.3 H238.1 L238.7,1146.0 H239.2 L239.8,1140.3 H239.8 L240.3,1146.0 H240.9 L241.4,1140.3 H251.9 L252.4,1146.0 H252.4 L253.0,1134.7 H253.0 L253.5,1140.3 H262.9 L263.4,1134.7 H264.5 L265.1,1140.3 H265.1 L265.6,1134.7 H265.6 L266.2,1140.3 H266.2 L266.7,1134.7 H267.3 L267.8,1140.3 H270.0 L270.6,1134.7 H271.1 L271.7,1140.3 H274.4 L275.0,1134.7 H276.1 L276.6,1140.3 H277.2 L277.7,1134.7 H277.7 L278.3,1140.3 H278.8 L279.4,1134.7 H279.9 L280.5,1140.3 H282.1 L282.7,1134.7 H283.2 L283.8,1140.3 H283.8 L284.3,1134.7 H284.9 L285.4,1140.3 H285.4 L286.0,1134.7 H286.5 L287.1,1140.3 H287.1 L287.6,1134.7 H287.6 L288.2,1140.3 H288.2 L288.7,1134.7 H289.3 L289.8,1140.3 H289.8 L290.4,1134.7 H295.9 L296.4,1140.3 H296.4 L297.0,1134.7 H309.1 L309.6,1129.1 H309.6 L310.2,1134.7 H312.9 L313.5,1129.1 H313.5 L314.0,1134.7 H315.1 L315.7,1129.1 H315.7 L316.2,1134.7 H316.2 L316.8,1129.1 H316.8 L317.3,1134.7 H318.4 L319.0,1129.1 H319.0 L319.5,1134.7 H319.5 L320.1,1129.1 H320.1 L320.6,1134.7 H320.6 L321.2,1129.1 H322.3 L322.8,1134.7 H323.4 L323.9,1129.1 H326.7 L327.2,1134.7 H327.2 L327.8,1129.1 H327.8 L328.3,1134.7 H328.3 L328.9,1129.1 H330.0 L330.5,1134.7 H330.5 L331.1,1129.1 H331.1 L331.6,1134.7 H331.6 L332.2,1129.1 H334.4 L334.9,1134.7 H334.9 L335.5,1129.1 H337.1 L337.7,1123.5 H337.7 L338.2,1129.1 H342.6 L343.2,1134.7 H343.2 L343.7,1129.1 H343.7 L344.3,1134.7 H344.3 L344.8,1129.1 H352.0 L352.5,1123.5 H352.5 L353.1,1129.1 H353.6 L354.2,1123.5 H354.2 L354.7,1129.1 H354.7 L355.3,1123.5 H355.3 L355.8,1129.1 H357.5 L358.0,1123.5 H358.0 L358.6,1129.1 H360.2 L360.8,1123.5 H361.3 L361.9,1129.1 H363.0 L363.5,1123.5 H364.6 L365.2,1129.1 H367.9 L368.5,1123.5 H368.5 L369.0,1129.1 H369.0 L369.6,1123.5 H370.1 L370.7,1129.1 H370.7 L371.2,1123.5 H373.4 L374.0,1129.1 H374.0 L374.5,1123.5 H374.5 L375.1,1129.1 H375.1 L375.6,1123.5 H377.3 L377.8,1129.1 H378.4 L378.9,1123.5 H380.6 L381.1,1129.1 H381.1 L381.7,1123.5 H384.4 L385.0,1129.1 H385.0 L385.5,1123.5 H392.7 L393.2,1129.1 H393.2 L393.8,1123.5 H399.3 L399.8,1117.9 H399.8 L400.4,1123.5 H400.9 L401.5,1117.9 H401.5 L402.0,1123.5 H404.8 L405.3,1117.9 H405.3 L405.9,1123.5 H407.5 L408.1,1117.9 H408.1 L408.6,1123.5 H409.7 L410.3,1117.9 H410.3 L410.8,1123.5 H411.4 L411.9,1117.9 H411.9 L412.5,1123.5 H413.0 L413.6,1117.9 H413.6 L414.1,1123.5 H415.2 L415.8,1117.9 H415.8 L416.3,1123.5 H416.3 L416.9,1117.9 H417.4 L418.0,1123.5 H420.2 L420.7,1117.9 H421.3 L421.8,1123.5 H421.8 L422.4,1117.9 H423.5 L424.0,1123.5 H424.0 L424.6,1117.9 H425.1 L425.7,1123.5 H425.7 L426.2,1117.9 H426.2 L426.8,1123.5 H427.3 L427.9,1117.9 H427.9 L428.4,1123.5 H430.1 L430.6,1117.9 H431.2 L431.7,1123.5 H432.3 L432.8,1117.9 H442.2 L442.7,1123.5 H442.7 L443.3,1117.9 H444.9 L445.5,1112.2 H445.5 L446.0,1117.9 H472.4 L473.0,1112.2 H473.0 L473.5,1117.9 H475.7 L476.3,1112.2 H476.3 L476.8,1117.9 H476.8 L477.4,1112.2 H477.4 L477.9,1117.9 H478.5 L479.0,1112.2 H479.0 L479.6,1117.9 H480.1 L480.7,1112.2 H480.7 L481.2,1117.9 H481.2 L481.8,1112.2 H481.8 L482.3,1117.9 H484.0 L484.5,1112.2 H485.1 L485.6,1117.9 H486.2 L486.7,1112.2 H486.7 L487.3,1117.9 H489.5 L490.0,1112.2 H490.0 L490.6,1117.9 H490.6 L491.1,1112.2 H491.1 L491.7,1117.9 H491.7 L492.2,1112.2 H492.2 L492.8,1117.9 H492.8 L493.3,1112.2 H493.9 L494.4,1117.9 H495.0 L495.5,1112.2 H496.1 L496.6,1117.9 H496.6 L497.2,1112.2 H497.2 L497.7,1117.9 H498.8 L499.4,1112.2 H500.5 L501.0,1117.9 H501.0 L501.6,1112.2 H502.7 L503.2,1117.9 H503.8 L504.3,1112.2 H505.4 L506.0,1117.9 H506.0 L506.5,1112.2 H507.1 L507.6,1117.9 H508.2 L508.7,1112.2 H509.8 L510.4,1117.9 H510.4 L510.9,1112.2 H513.7 L514.2,1117.9 H514.2 L514.8,1112.2 H520.8 L521.4,1106.6 H521.4 L521.9,1112.2 H528.0 L528.5,1106.6 H529.6 L530.2,1112.2 H530.2 L530.7,1106.6 H530.7 L531.3,1112.2 H531.3 L531.8,1106.6 H531.8 L532.4,1112.2 H532.4 L532.9,1106.6 H532.9 L533.5,1112.2 H533.5 L534.0,1106.6 H534.6 L535.1,1112.2 H535.7 L536.2,1106.6 H536.2 L536.8,1112.2 H536.8 L537.3,1106.6 H538.4 L539.0,1112.2 H539.0 L539.5,1106.6 H539.5 L540.1,1112.2 H540.6 L541.2,1106.6 H541.2 L541.7,1112.2 H542.8 L543.4,1106.6 H545.6 L546.1,1112.2 H546.1 L546.7,1106.6 H548.3 L548.9,1112.2 H549.4 L550.0,1106.6 H551.6 L552.2,1112.2 H552.7 L553.3,1106.6 H554.9 L555.5,1112.2 H555.5 L556.0,1106.6 H562.1 L562.6,1112.2 H562.6 L563.2,1106.6 H570.3 L570.9,1112.2 H571.4 L572.0,1106.6 H579.1 L579.7,1112.2 H579.7 L580.2,1106.6 H600.0 L600.5,1101.0 H600.5 L601.1,1106.6 H611.0 L611.5,1101.0 H612.1 L612.6,1106.6 H614.3 L614.8,1101.0 H615.4 L615.9,1106.6 H616.5 L617.0,1101.0 H617.0 L617.6,1106.6 H618.7 L619.2,1101.0 H619.2 L619.8,1106.6 H621.4 L622.0,1101.0 H622.5 L623.1,1106.6 H623.6 L624.2,1101.0 H624.2 L624.7,1106.6 H628.0 L628.6,1101.0 H629.7 L630.2,1106.6 H631.3 L631.9,1101.0 H632.4 L633.0,1106.6 H633.0 L633.5,1101.0 H634.6 L635.2,1106.6 H635.2 L635.7,1101.0 H635.7 L636.3,1106.6 H636.8 L637.4,1101.0 H639.6 L640.1,1106.6 H640.1 L640.7,1101.0 H640.7 L641.2,1106.6 H642.3 L642.9,1101.0 H642.9 L643.4,1106.6 H644.0 L644.5,1101.0 H646.2 L646.7,1106.6 H646.7 L647.3,1101.0 H647.3 L647.8,1106.6 H647.8 L648.4,1101.0 H651.7 L652.2,1106.6 H652.2 L652.8,1101.0 H654.4 L655.0,1106.6 H655.0 L655.5,1101.0 H657.7 L658.3,1106.6 H658.3 L658.8,1101.0 H658.8 L659.4,1106.6 H659.4 L659.9,1101.0 H662.7 L663.2,1106.6 H663.2 L663.8,1101.0 H683.6 L684.1,1095.4 H684.1 L684.7,1101.0 H686.3 L686.9,1106.6 H686.9 L687.4,1101.0 H688.5 L689.1,1095.4 H689.1 L689.6,1101.0 H695.1 L695.7,1095.4 H695.7 L696.2,1101.0 H700.6 L701.2,1095.4 H701.2 L701.7,1101.0 H702.8 L703.4,1095.4 H703.4 L703.9,1101.0 H712.7 L713.3,1095.4 H713.3 L713.8,1101.0 H720.4 L721.0,1095.4 H721.0 L721.5,1101.0 H722.6 L723.2,1095.4 H723.2 L723.7,1101.0 H723.7 L724.3,1095.4 H724.3 L724.8,1101.0 H725.9 L726.5,1095.4 H726.5 L727.0,1101.0 H728.7 L729.2,1095.4 H729.2 L729.8,1101.0 H730.3 L730.9,1095.4 H730.9 L731.4,1101.0 H732.0 L732.5,1095.4 H733.6 L734.2,1101.0 H735.3 L735.8,1095.4 H735.8 L736.4,1101.0 H736.4 L736.9,1095.4 H739.1 L739.7,1101.0 H740.2 L740.8,1095.4 H743.0 L743.5,1101.0 H743.5 L744.1,1095.4 H745.2 L745.7,1101.0 H745.7 L746.3,1095.4 H746.8 L747.4,1101.0 H747.9 L748.5,1095.4 H748.5 L749.0,1101.0 H749.6 L750.1,1095.4 H750.1 L750.7,1101.0 H750.7 L751.2,1095.4 H754.0 L754.5,1101.0 H755.6 L756.2,1095.4 H760.6 L761.1,1101.0 H761.1 L761.7,1095.4 H761.7 L762.2,1101.0 H762.2 L762.8,1095.4 H763.3 L763.9,1101.0 H763.9 L764.4,1095.4 H768.3 L768.8,1101.0 H768.8 L769.4,1095.4 H769.9 L770.5,1101.0 H770.5 L771.0,1095.4 H777.6 L778.2,1089.8 H778.2 L778.7,1095.4 H780.4 L780.9,1101.0 H780.9 L781.5,1095.4 H813.4 L813.9,1089.8 H813.9 L814.5,1095.4 H821.1 L821.6,1089.8 H821.6 L822.2,1095.4 H827.1 L827.7,1089.8 H827.7 L828.2,1095.4 H829.3 L829.9,1089.8 H829.9 L830.4,1095.4 H835.9 L836.5,1089.8 H836.5 L837.0,1095.4 H839.8 L840.3,1089.8 H840.3 L840.9,1095.4 H842.0 L842.5,1089.8 H842.5 L843.1,1095.4 H843.1 L843.6,1089.8 H843.6 L844.2,1095.4 H845.3 L845.8,1089.8 H845.8 L846.4,1095.4 H847.5 L848.0,1089.8 H848.0 L848.6,1095.4 H853.5 L854.1,1089.8 H854.1 L854.6,1095.4 H855.2 L855.7,1089.8 H855.7 L856.3,1095.4 H856.8 L857.4,1089.8 H858.5 L859.0,1095.4 H859.0 L859.6,1089.8 H860.1 L860.7,1095.4 H860.7 L861.2,1089.8 H861.8 L862.3,1095.4 H862.9 L863.4,1089.8 H864.0 L864.5,1095.4 H865.6 L866.2,1089.8 H866.2 L866.7,1095.4 H866.7 L867.3,1089.8 H870.0 L870.6,1095.4 H871.1 L871.7,1089.8 H871.7 L872.2,1095.4 H872.2 L872.8,1089.8 H876.6 L877.2,1095.4 H877.7 L878.3,1089.8 H878.3 L878.8,1095.4 H882.1 L882.7,1089.8 H883.8 L884.3,1095.4 H884.9 L885.4,1089.8 H890.4 L890.9,1095.4 H890.9 L891.5,1089.8 H891.5 L892.0,1095.4 H892.0 L892.6,1089.8 H893.1 L893.7,1095.4 H893.7 L894.2,1089.8 H896.4 L897.0,1095.4 H897.5 L898.1,1089.8 H898.6 L899.2,1095.4 H899.7 L900.3,1089.8 H901.4 L901.9,1095.4 H901.9 L902.5,1089.8 H909.1 L909.6,1095.4 H909.6 L910.2,1089.8 H916.2 L916.8,1095.4 H916.8 L917.3,1089.8 H917.9 L918.4,1084.1 H918.4 L919.0,1089.8 H921.2 L921.7,1095.4 H921.7 L922.3,1089.8 H942.1 L942.6,1084.1 H942.6 L943.2,1089.8 H945.4 L945.9,1084.1 H945.9 L946.5,1089.8 H946.5 L947.0,1084.1 H947.0 L947.6,1089.8 H952.5 L953.1,1084.1 H953.1 L953.6,1089.8 H964.1 L964.6,1084.1 H964.6 L965.2,1089.8 H968.5 L969.0,1084.1 H969.6 L970.1,1089.8 H970.1 L970.7,1084.1 H971.2 L971.8,1089.8 H971.8 L972.3,1084.1 H972.3 L972.9,1089.8 H975.1 L975.6,1084.1 H976.7 L977.3,1089.8 H977.3 L977.8,1084.1 H977.8 L978.4,1089.8 H980.0 L980.6,1084.1 H980.6 L981.1,1089.8 H981.7 L982.2,1084.1 H982.2 L982.8,1089.8 H983.3 L983.9,1084.1 H983.9 L984.4,1089.8 H985.0 L985.5,1084.1 H985.5 L986.1,1089.8 H987.2 L987.7,1084.1 H988.3 L988.8,1089.8 H989.4 L989.9,1084.1 H989.9 L990.5,1089.8 H993.2 L993.8,1084.1 H993.8 L994.3,1089.8 H994.3 L994.9,1084.1 H996.0 L996.5,1089.8 H997.1 L997.6,1084.1 H997.6 L998.2,1089.8 H999.8 L1000.4,1084.1 H1000.4 L1000.9,1089.8 H1000.9 L1001.5,1084.1 H1001.5 L1002.0,1089.8 H1004.2 L1004.8,1084.1 H1007.0 L1007.5,1089.8 H1007.5 L1008.1,1084.1 H1010.8 L1011.4,1089.8 H1012.5 L1013.0,1084.1 H1014.7 L1015.2,1089.8 H1016.3 L1016.9,1084.1 H1027.9 L1028.4,1089.8 H1029.0 L1029.5,1084.1 H1036.1 L1036.7,1089.8 H1037.2 L1037.8,1084.1 H1057.6 L1058.1,1078.5 H1058.1 L1058.7,1084.1 H1073.5 L1074.1,1078.5 H1074.1 L1074.6,1084.1 H1075.2 L1075.7,1078.5 H1075.7 L1076.3,1084.1 H1079.0 L1079.6,1078.5 H1079.6 L1080.1,1084.1 H1081.2 L1081.8,1078.5 H1084.0 L1084.5,1084.1 H1086.7 L1087.3,1078.5 H1087.3 L1087.8,1084.1 H1088.4 L1088.9,1078.5 H1088.9 L1089.5,1084.1 H1089.5 L1090.0,1078.5 H1090.0 L1090.6,1084.1 H1093.3 L1093.9,1078.5 H1093.9 L1094.4,1084.1 H1095.5 L1096.1,1078.5 H1096.6 L1097.2,1084.1 H1098.3 L1098.8,1078.5 H1099.4 L1099.9,1084.1 H1100.5 L1101.0,1078.5 H1101.0 L1101.6,1084.1 H1102.1 L1102.7,1078.5 H1103.2 L1103.8,1084.1 H1105.4 L1106.0,1078.5 H1106.0 L1106.5,1084.1 H1106.5 L1107.1,1078.5 H1107.1 L1107.6,1084.1 H1107.6 L1108.2,1078.5 H1108.2 L1108.7,1084.1 H1109.3 L1109.8,1078.5 H1109.8 L1110.4,1084.1 H1112.0 L1112.6,1078.5 H1113.7 L1114.2,1084.1 H1114.2 L1114.8,1078.5 H1115.9 L1116.4,1084.1 H1117.5 L1118.1,1078.5 H1119.7 L1120.3,1084.1 H1120.3 L1120.8,1078.5 H1122.5 L1123.0,1084.1 H1123.0 L1123.6,1078.5 H1125.2 L1125.8,1084.1 H1125.8 L1126.3,1078.5 H1130.7 L1131.3,1084.1 H1131.3 L1131.8,1078.5 H1131.8 L1132.4,1084.1 H1132.4 L1132.9,1078.5 H1134.0 L1134.6,1084.1 H1134.6 L1135.1,1078.5 H1146.7 L1147.2,1084.1 H1147.2 L1147.8,1072.9 H1147.8 L1148.3,1078.5 H1150.0 L1150.5,1072.9 H1150.5 L1151.1,1078.5 H1154.4" stroke="#00ff00" stroke-width="1.1" fill="none"/>
<path d="M165.5,1232.9 H166.1 L166.6,1227.6 H167.2 L167.7,1232.9 H168.8 L169.4,1227.6 H169.9 L170.5,1232.9 H170.5 L171.0,1227.6 H171.0 L171.6,1232.9 H173.2 L173.8,1227.6 H173.8 L174.3,1232.9 H174.9 L175.4,1227.6 H177.1 L177.6,1232.9 H180.9 L181.5,1227.6 H181.5 L182.0,1232.9 H182.0 L182.6,1227.6 H185.9 L186.4,1232.9 H187.5 L188.1,1227.6 H188.1 L188.6,1232.9 H190.3 L190.8,1227.6 H191.4 L191.9,1232.9 H191.9 L192.5,1227.6 H193.0 L193.6,1232.9 H193.6 L194.1,1227.6 H196.3 L196.9,1232.9 H196.9 L197.4,1227.6 H201.3 L201.8,1232.9 H201.8 L202.4,1227.6 H202.4 L202.9,1232.9 H202.9 L203.5,1227.6 H204.6 L205.1,1232.9 H205.1 L205.7,1227.6 H205.7 L206.2,1232.9 H206.2 L206.8,1227.6 H207.3 L207.9,1232.9 H208.4 L209.0,1227.6 H209.5 L210.1,1232.9 H210.1 L210.6,1227.6 H211.7 L212.3,1232.9 H212.8 L213.4,1227.6 H213.4 L213.9,1232.9 H213.9 L214.5,1227.6 H215.0 L215.6,1232.9 H215.6 L216.1,1227.6 H216.1 L216.7,1232.9 H217.2 L217.8,1227.6 H218.3 L218.9,1232.9 H218.9 L219.4,1227.6 H220.5 L221.1,1232.9 H221.6 L222.2,1227.6 H224.4 L224.9,1232.9 H224.9 L225.5,1227.6 H227.7 L228.2,1232.9 H228.2 L228.8,1227.6 H229.9 L230.4,1232.9 H230.4 L231.0,1227.6 H231.5 L232.1,1232.9 H232.1 L232.6,1227.6 H234.8 L235.4,1232.9 H235.4 L235.9,1227.6 H238.1 L238.7,1232.9 H238.7 L239.2,1227.6 H239.2 L239.8,1232.9 H239.8 L240.3,1227.6 H245.8 L246.4,1232.9 H246.4 L246.9,1227.6 H249.7 L250.2,1232.9 H250.2 L250.8,1227.6 H250.8 L251.3,1232.9 H251.3 L251.9,1227.6 H253.0 L253.5,1232.9 H253.5 L254.1,1227.6 H255.2 L255.7,1232.9 H255.7 L256.3,1227.6 H263.4 L264.0,1232.9 H264.0 L264.5,1227.6 H267.3 L267.8,1232.9 H267.8 L268.4,1227.6 H271.1 L271.7,1232.9 H271.7 L272.2,1227.6 H272.8 L273.3,1232.9 H273.3 L273.9,1227.6 H274.4 L275.0,1222.3 H275.0 L275.5,1227.6 H308.0 L308.5,1222.3 H308.5 L309.1,1227.6 H312.4 L312.9,1222.3 H312.9 L313.5,1227.6 H328.3 L328.9,1222.3 H328.9 L329.4,1227.6 H332.2 L332.7,1222.3 H332.7 L333.3,1227.6 H335.5 L336.0,1222.3 H336.6 L337.1,1227.6 H341.0 L341.5,1222.3 H341.5 L342.1,1227.6 H352.0 L352.5,1222.3 H352.5 L353.1,1227.6 H353.6 L354.2,1222.3 H354.7 L355.3,1227.6 H356.4 L356.9,1222.3 H356.9 L357.5,1227.6 H357.5 L358.0,1222.3 H359.7 L360.2,1227.6 H360.8 L361.3,1222.3 H361.9 L362.4,1227.6 H369.6 L370.1,1222.3 H370.7 L371.2,1227.6 H371.2 L371.8,1222.3 H371.8 L372.3,1227.6 H375.6 L376.2,1222.3 H376.7 L377.3,1227.6 H377.3 L377.8,1222.3 H377.8 L378.4,1227.6 H379.5 L380.0,1222.3 H380.0 L380.6,1227.6 H380.6 L381.1,1222.3 H381.7 L382.2,1227.6 H382.2 L382.8,1222.3 H384.4 L385.0,1227.6 H385.0 L385.5,1222.3 H386.1 L386.6,1227.6 H386.6 L387.2,1222.3 H387.7 L388.3,1227.6 H388.3 L388.8,1222.3 H388.8 L389.4,1227.6 H389.4 L389.9,1222.3 H391.0 L391.6,1227.6 H392.1 L392.7,1222.3 H393.2 L393.8,1227.6 H393.8 L394.3,1222.3 H394.3 L394.9,1227.6 H394.9 L395.4,1222.3 H400.4 L400.9,1227.6 H400.9 L401.5,1222.3 H403.1 L403.7,1227.6 H403.7 L404.2,1222.3 H405.9 L406.4,1227.6 H406.4 L407.0,1222.3 H407.5 L408.1,1227.6 H408.1 L408.6,1222.3 H409.2 L409.7,1227.6 H409.7 L410.3,1222.3 H410.8 L411.4,1227.6 H411.4 L411.9,1222.3 H412.5 L413.0,1227.6 H413.0 L413.6,1222.3 H416.3 L416.9,1227.6 H416.9 L417.4,1222.3 H420.2 L420.7,1227.6 H421.3 L421.8,1222.3 H436.1 L436.7,1227.6 H436.7 L437.2,1222.3 H437.2 L437.8,1217.0 H437.8 L438.3,1222.3 H459.8 L460.3,1217.0 H460.3 L460.9,1222.3 H462.5 L463.1,1217.0 H463.6 L464.2,1222.3 H464.7 L465.3,1217.0 H465.8 L466.4,1222.3 H468.0 L468.6,1217.0 H468.6 L469.1,1222.3 H475.2 L475.7,1217.0 H475.7 L476.3,1222.3 H480.1 L480.7,1217.0 H480.7 L481.2,1222.3 H484.0 L484.5,1217.0 H485.1 L485.6,1222.3 H486.2 L486.7,1217.0 H487.8 L488.4,1222.3 H488.4 L488.9,1217.0 H488.9 L489.5,1222.3 H491.1 L491.7,1217.0 H493.3 L493.9,1222.3 H494.4 L495.0,1217.0 H496.1 L496.6,1222.3 H499.9 L500.5,1217.0 H500.5 L501.0,1222.3 H501.0 L501.6,1217.0 H501.6 L502.1,1222.3 H502.1 L502.7,1217.0 H504.9 L505.4,1222.3 H505.4 L506.0,1217.0 H508.7 L509.3,1222.3 H509.3 L509.8,1217.0 H510.9 L511.5,1222.3 H512.0 L512.6,1217.0 H513.7 L514.2,1222.3 H515.3 L515.9,1217.0 H523.6 L524.1,1222.3 H524.1 L524.7,1217.0 H527.4 L528.0,1222.3 H528.0 L528.5,1217.0 H528.5 L529.1,1222.3 H529.1 L529.6,1217.0 H530.7 L531.3,1222.3 H531.8 L532.4,1217.0 H534.0 L534.6,1222.3 H534.6 L535.1,1217.0 H541.2 L541.7,1211.7 H541.7 L542.3,1217.0 H547.8 L548.3,1222.3 H548.3 L548.9,1217.0 H563.2 L563.7,1222.3 H564.3 L564.8,1217.0 H572.0 L572.5,1222.3 H572.5 L573.1,1217.0 H574.2 L574.7,1222.3 H574.7 L575.3,1217.0 H577.5 L578.0,1222.3 H578.0 L578.6,1217.0 H587.9 L588.5,1222.3 H588.5 L589.0,1217.0 H610.4 L611.0,1211.7 H611.0 L611.5,1217.0 H656.1 L656.6,1211.7 H656.6 L657.2,1217.0 H657.2 L657.7,1211.7 H657.7 L658.3,1217.0 H664.9 L665.4,1211.7 H665.4 L666.0,1217.0 H669.3 L669.8,1211.7 H669.8 L670.4,1217.0 H672.6 L673.1,1211.7 H673.7 L674.2,1217.0 H679.7 L680.3,1211.7 H680.3 L680.8,1217.0 H689.1 L689.6,1211.7 H689.6 L690.2,1217.0 H700.1 L700.6,1211.7 H701.2 L701.7,1217.0 H703.9 L704.5,1211.7 H704.5 L705.0,1217.0 H706.7 L707.2,1211.7 H707.2 L707.8,1217.0 H711.1 L711.6,1211.7 H711.6 L712.2,1217.0 H714.4 L714.9,1211.7 H714.9 L715.5,1217.0 H716.0 L716.6,1211.7 H716.6 L717.1,1217.0 H718.8 L719.3,1211.7 H719.9 L720.4,1217.0 H720.4 L721.0,1211.7 H721.0 L721.5,1217.0 H722.1 L722.6,1211.7 H723.2 L723.7,1217.0 H724.3 L724.8,1211.7 H724.8 L725.4,1217.0 H726.5 L727.0,1211.7 H727.0 L727.6,1217.0 H728.1 L728.7,1211.7 H728.7 L729.2,1217.0 H729.8 L730.3,1211.7 H730.3 L730.9,1217.0 H732.0 L732.5,1211.7 H732.5 L733.1,1217.0 H733.6 L734.2,1211.7 H734.2 L734.7,1217.0 H734.7 L735.3,1211.7 H735.3 L735.8,1217.0 H738.6 L739.1,1211.7 H739.7 L740.2,1217.0 H740.8 L741.3,1211.7 H743.0 L743.5,1217.0 H744.1 L744.6,1211.7 H745.2 L745.7,1217.0 H745.7 L746.3,1211.7 H747.4 L747.9,1217.0 H748.5 L749.0,1211.7 H749.6 L750.1,1217.0 H751.8 L752.3,1211.7 H752.3 L752.9,1217.0 H752.9 L753.4,1211.7 H753.4 L754.0,1217.0 H754.0 L754.5,1211.7 H755.1 L755.6,1217.0 H755.6 L756.2,1211.7 H756.2 L756.7,1217.0 H756.7 L757.3,1211.7 H757.3 L757.8,1217.0 H758.4 L758.9,1211.7 H758.9 L759.5,1217.0 H761.1 L761.7,1211.7 H761.7 L762.2,1217.0 H763.9 L764.4,1211.7 H764.4 L765.0,1217.0 H765.5 L766.1,1211.7 H766.1 L766.6,1217.0 H766.6 L767.2,1211.7 H768.3 L768.8,1217.0 H769.4 L769.9,1211.7 H771.0 L771.6,1217.0 H776.0 L776.5,1211.7 H776.5 L777.1,1217.0 H777.1 L777.6,1211.7 H778.7 L779.3,1217.0 H779.3 L779.8,1211.7 H780.9 L781.5,1217.0 H782.0 L782.6,1211.7 H784.8 L785.3,1217.0 H785.3 L785.9,1211.7 H786.4 L787.0,1217.0 H787.0 L787.5,1211.7 H787.5 L788.1,1217.0 H788.1 L788.6,1211.7 H788.6 L789.2,1217.0 H789.2 L789.7,1211.7 H792.5 L793.0,1217.0 H793.0 L793.6,1211.7 H793.6 L794.1,1217.0 H794.7 L795.2,1211.7 H795.8 L796.3,1217.0 H796.3 L796.9,1211.7 H798.0 L798.5,1217.0 H798.5 L799.1,1211.7 H799.1 L799.6,1217.0 H799.6 L800.2,1211.7 H800.2 L800.7,1217.0 H800.7 L801.3,1211.7 H806.2 L806.8,1217.0 H806.8 L807.3,1211.7 H809.5 L810.1,1217.0 H810.6 L811.2,1211.7 H813.4 L813.9,1217.0 H813.9 L814.5,1211.7 H815.6 L816.1,1217.0 H816.1 L816.7,1211.7 H818.9 L819.4,1217.0 H819.4 L820.0,1211.7 H821.6 L822.2,1217.0 H822.2 L822.7,1211.7 H832.6 L833.2,1217.0 H833.2 L833.7,1211.7 H834.3 L834.8,1206.4 H834.8 L835.4,1211.7 H853.5 L854.1,1217.0 H854.1 L854.6,1211.7 H859.6 L860.1,1206.4 H860.1 L860.7,1211.7 H864.5 L865.1,1206.4 H865.1 L865.6,1211.7 H875.5 L876.1,1206.4 H876.1 L876.6,1211.7 H878.8 L879.4,1206.4 H879.9 L880.5,1211.7 H880.5 L881.0,1206.4 H881.0 L881.6,1211.7 H884.3 L884.9,1206.4 H884.9 L885.4,1211.7 H886.0 L886.5,1206.4 H886.5 L887.1,1211.7 H888.2 L888.7,1206.4 H889.3 L889.8,1211.7 H889.8 L890.4,1206.4 H890.4 L890.9,1211.7 H894.2 L894.8,1206.4 H894.8 L895.3,1211.7 H895.9 L896.4,1206.4 H896.4 L897.0,1211.7 H899.7 L900.3,1206.4 H901.4 L901.9,1211.7 H901.9 L902.5,1206.4 H903.0 L903.6,1211.7 H903.6 L904.1,1206.4 H904.1 L904.7,1211.7 H904.7 L905.2,1206.4 H905.8 L906.3,1211.7 H906.9 L907.4,1206.4 H907.4 L908.0,1211.7 H908.5 L909.1,1206.4 H909.6 L910.2,1211.7 H910.2 L910.7,1206.4 H911.3 L911.8,1211.7 H912.4 L912.9,1206.4 H912.9 L913.5,1211.7 H915.7 L916.2,1206.4 H916.8 L917.3,1211.7 H917.3 L917.9,1206.4 H920.6 L921.2,1211.7 H921.2 L921.7,1206.4 H922.8 L923.4,1211.7 H923.4 L923.9,1206.4 H924.5 L925.0,1211.7 H925.0 L925.6,1206.4 H925.6 L926.1,1211.7 H927.8 L928.3,1206.4 H929.4 L930.0,1211.7 H930.0 L930.5,1206.4 H932.2 L932.7,1211.7 H934.9 L935.5,1206.4 H935.5 L936.0,1211.7 H936.0 L936.6,1206.4 H936.6 L937.1,1211.7 H937.1 L937.7,1206.4 H942.6 L943.2,1211.7 H943.2 L943.7,1206.4 H944.8 L945.4,1211.7 H945.9 L946.5,1206.4 H946.5 L947.0,1211.7 H948.1 L948.7,1206.4 H953.6 L954.2,1211.7 H954.2 L954.7,1206.4 H954.7 L955.3,1211.7 H955.8 L956.4,1206.4 H956.9 L957.5,1211.7 H958.6 L959.1,1206.4 H959.1 L959.7,1211.7 H959.7 L960.2,1206.4 H960.2 L960.8,1211.7 H960.8 L961.3,1206.4 H961.3 L961.9,1211.7 H961.9 L962.4,1206.4 H963.5 L964.1,1211.7 H964.6 L965.2,1206.4 H965.7 L966.3,1211.7 H966.3 L966.8,1206.4 H967.4 L967.9,1211.7 H967.9 L968.5,1206.4 H974.0 L974.5,1211.7 H974.5 L975.1,1206.4 H977.8 L978.4,1211.7 H978.4 L978.9,1206.4 H983.3 L983.9,1211.7 H983.9 L984.4,1206.4 H985.0 L985.5,1211.7 H985.5 L986.1,1206.4 H996.0 L996.5,1211.7 H996.5 L997.1,1206.4 H1002.6 L1003.1,1211.7 H1004.8 L1005.3,1206.4 H1009.7 L1010.3,1211.7 H1010.3 L1010.8,1206.4 H1018.0 L1018.5,1211.7 H1018.5 L1019.1,1206.4 H1025.1 L1025.7,1211.7 H1025.7 L1026.2,1206.4 H1034.5 L1035.0,1211.7 H1035.0 L1035.6,1206.4 H1058.7 L1059.2,1211.7 H1059.2 L1059.8,1206.4 H1071.9 L1072.4,1201.1 H1072.4 L1073.0,1206.4 H1077.9 L1078.5,1211.7 H1078.5 L1079.0,1206.4 H1121.4 L1121.9,1201.1 H1121.9 L1122.5,1206.4 H1122.5 L1123.0,1201.1 H1123.0 L1123.6,1206.4 H1135.7 L1136.2,1201.1 H1136.2 L1136.8,1206.4 H1141.7 L1142.3,1201.1 H1142.3 L1142.8,1206.4 H1152.7 L1153.3,1201.1 H1153.3 L1153.8,1206.4 H1154.4" stroke="#ffff00" stroke-width="1.3" fill="none"/>
</g>
<text x="142.8" y="1092.9" font-family='"Liberation Sans", sans-serif' font-size="20.9" textLength="12.2" lengthAdjust="spacingAndGlyphs" fill="#262626" >2</text>
<text x="142.8" y="1136.0" font-family='"Liberation Sans", sans-serif' font-size="20.9" textLength="12.2" lengthAdjust="spacingAndGlyphs" fill="#262626" >0</text>
<text x="136.6" y="1179.8" font-family='"Liberation Sans", sans-serif' font-size="20.9" textLength="18.4" lengthAdjust="spacingAndGlyphs" fill="#262626" >-2</text>
<text x="136.6" y="1222.9" font-family='"Liberation Sans", sans-serif' font-size="20.9" textLength="18.4" lengthAdjust="spacingAndGlyphs" fill="#262626" >-4</text>
<text transform="translate(98.2,1221.1) rotate(-90)" font-family='"Liberation Sans", sans-serif' font-size="20" font-weight="bold" textLength="137.0" lengthAdjust="spacingAndGlyphs" fill="#262626">Temperature</text>
<text transform="translate(124.1,1171.5) rotate(-90)" font-family='"Liberation Sans", sans-serif' font-size="20" font-weight="bold" textLength="37.5" lengthAdjust="spacingAndGlyphs" fill="#262626">(°C)</text>
<text transform="translate(1170.0,1176.4) rotate(-90)" font-family='"Liberation Sans", sans-serif' font-size="15" font-weight="bold" textLength="108.5" lengthAdjust="spacingAndGlyphs" fill="#000">Inboard EBox</text>
<text transform="translate(1182.1,1192.1) rotate(-90)" font-family='"Liberation Sans", sans-serif' font-size="15" font-weight="bold" textLength="124.2" lengthAdjust="spacingAndGlyphs" fill="#000">Inboard Sensor</text>
<text transform="translate(1193.9,1192.1) rotate(-90)" font-family='"Liberation Sans", sans-serif' font-size="15" font-weight="bold" textLength="122.4" lengthAdjust="spacingAndGlyphs" fill="#000">Outboard EBox</text>
<text transform="translate(1205.2,1212.1) rotate(-90)" font-family='"Liberation Sans", sans-serif' font-size="15" font-weight="bold" textLength="138.2" lengthAdjust="spacingAndGlyphs" fill="#000">Outboard Sensor</text>
<path d="M1167.9,1233.3 V1248.8" stroke="#0000ff" stroke-width="2"/>
<path d="M1179.9,1233.3 V1248.8" stroke="#00ffff" stroke-width="2"/>
<path d="M1191.8,1233.3 V1248.8" stroke="#00ff00" stroke-width="2"/>
<path d="M1203,1233.3 V1248.8" stroke="#ffff00" stroke-width="2"/>
<path d="M412.5,1306.5 V1469.5" stroke="#dcdcdc" stroke-width="1"/>
<path d="M660.5,1306.5 V1469.5" stroke="#dcdcdc" stroke-width="1"/>
<path d="M907.5,1306.5 V1469.5" stroke="#dcdcdc" stroke-width="1"/>
<path d="M165.5,1387.5 H1154.5" stroke="#dcdcdc" stroke-width="1"/>
<rect x="165.5" y="1306.5" width="989.0" height="163.0" fill="none" stroke="#262626" stroke-width="1"/>
<path d="M412.5,1306.5 v10 M412.5,1469.5 v-10 M660.5,1306.5 v10 M660.5,1469.5 v-10 M907.5,1306.5 v10 M907.5,1469.5 v-10 M165.5,1387.5 h10 M1154.5,1387.5 h-10" stroke="#262626" stroke-width="1" fill="none"/>
<g clip-path="url(#cp6)">
<path d="M166.7,1422.7 V1418.4 h1.2 V1422.7" fill="none" stroke="#0000ff" stroke-width="1"/>
<path d="M184.4,1422.7 V1418.4 h1.2 V1422.7" fill="none" stroke="#0000ff" stroke-width="1"/>
<path d="M194.0,1422.7 V1418.4 h1.2 V1422.7" fill="none" stroke="#0000ff" stroke-width="1"/>
<path d="M202.4,1422.7 V1418.4 h1.2 V1422.7" fill="none" stroke="#0000ff" stroke-width="1"/>
<path d="M208.1,1422.7 V1418.4 h1.2 V1422.7" fill="none" stroke="#0000ff" stroke-width="1"/>
<path d="M233.0,1422.7 V1418.4 h1.2 V1422.7" fill="none" stroke="#0000ff" stroke-width="1"/>
<path d="M285.9,1422.7 V1418.4 h1.2 V1422.7" fill="none" stroke="#0000ff" stroke-width="1"/>
<path d="M165.5,1393 V1422.7 H533.3" fill="none" stroke="#2020ff" stroke-width="1.2"/>
<path d="M533.3,1422.8 L533.3,1426.7 L533.9,1423.3 L534.6,1426.7 L535.2,1423.3 L535.9,1426.7 L536.5,1423.3 L537.2,1426.7 L537.8,1423.3 L538.5,1426.7 L539.1,1423.3 L539.8,1426.7 L540.4,1423.3 L541.1,1426.7 L541.7,1423.3 L542.4,1426.7 L543.0,1423.3 L543.7,1426.7 L544.3,1423.3 L545.0,1426.7 L545.6,1423.3 L547.6,1426.7 L548.2,1423.3 L548.9,1426.7 L549.5,1423.3 L550.2,1426.7 L550.8,1423.3 L551.5,1426.7 L552.1,1423.3 L552.8,1426.7 L553.4,1423.3 L555.4,1426.7 L556.0,1423.3 L556.7,1426.7 L557.3,1423.3 L558.0,1426.7 L558.6,1423.3 L559.3,1426.7 L559.9,1423.3 L560.6,1426.7 L561.2,1423.3 L561.9,1426.7 L562.5,1423.3 L563.2,1426.7 L563.8,1423.3 L564.5,1426.7 L565.1,1423.3 L567.1,1426.7 L567.7,1423.3 L568.4,1426.7 L569.0,1423.3 L569.7,1426.7 L570.3,1423.3 L571.0,1426.7 L571.6,1423.3 L572.3,1426.7 L572.9,1423.3 L573.6,1426.7 L574.2,1423.3 L574.9,1426.7 L575.5,1423.3 L576.2,1426.7 L576.8,1423.3 L578.8,1426.7 L579.4,1423.3 L580.1,1426.7 L580.7,1423.3 L581.4,1426.7 L582.0,1423.3 L584.0,1426.7 L584.6,1423.3 L585.3,1426.7 L585.9,1423.3 L587.9,1426.7 L588.5,1423.3 L589.2,1426.7 L589.8,1423.3 L590.5,1426.7 L591.1,1423.3 L593.1,1426.7 L593.7,1423.3 L594.4,1426.7 L595.0,1423.3 L595.7,1426.7 L596.3,1423.3 L597.0,1426.7 L597.6,1423.3 L599.6,1426.7 L600.2,1423.3 L602.2,1426.7 L602.8,1423.3 L603.5,1426.7 L604.1,1423.3 L604.8,1426.7 L605.4,1423.3 L606.1,1426.7 L606.7,1423.3 L607.4,1426.7 L608.0,1423.3 L608.7,1426.7 L609.3,1423.3 L610.0,1426.7 L610.6,1423.3 L611.3,1426.7 L611.9,1423.3 L612.6,1426.7 L613.2,1423.3 L613.9,1426.7 L614.5,1423.3 L615.2,1426.7 L615.8,1423.3 L616.5,1426.7 L617.1,1423.3 L617.8,1426.7 L618.4,1423.3 L619.1,1426.7 L619.7,1423.3 L620.4,1426.7 L621.0,1423.3 L621.7,1426.7 L622.3,1423.3 L623.0,1426.7 L623.6,1423.3 L624.3,1426.7 L624.9,1423.3 L625.6,1426.7 L626.2,1423.3 L626.9,1426.7 L627.5,1423.3 L628.2,1426.7 L628.8,1423.3 L629.5,1426.7 L630.1,1423.3 L632.1,1426.7 L632.7,1423.3 L633.4,1426.7 L634.0,1423.3 L636.0,1426.7 L636.6,1423.3 L637.3,1426.7 L637.9,1423.3 L638.6,1426.7 L639.2,1423.3 L639.9,1426.7 L640.5,1423.3 L641.2,1426.7 L641.8,1423.3 L642.5,1426.7 L643.1,1423.3 L643.8,1426.7 L644.4,1423.3 L645.1,1426.7 L645.7,1423.3 L646.4,1426.7 L647.0,1423.3 L647.7,1426.7 L648.3,1423.3 L649.0,1426.7 L649.6,1423.3 L650.3,1426.7 L650.9,1423.3 L651.6,1426.7 L652.2,1423.3 L652.9,1426.7 L653.5,1423.3 L654.2,1426.7 L654.8,1423.3 L655.5,1426.7 L656.1,1423.3 L656.8,1426.7 L657.4,1423.3 L658.1,1426.7 L658.7,1423.3 L659.4,1426.7 L660.0,1423.3 L660.7,1426.7 L661.3,1423.3 L662.0,1426.7 L662.6,1423.3 L663.3,1426.7 L663.9,1423.3 L664,1426.7 H667.5 L668.0,1423.2 L668.5,1426.7 H670.5 L671.0,1423.2 L671.5,1426.7 H679.0 L679.5,1423.2 L680.0,1426.7 H681.5 L682.0,1423.2 L682.5,1426.7 H690.5 L691.0,1423.2 L691.5,1426.7 H692.0 L692.5,1423.2 L693.0,1426.7 H708.0 L708.5,1423.2 L709.0,1426.7 H710.5 L711.0,1423.2 L711.5,1426.7 H721.5 L722.0,1423.2 L722.5,1426.7 H723.5 L724.0,1423.2 L724.5,1426.7 H725.5 L726.0,1423.2 L726.5,1426.7 H746.5 L747.0,1423.2 L747.5,1426.7 H749.5 L750.0,1423.2 L750.5,1426.7 H763.0 L763.5,1423.2 L764.0,1426.7 H768.5 L769.0,1423.2 L769.5,1426.7 H773.5 L774.0,1423.2 L774.5,1426.7 H781.5 L782.0,1423.2 L782.5,1426.7 H787.0 L787.5,1423.2 L788.0,1426.7 H793.0 L793.5,1423.2 L794.0,1426.7 H807.5 L808.0,1423.2 L808.5,1426.7 H901.1 L901.6,1423.2 L902.1,1426.7 H1154.5" fill="none" stroke="#2020ff" stroke-width="1.2"/>
<path d="M166.5,1391.6 L601.7,1391.6 L602.0,1383.4 L602.6,1383.4 L602.9,1391.6 L611.3,1391.6 L611.6,1383.4 L612.2,1383.4 L612.5,1391.6 L612.9,1391.6 L613.2,1383.4 L613.8,1383.4 L614.1,1391.6 L614.5,1391.6 L614.8,1383.4 L615.4,1383.4 L615.7,1391.6 L617.7,1391.6 L618.0,1383.4 L618.6,1383.4 L618.9,1391.6 L641.7,1391.6 L642.0,1383.4 L642.6,1383.4 L642.9,1391.6 L657.7,1391.6 L658.0,1383.4 L658.6,1383.4 L658.9,1391.6 L659.3,1391.6 L659.6,1383.4 L660.2,1383.4 L660.5,1391.6 L660.9,1391.6 L661.2,1383.4 L661.8,1383.4 L662.1,1391.6 L665.7,1391.6 L666.0,1383.4 L666.6,1383.4 L666.9,1391.6 L667.3,1391.6 L667.6,1383.4 L668.2,1383.4 L668.5,1391.6 L668.9,1391.6 L669.2,1383.4 L669.8,1383.4 L670.1,1391.6 L689.7,1391.6 L690.0,1383.4 L690.6,1383.4 L690.9,1391.6 L692.9,1391.6 L693.2,1383.4 L693.8,1383.4 L694.1,1391.6 L696.1,1391.6 L696.4,1383.4 L697.0,1383.4 L697.3,1391.6 L700.9,1391.6 L701.2,1383.4 L701.8,1383.4 L702.1,1391.6 L705.7,1391.6 L706.0,1383.4 L706.6,1383.4 L706.9,1391.6 L708.9,1391.6 L709.2,1383.4 L709.8,1383.4 L710.1,1391.6 L731.3,1391.6 L731.6,1383.4 L732.2,1383.4 L732.5,1391.6 L736.1,1391.6 L736.4,1383.4 L737.0,1383.4 L737.3,1391.6 L744.1,1391.6 L744.4,1383.4 L745.0,1383.4 L745.3,1391.6 L745.7,1391.6 L746.0,1383.4 L746.6,1383.4 L746.9,1391.6 L752.1,1391.6 L752.4,1383.4 L753.0,1383.4 L753.3,1391.6 L758.5,1391.6 L758.8,1383.4 L759.4,1383.4 L759.7,1391.6 L761.7,1391.6 L762.0,1383.4 L762.6,1383.4 L762.9,1391.6 L766.5,1391.6 L766.8,1383.4 L767.4,1383.4 L767.7,1391.6 L780.9,1391.6 L781.2,1383.4 L781.8,1383.4 L782.1,1391.6 L787.3,1391.6 L787.6,1383.4 L788.2,1383.4 L788.5,1391.6 L795.3,1391.6 L795.6,1383.4 L796.2,1383.4 L796.5,1391.6 L798.5,1391.6 L798.8,1383.4 L799.4,1383.4 L799.7,1391.6 L809.7,1391.6 L810.0,1383.4 L810.6,1383.4 L810.9,1391.6 L822.5,1391.6 L822.8,1383.4 L823.4,1383.4 L823.7,1391.6 L825.7,1391.6 L826.0,1383.4 L826.6,1383.4 L826.9,1391.6 L832.1,1391.6 L832.4,1383.4 L833.0,1383.4 L833.3,1391.6 L844.9,1391.6 L845.2,1383.4 L845.8,1383.4 L846.1,1391.6 L846.5,1391.6 L846.8,1383.4 L847.4,1383.4 L847.7,1391.6 L849.7,1391.6 L850.0,1383.4 L850.6,1383.4 L850.9,1391.6 L851.3,1391.6 L851.6,1383.4 L852.2,1383.4 L852.5,1391.6 L857.7,1391.6 L858.0,1383.4 L858.6,1383.4 L858.9,1391.6 L862.5,1391.6 L862.8,1383.4 L863.4,1383.4 L863.7,1391.6 L867.3,1391.6 L867.6,1383.4 L868.2,1383.4 L868.5,1391.6 L868.9,1391.6 L869.2,1383.4 L869.8,1383.4 L870.1,1391.6 L870.5,1391.6 L870.8,1383.4 L871.4,1383.4 L871.7,1391.6 L876.9,1391.6 L877.2,1383.4 L877.8,1383.4 L878.1,1391.6 L886.5,1391.6 L886.8,1383.4 L887.4,1383.4 L887.7,1391.6 L912.1,1391.6 L912.4,1383.4 L913.0,1383.4 L913.3,1391.6 L915.3,1391.6 L915.6,1383.4 L916.2,1383.4 L916.5,1391.6 L916.9,1391.6 L917.2,1383.4 L917.8,1383.4 L918.1,1391.6 L918.5,1391.6 L918.8,1383.4 L919.4,1383.4 L919.7,1391.6 L926.5,1391.6 L926.8,1383.4 L927.4,1383.4 L927.7,1391.6 L928.1,1391.6 L928.4,1383.4 L929.0,1383.4 L929.3,1391.6 L934.5,1391.6 L934.8,1383.4 L935.4,1383.4 L935.7,1391.6 L937.7,1391.6 L938.0,1383.4 L938.6,1383.4 L938.9,1391.6 L939.3,1391.6 L939.6,1383.4 L940.2,1383.4 L940.5,1391.6 L940.9,1391.6 L941.2,1383.4 L941.8,1383.4 L942.1,1391.6 L942.5,1391.6 L942.8,1383.4 L943.4,1383.4 L943.7,1391.6 L944.1,1391.6 L944.4,1383.4 L945.0,1383.4 L945.3,1391.6 L945.7,1391.6 L946.0,1383.4 L946.6,1383.4 L946.9,1391.6 L950.5,1391.6 L950.8,1383.4 L951.4,1383.4 L951.7,1391.6 L955.3,1391.6 L955.6,1383.4 L956.2,1383.4 L956.5,1391.6 L960.1,1391.6 L960.4,1383.4 L961.0,1383.4 L961.3,1391.6 L961.7,1391.6 L962.0,1383.4 L962.6,1383.4 L962.9,1391.6 L966.5,1391.6 L966.8,1383.4 L967.4,1383.4 L967.7,1391.6 L968.1,1391.6 L968.4,1383.4 L969.0,1383.4 L969.3,1391.6 L969.7,1391.6 L970.0,1383.4 L970.6,1383.4 L970.9,1391.6 L971.3,1391.6 L971.6,1383.4 L972.2,1383.4 L972.5,1391.6 L974.5,1391.6 L974.8,1383.4 L975.4,1383.4 L975.7,1391.6 L977.7,1391.6 L978.0,1383.4 L978.6,1383.4 L978.9,1391.6 L979.3,1391.6 L979.6,1383.4 L980.2,1383.4 L980.5,1391.6 L984.1,1391.6 L984.4,1383.4 L985.0,1383.4 L985.3,1391.6 L995.3,1391.6 L995.6,1383.4 L996.2,1383.4 L996.5,1391.6 L996.9,1391.6 L997.2,1383.4 L997.8,1383.4 L998.1,1391.6 L1000.1,1391.6 L1000.4,1383.4 L1001.0,1383.4 L1001.3,1391.6 L1001.7,1391.6 L1002.0,1383.4 L1002.6,1383.4 L1002.9,1391.6 L1003.3,1391.6 L1003.6,1383.4 L1004.2,1383.4 L1004.5,1391.6 L1006.5,1391.6 L1006.8,1383.4 L1007.4,1383.4 L1007.7,1391.6 L1009.7,1391.6 L1010.0,1383.4 L1010.6,1383.4 L1010.9,1391.6 L1012.9,1391.6 L1013.2,1383.4 L1013.8,1383.4 L1014.1,1391.6 L1014.5,1391.6 L1014.8,1383.4 L1015.4,1383.4 L1015.7,1391.6 L1019.3,1391.6 L1019.6,1383.4 L1020.2,1383.4 L1020.5,1391.6 L1022.5,1391.6 L1022.8,1383.4 L1023.4,1383.4 L1023.7,1391.6 L1024.1,1391.6 L1024.4,1383.4 L1025.0,1383.4 L1025.3,1391.6 L1030.5,1391.6 L1030.8,1383.4 L1031.4,1383.4 L1031.7,1391.6 L1035.3,1391.6 L1035.6,1383.4 L1036.2,1383.4 L1036.5,1391.6 L1041.7,1391.6 L1042.0,1383.4 L1042.6,1383.4 L1042.9,1391.6 L1046.5,1391.6 L1046.8,1383.4 L1047.4,1383.4 L1047.7,1391.6 L1049.7,1391.6 L1050.0,1383.4 L1050.6,1383.4 L1050.9,1391.6 L1051.3,1391.6 L1051.6,1383.4 L1052.2,1383.4 L1052.5,1391.6 L1052.9,1391.6 L1053.2,1383.4 L1053.8,1383.4 L1054.1,1391.6 L1056.1,1391.6 L1056.4,1383.4 L1057.0,1383.4 L1057.3,1391.6 L1064.1,1391.6 L1064.4,1383.4 L1065.0,1383.4 L1065.3,1391.6 L1070.5,1391.6 L1070.8,1383.4 L1071.4,1383.4 L1071.7,1391.6 L1072.1,1391.6 L1072.4,1383.4 L1073.0,1383.4 L1073.3,1391.6 L1073.7,1391.6 L1074.0,1383.4 L1074.6,1383.4 L1074.9,1391.6 L1075.3,1391.6 L1075.6,1383.4 L1076.2,1383.4 L1076.5,1391.6 L1076.9,1391.6 L1077.2,1383.4 L1077.8,1383.4 L1078.1,1391.6 L1078.5,1391.6 L1078.8,1383.4 L1079.4,1383.4 L1079.7,1391.6 L1083.3,1391.6 L1083.6,1383.4 L1084.2,1383.4 L1084.5,1391.6 L1084.9,1391.6 L1085.2,1383.4 L1085.8,1383.4 L1086.1,1391.6 L1089.7,1391.6 L1090.0,1383.4 L1090.6,1383.4 L1090.9,1391.6 L1091.3,1391.6 L1091.6,1383.4 L1092.2,1383.4 L1092.5,1391.6 L1096.1,1391.6 L1096.4,1383.4 L1097.0,1383.4 L1097.3,1391.6 L1097.7,1391.6 L1098.0,1383.4 L1098.6,1383.4 L1098.9,1391.6 L1100.9,1391.6 L1101.2,1383.4 L1101.8,1383.4 L1102.1,1391.6 L1102.5,1391.6 L1102.8,1383.4 L1103.4,1383.4 L1103.7,1391.6 L1105.7,1391.6 L1106.0,1383.4 L1106.6,1383.4 L1106.9,1391.6 L1107.3,1391.6 L1107.6,1383.4 L1108.2,1383.4 L1108.5,1391.6 L1112.1,1391.6 L1112.4,1383.4 L1113.0,1383.4 L1113.3,1391.6 L1113.7,1391.6 L1114.0,1383.4 L1114.6,1383.4 L1114.9,1391.6 L1115.3,1391.6 L1115.6,1383.4 L1116.2,1383.4 L1116.5,1391.6 L1120.1,1391.6 L1120.4,1383.4 L1121.0,1383.4 L1121.3,1391.6 L1126.5,1391.6 L1126.8,1383.4 L1127.4,1383.4 L1127.7,1391.6 L1129.7,1391.6 L1130.0,1383.4 L1130.6,1383.4 L1130.9,1391.6 L1131.3,1391.6 L1131.6,1383.4 L1132.2,1383.4 L1132.5,1391.6 L1132.9,1391.6 L1133.2,1383.4 L1133.8,1383.4 L1134.1,1391.6 L1134.5,1391.6 L1134.8,1383.4 L1135.4,1383.4 L1135.7,1391.6 L1137.7,1391.6 L1138.0,1383.4 L1138.6,1383.4 L1138.9,1391.6 L1139.3,1391.6 L1139.6,1383.4 L1140.2,1383.4 L1140.5,1391.6 L1140.9,1391.6 L1141.2,1383.4 L1141.8,1383.4 L1142.1,1391.6 L1142.5,1391.6 L1142.8,1383.4 L1143.4,1383.4 L1143.7,1391.6 L1144.1,1391.6 L1144.4,1383.4 L1145.0,1383.4 L1145.3,1391.6 L1150.5,1391.6 L1150.8,1383.4 L1151.4,1383.4 L1151.7,1391.6 H1154.5" fill="none" stroke="#00ffff" stroke-width="1.3"/>
<path d="M165.8,1393 L167.0,1399 L167.5,1399 L167.9,1403.5 L168.5,1399 L177.7,1399 L178.1,1394 L178.7,1399 L189.6,1399 L190.0,1403.5 L190.6,1399 L210.0,1399 L210.4,1403.5 L211.0,1399 L264.4,1399 L264.8,1394 L265.4,1399 L272.9,1399 L273.3,1403.5 L273.9,1399 L278.0,1399 L278.4,1394 L279.0,1399 L288.2,1399 L288.6,1394 L289.2,1399 L305.2,1399 L305.6,1403.5 L306.2,1399 L313.7,1399 L314.1,1403.5 L314.7,1399 L325.6,1399 L326.0,1403.5 L326.6,1399 L356.2,1399 L356.6,1403.5 L357.2,1399 L357.9,1399 L358.3,1403.5 L358.9,1399 L361.3,1399 L361.7,1403.5 L362.3,1399 L363.0,1399 L363.4,1394 L364.0,1399 L374.9,1399 L375.3,1403.5 L375.9,1399 L400.4,1399 L400.8,1403.5 L401.4,1399 L407.2,1399 L407.6,1394 L408.2,1399 L424.2,1399 L424.6,1403.5 L425.2,1399 L439.5,1399 L439.9,1403.5 L440.5,1399 L441.2,1399 L441.6,1403.5 L442.2,1399 L442.9,1399 L443.3,1403.5 L443.9,1399 L448.0,1399 L448.4,1403.5 L449.0,1399 L461.6,1399 L462.0,1394 L462.6,1399 L517.7,1399 L518.1,1403.5 L518.7,1399 L519.4,1399 L519.8,1403.5 L520.4,1399 L521.1,1399 L521.5,1403.5 L522.1,1399 L522.8,1399 L523.2,1403.5 L523.8,1399 L524.5,1399 L524.9,1403.5 L525.5,1399 L526.2,1399 L526.6,1403.5 L527.2,1399 L539.8,1399 L540.2,1403.5 L540.8,1399 L555.1,1399 L555.5,1403.5 L556.1,1399 L567.0,1399 L567.4,1394 L568.0,1399 L573.8,1399 L574.2,1403.5 L574.8,1399 L577.2,1399 L577.6,1394 L578.2,1399 L585.7,1399 L586.1,1403.5 L586.7,1399 L590.8,1399 L591.2,1403.5 L591.8,1399 L611.2,1399 L611.6,1394 L612.2,1399 L626.5,1399 L626.9,1394 L627.5,1399 L638.4,1399 L638.8,1394 L639.4,1399 L645.2,1399 L645.6,1403.5 L646.2,1399 L653.7,1399 L654.1,1403.5 L654.7,1399 L680.9,1399 L681.3,1394 L681.9,1399 L686.0,1399 L686.4,1394 L687.0,1399 L704.7,1399 L705.1,1403.5 L705.7,1399 L713.2,1399 L713.6,1403.5 L714.2,1399 L725.1,1399 L725.5,1403.5 L726.1,1399 L743.8,1399 L744.2,1403.5 L744.8,1399 L745.5,1399 L745.9,1403.5 L746.5,1399 L754.0,1399 L754.4,1394 L755.0,1399 L759.1,1399 L759.5,1394 L760.1,1399 L786.3,1399 L786.7,1403.5 L787.3,1399 L798.2,1399 L798.6,1394 L799.2,1399 L810.1,1399 L810.5,1403.5 L811.1,1399 L839.0,1399 L839.4,1403.5 L840.0,1399 L861.1,1399 L861.5,1403.5 L862.1,1399 L893.4,1399 L893.8,1403.5 L894.4,1399 L900.2,1399 L900.6,1394 L901.2,1399 L913.8,1399 L914.2,1403.5 L914.8,1399 L949.5,1399 L949.9,1403.5 L950.5,1399 L952.9,1399 L953.3,1403.5 L953.9,1399 L961.4,1399 L961.8,1394 L962.4,1399 L973.3,1399 L973.7,1403.5 L974.3,1399 L997.1,1399 L997.5,1403.5 L998.1,1399 L1003.9,1399 L1004.3,1403.5 L1004.9,1399 L1009.0,1399 L1009.4,1394 L1010.0,1399 L1010.7,1399 L1011.1,1403.5 L1011.7,1399 L1031.1,1399 L1031.5,1403.5 L1032.1,1399 L1051.5,1399 L1051.9,1403.5 L1052.5,1399 L1061.7,1399 L1062.1,1394 L1062.7,1399 L1104.2,1399 L1104.6,1403.5 L1105.2,1399 L1128.0,1399 L1128.4,1403.5 L1129.0,1399 L1138.2,1399 L1138.6,1403.5 L1139.2,1399 L1139.9,1399 L1140.3,1394 L1140.9,1399 L1141.6,1399 L1142.0,1403.5 L1142.6,1399 H1154.5" fill="none" stroke="#00ff00" stroke-width="1.2"/>
<path d="M166.1,1439 L167.1,1396 L167.7,1382.5 L168.2,1382.5 L168.3,1399.9 L168.8,1399.9 L168.9,1391.4 L169.4,1391.4 L169.5,1382.5 L170.0,1382.5 L170.1,1391.4 L170.6,1391.4 L170.7,1382.5 L171.2,1382.5 L171.3,1391.4 L171.8,1391.4 L171.9,1408.9 L172.4,1408.9 L172.5,1391.4 L173.0,1391.4 L173.1,1382.5 L173.6,1382.5 L173.7,1391.4 L175.3,1391.4 L175.4,1399.9 L175.9,1399.9 L176.0,1382.5 L177.6,1382.5 L177.7,1399.9 L178.2,1399.9 L178.3,1391.4 L178.8,1391.4 L178.9,1399.9 L179.4,1399.9 L179.5,1391.4 L180.0,1391.4 L180.1,1382.5 L180.6,1382.5 L180.7,1391.4 L181.2,1391.4 L181.3,1391.4 L181.8,1391.4 L181.9,1399.9 L182.4,1399.9 L182.5,1408.9 L183.0,1408.9 L183.1,1399.9 L183.6,1399.9 L183.7,1408.9 L184.2,1408.9 L184.3,1399.9 L184.8,1399.9 L184.9,1382.5 L185.4,1382.5 L185.5,1391.4 L186.0,1391.4 L186.1,1382.5 L186.6,1382.5 L186.7,1391.4 L188.3,1391.4 L188.4,1399.9 L188.9,1399.9 L189.0,1391.4 L189.5,1391.4 L189.6,1382.5 L190.1,1382.5 L190.2,1391.4 L190.7,1391.4 L190.8,1399.9 L191.3,1399.9 L191.4,1382.5 L191.9,1382.5 L192.0,1399.9 L192.5,1399.9 L192.6,1391.4 L193.1,1391.4 L193.2,1399.9 L193.7,1399.9 L193.8,1391.4 L194.3,1391.4 L194.4,1399.9 L194.9,1399.9 L195.0,1408.9 L195.5,1408.9 L195.6,1399.9 L196.1,1399.9 L196.2,1408.9 L196.7,1408.9 L196.8,1399.9 L197.3,1399.9 L197.4,1382.5 L197.9,1382.5 L198.0,1391.4 L198.5,1391.4 L198.6,1382.5 L199.1,1382.5 L199.2,1399.9 L199.7,1399.9 L199.8,1391.4 L200.3,1391.4 L200.4,1382.5 L200.9,1382.5 L201.0,1391.4 L201.5,1391.4 L201.6,1408.9 L202.1,1408.9 L202.2,1399.9 L202.7,1399.9 L202.8,1391.4 L203.3,1391.4 L203.4,1382.5 L203.9,1382.5 L204.0,1391.4 L204.5,1391.4 L204.6,1399.9 L205.1,1399.9 L205.2,1391.4 L205.7,1391.4 L205.8,1382.5 L207.4,1382.5 L207.5,1391.4 L208.0,1391.4 L208.1,1382.5 L208.6,1382.5 L208.7,1391.4 L209.2,1391.4 L209.3,1391.4 L209.8,1391.4 L209.9,1399.9 L210.4,1399.9 L210.5,1408.9 L211.0,1408.9 L211.1,1382.5 L211.6,1382.5 L211.7,1399.9 L212.2,1399.9 L212.3,1408.9 L212.8,1408.9 L212.9,1399.9 L213.4,1399.9 L213.5,1391.4 L214.0,1391.4 L214.1,1382.5 L214.6,1382.5 L214.7,1391.4 L215.2,1391.4 L215.3,1399.9 L215.8,1399.9 L215.9,1391.4 L216.4,1391.4 L216.5,1382.5 L217.0,1382.5 L217.1,1391.4 L217.6,1391.4 L217.7,1399.9 L218.2,1399.9 L218.3,1391.4 L218.8,1391.4 L218.9,1391.4 L219.4,1391.4 L219.5,1382.5 L220.0,1382.5 L220.1,1391.4 L220.6,1391.4 L220.7,1408.9 L221.2,1408.9 L221.3,1399.9 L221.8,1399.9 L221.9,1408.9 L222.4,1408.9 L222.5,1399.9 L223.0,1399.9 L223.1,1391.4 L223.6,1391.4 L223.7,1382.5 L224.2,1382.5 L224.3,1408.9 L224.8,1408.9 L224.9,1399.9 L225.4,1399.9 L225.5,1391.4 L226.0,1391.4 L226.1,1382.5 L226.6,1382.5 L226.7,1399.9 L227.2,1399.9 L227.3,1408.9 L227.8,1408.9 L227.9,1399.9 L229.5,1399.9 L229.6,1391.4 L230.1,1391.4 L230.2,1382.5 L230.7,1382.5 L230.8,1399.9 L231.3,1399.9 L231.4,1391.4 L231.9,1391.4 L232.0,1391.4 L232.5,1391.4 L232.6,1382.5 L233.1,1382.5 L233.2,1391.4 L233.7,1391.4 L233.8,1382.5 L234.3,1382.5 L234.4,1391.4 L234.9,1391.4 L235.0,1399.9 L235.5,1399.9 L235.6,1391.4 L236.1,1391.4 L236.2,1399.9 L237.8,1399.9 L237.9,1408.9 L238.4,1408.9 L238.5,1399.9 L239.0,1399.9 L239.1,1382.5 L239.6,1382.5 L239.7,1391.4 L240.2,1391.4 L240.3,1399.9 L240.8,1399.9 L240.9,1382.5 L242.5,1382.5 L242.6,1391.4 L243.1,1391.4 L243.2,1382.5 L243.7,1382.5 L243.8,1391.4 L244.3,1391.4 L244.4,1399.9 L244.9,1399.9 L245.0,1391.4 L245.5,1391.4 L245.6,1382.5 L246.1,1382.5 L246.2,1399.9 L246.7,1399.9 L246.8,1391.4 L247.3,1391.4 L247.4,1391.4 L249.0,1391.4 L249.1,1382.5 L249.6,1382.5 L249.7,1391.4 L250.2,1391.4 L250.3,1399.9 L250.8,1399.9 L250.9,1408.9 L251.4,1408.9 L251.5,1399.9 L252.0,1399.9 L252.1,1408.9 L252.6,1408.9 L252.7,1399.9 L253.2,1399.9 L253.3,1391.4 L253.8,1391.4 L253.9,1382.5 L254.4,1382.5 L254.5,1399.9 L256.1,1399.9 L256.2,1391.4 L256.7,1391.4 L256.8,1382.5 L257.3,1382.5 L257.4,1399.9 L257.9,1399.9 L258.0,1391.4 L259.6,1391.4 L259.7,1399.9 L260.2,1399.9 L260.3,1408.9 L260.8,1408.9 L260.9,1391.4 L261.4,1391.4 L261.5,1399.9 L262.0,1399.9 L262.1,1391.4 L262.6,1391.4 L262.7,1399.9 L263.2,1399.9 L263.3,1408.9 L263.8,1408.9 L263.9,1399.9 L264.4,1399.9 L264.5,1408.9 L265.0,1408.9 L265.1,1399.9 L265.6,1399.9 L265.7,1391.4 L266.2,1391.4 L266.3,1399.9 L266.8,1399.9 L266.9,1408.9 L267.4,1408.9 L267.5,1399.9 L268.0,1399.9 L268.1,1391.4 L268.6,1391.4 L268.7,1382.5 L269.2,1382.5 L269.3,1399.9 L269.8,1399.9 L269.9,1391.4 L270.4,1391.4 L270.5,1399.9 L271.0,1399.9 L271.1,1391.4 L271.6,1391.4 L271.7,1399.9 L272.2,1399.9 L272.3,1391.4 L272.8,1391.4 L272.9,1382.5 L273.4,1382.5 L273.5,1391.4 L274.0,1391.4 L274.1,1382.5 L275.7,1382.5 L275.8,1391.4 L276.3,1391.4 L276.4,1399.9 L276.9,1399.9 L277.0,1391.4 L277.5,1391.4 L277.6,1408.9 L278.1,1408.9 L278.2,1399.9 L278.7,1399.9 L278.8,1408.9 L279.3,1408.9 L279.4,1399.9 L279.9,1399.9 L280.0,1391.4 L280.5,1391.4 L280.6,1399.9 L281.1,1399.9 L281.2,1391.4 L281.7,1391.4 L281.8,1399.9 L282.3,1399.9 L282.4,1408.9 L284.0,1408.9 L284.1,1399.9 L284.6,1399.9 L284.7,1399.9 L285.2,1399.9 L285.3,1391.4 L285.8,1391.4 L285.9,1399.9 L286.4,1399.9 L286.5,1391.4 L287.0,1391.4 L287.1,1382.5 L287.6,1382.5 L287.7,1391.4 L288.2,1391.4 L288.3,1408.9 L288.8,1408.9 L288.9,1399.9 L289.4,1399.9 L289.5,1391.4 L290.0,1391.4 L290.1,1382.5 L290.6,1382.5 L290.7,1399.9 L292.3,1399.9 L292.4,1408.9 L292.9,1408.9 L293.0,1399.9 L293.5,1399.9 L293.6,1408.9 L294.1,1408.9 L294.2,1391.4 L294.7,1391.4 L294.8,1382.5 L295.3,1382.5 L295.4,1391.4 L295.9,1391.4 L296.0,1382.5 L296.5,1382.5 L296.6,1391.4 L297.1,1391.4 L297.2,1408.9 L298.8,1408.9 L298.9,1399.9 L299.4,1399.9 L299.5,1391.4 L300.0,1391.4 L300.1,1399.9 L300.6,1399.9 L300.7,1391.4 L301.2,1391.4 L301.3,1399.9 L301.8,1399.9 L301.9,1399.9 L302.4,1399.9 L302.5,1391.4 L303.0,1391.4 L303.1,1382.5 L303.6,1382.5 L303.7,1391.4 L304.2,1391.4 L304.3,1391.4 L304.8,1391.4 L304.9,1399.9 L305.4,1399.9 L305.5,1408.9 L306.0,1408.9 L306.1,1399.9 L306.6,1399.9 L306.7,1408.9 L307.2,1408.9 L307.3,1399.9 L307.8,1399.9 L307.9,1382.5 L308.4,1382.5 L308.5,1399.9 L310.1,1399.9 L310.2,1391.4 L310.7,1391.4 L310.8,1399.9 L311.3,1399.9 L311.4,1382.5 L311.9,1382.5 L312.0,1391.4 L312.5,1391.4 L312.6,1399.9 L313.1,1399.9 L313.2,1391.4 L313.7,1391.4 L313.8,1399.9 L314.3,1399.9 L314.4,1391.4 L314.9,1391.4 L315.0,1382.5 L315.5,1382.5 L315.6,1399.9 L317.2,1399.9 L317.3,1408.9 L317.8,1408.9 L317.9,1399.9 L318.4,1399.9 L318.5,1408.9 L319.0,1408.9 L319.1,1399.9 L319.6,1399.9 L319.7,1408.9 L320.2,1408.9 L320.3,1382.5 L320.8,1382.5 L320.9,1391.4 L321.4,1391.4 L321.5,1382.5 L322.0,1382.5 L322.1,1391.4 L322.6,1391.4 L322.7,1399.9 L323.2,1399.9 L323.3,1408.9 L323.8,1408.9 L323.9,1399.9 L324.4,1399.9 L324.5,1391.4 L325.0,1391.4 L325.1,1391.4 L325.6,1391.4 L325.7,1399.9 L326.2,1399.9 L326.3,1382.5 L326.8,1382.5 L326.9,1391.4 L327.4,1391.4 L327.5,1399.9 L328.0,1399.9 L328.1,1391.4 L328.6,1391.4 L328.7,1399.9 L329.2,1399.9 L329.3,1408.9 L329.8,1408.9 L329.9,1391.4 L330.4,1391.4 L330.5,1382.5 L331.0,1382.5 L331.1,1399.9 L331.6,1399.9 L331.7,1382.5 L332.2,1382.5 L332.3,1391.4 L332.8,1391.4 L332.9,1391.4 L333.4,1391.4 L333.5,1399.9 L334.0,1399.9 L334.1,1391.4 L334.6,1391.4 L334.7,1382.5 L335.2,1382.5 L335.3,1391.4 L335.8,1391.4 L335.9,1382.5 L337.5,1382.5 L337.6,1391.4 L338.1,1391.4 L338.2,1382.5 L338.7,1382.5 L338.8,1399.9 L339.3,1399.9 L339.4,1391.4 L339.9,1391.4 L340.0,1408.9 L341.6,1408.9 L341.7,1391.4 L342.2,1391.4 L342.3,1399.9 L343.9,1399.9 L344.0,1391.4 L344.5,1391.4 L344.6,1399.9 L346.2,1399.9 L346.3,1382.5 L346.8,1382.5 L346.9,1391.4 L347.4,1391.4 L347.5,1399.9 L348.0,1399.9 L348.1,1391.4 L348.6,1391.4 L348.7,1382.5 L349.2,1382.5 L349.3,1391.4 L350.9,1391.4 L351.0,1382.5 L351.5,1382.5 L351.6,1391.4 L352.1,1391.4 L352.2,1399.9 L353.8,1399.9 L353.9,1391.4 L354.4,1391.4 L354.5,1382.5 L355.0,1382.5 L355.1,1399.9 L355.6,1399.9 L355.7,1391.4 L356.2,1391.4 L356.3,1382.5 L356.8,1382.5 L356.9,1391.4 L357.4,1391.4 L357.5,1382.5 L358.0,1382.5 L358.1,1399.9 L358.6,1399.9 L358.7,1391.4 L359.2,1391.4 L359.3,1391.4 L359.8,1391.4 L359.9,1382.5 L360.4,1382.5 L360.5,1391.4 L361.0,1391.4 L361.1,1382.5 L361.6,1382.5 L361.7,1391.4 L362.2,1391.4 L362.3,1382.5 L362.8,1382.5 L362.9,1391.4 L363.4,1391.4 L363.5,1399.9 L364.0,1399.9 L364.1,1408.9 L364.6,1408.9 L364.7,1399.9 L365.2,1399.9 L365.3,1391.4 L365.8,1391.4 L365.9,1382.5 L367.5,1382.5 L367.6,1391.4 L368.1,1391.4 L368.2,1399.9 L368.7,1399.9 L368.8,1399.9 L369.3,1399.9 L369.4,1408.9 L369.9,1408.9 L370.0,1391.4 L371.6,1391.4 L371.7,1382.5 L373.3,1382.5 L373.4,1391.4 L373.9,1391.4 L374.0,1399.9 L374.5,1399.9 L374.6,1391.4 L375.1,1391.4 L375.2,1382.5 L375.7,1382.5 L375.8,1399.9 L377.4,1399.9 L377.5,1408.9 L378.0,1408.9 L378.1,1399.9 L378.6,1399.9 L378.7,1382.5 L379.2,1382.5 L379.3,1391.4 L380.9,1391.4 L381.0,1382.5 L381.5,1382.5 L381.6,1391.4 L383.2,1391.4 L383.3,1399.9 L383.8,1399.9 L383.9,1408.9 L385.5,1408.9 L385.6,1399.9 L386.1,1399.9 L386.2,1382.5 L386.7,1382.5 L386.8,1399.9 L387.3,1399.9 L387.4,1391.4 L387.9,1391.4 L388.0,1382.5 L388.5,1382.5 L388.6,1391.4 L389.1,1391.4 L389.2,1391.4 L389.7,1391.4 L389.8,1399.9 L390.3,1399.9 L390.4,1382.5 L390.9,1382.5 L391.0,1399.9 L391.5,1399.9 L391.6,1408.9 L392.1,1408.9 L392.2,1399.9 L392.7,1399.9 L392.8,1382.5 L393.3,1382.5 L393.4,1391.4 L393.9,1391.4 L394.0,1399.9 L394.5,1399.9 L394.6,1408.9 L395.1,1408.9 L395.2,1399.9 L395.7,1399.9 L395.8,1408.9 L396.3,1408.9 L396.4,1399.9 L398.0,1399.9 L398.1,1391.4 L398.6,1391.4 L398.7,1399.9 L399.2,1399.9 L399.3,1391.4 L399.8,1391.4 L399.9,1399.9 L400.4,1399.9 L400.5,1391.4 L401.0,1391.4 L401.1,1399.9 L401.6,1399.9 L401.7,1399.9 L402.2,1399.9 L402.3,1391.4 L402.8,1391.4 L402.9,1399.9 L403.4,1399.9 L403.5,1391.4 L404.0,1391.4 L404.1,1382.5 L405.7,1382.5 L405.8,1391.4 L406.3,1391.4 L406.4,1399.9 L406.9,1399.9 L407.0,1408.9 L407.5,1408.9 L407.6,1391.4 L408.1,1391.4 L408.2,1382.5 L408.7,1382.5 L408.8,1391.4 L409.3,1391.4 L409.4,1399.9 L409.9,1399.9 L410.0,1391.4 L410.5,1391.4 L410.6,1399.9 L411.1,1399.9 L411.2,1391.4 L412.8,1391.4 L412.9,1399.9 L413.4,1399.9 L413.5,1382.5 L414.0,1382.5 L414.1,1391.4 L414.6,1391.4 L414.7,1399.9 L415.2,1399.9 L415.3,1391.4 L415.8,1391.4 L415.9,1399.9 L416.4,1399.9 L416.5,1408.9 L417.0,1408.9 L417.1,1399.9 L417.6,1399.9 L417.7,1382.5 L418.2,1382.5 L418.3,1408.9 L418.8,1408.9 L418.9,1399.9 L419.4,1399.9 L419.5,1391.4 L420.0,1391.4 L420.1,1382.5 L420.6,1382.5 L420.7,1391.4 L421.2,1391.4 L421.3,1382.5 L421.8,1382.5 L421.9,1391.4 L422.4,1391.4 L422.5,1382.5 L423.0,1382.5 L423.1,1399.9 L423.6,1399.9 L423.7,1391.4 L424.2,1391.4 L424.3,1399.9 L424.8,1399.9 L424.9,1408.9 L425.4,1408.9 L425.5,1391.4 L426.0,1391.4 L426.1,1382.5 L426.6,1382.5 L426.7,1391.4 L427.2,1391.4 L427.3,1382.5 L427.8,1382.5 L427.9,1399.9 L428.4,1399.9 L428.5,1391.4 L430.1,1391.4 L430.2,1382.5 L430.7,1382.5 L430.8,1391.4 L431.3,1391.4 L431.4,1391.4 L431.9,1391.4 L432.0,1399.9 L432.5,1399.9 L432.6,1408.9 L433.1,1408.9 L433.2,1391.4 L433.7,1391.4 L433.8,1382.5 L434.3,1382.5 L434.4,1391.4 L434.9,1391.4 L435.0,1382.5 L435.5,1382.5 L435.6,1391.4 L437.2,1391.4 L437.3,1382.5 L437.8,1382.5 L437.9,1399.9 L438.4,1399.9 L438.5,1382.5 L439.0,1382.5 L439.1,1391.4 L439.6,1391.4 L439.7,1382.5 L441.3,1382.5 L441.4,1391.4 L441.9,1391.4 L442.0,1382.5 L442.5,1382.5 L442.6,1391.4 L443.1,1391.4 L443.2,1382.5 L443.7,1382.5 L443.8,1391.4 L444.3,1391.4 L444.4,1382.5 L446.0,1382.5 L446.1,1399.9 L447.7,1399.9 L447.8,1391.4 L448.3,1391.4 L448.4,1399.9 L448.9,1399.9 L449.0,1408.9 L450.6,1408.9 L450.7,1399.9 L451.2,1399.9 L451.3,1408.9 L451.8,1408.9 L451.9,1399.9 L452.4,1399.9 L452.5,1391.4 L453.0,1391.4 L453.1,1391.4 L453.6,1391.4 L453.7,1391.4 L454.2,1391.4 L454.3,1382.5 L454.8,1382.5 L454.9,1391.4 L455.4,1391.4 L455.5,1382.5 L456.0,1382.5 L456.1,1408.9 L456.6,1408.9 L456.7,1399.9 L457.2,1399.9 L457.3,1391.4 L457.8,1391.4 L457.9,1408.9 L458.4,1408.9 L458.5,1391.4 L459.0,1391.4 L459.1,1382.5 L459.6,1382.5 L459.7,1399.9 L461.3,1399.9 L461.4,1408.9 L461.9,1408.9 L462.0,1399.9 L462.5,1399.9 L462.6,1408.9 L463.1,1408.9 L463.2,1391.4 L463.7,1391.4 L463.8,1382.5 L464.3,1382.5 L464.4,1391.4 L464.9,1391.4 L465.0,1399.9 L465.5,1399.9 L465.6,1408.9 L466.1,1408.9 L466.2,1382.5 L466.7,1382.5 L466.8,1399.9 L467.3,1399.9 L467.4,1391.4 L467.9,1391.4 L468.0,1399.9 L469.6,1399.9 L469.7,1408.9 L470.2,1408.9 L470.3,1399.9 L470.8,1399.9 L470.9,1408.9 L471.4,1408.9 L471.5,1399.9 L472.0,1399.9 L472.1,1408.9 L472.6,1408.9 L472.7,1399.9 L473.2,1399.9 L473.3,1391.4 L473.8,1391.4 L473.9,1391.4 L474.4,1391.4 L474.5,1399.9 L475.0,1399.9 L475.1,1391.4 L476.7,1391.4 L476.8,1382.5 L477.3,1382.5 L477.4,1408.9 L477.9,1408.9 L478.0,1399.9 L479.6,1399.9 L479.7,1382.5 L480.2,1382.5 L480.3,1399.9 L480.8,1399.9 L480.9,1408.9 L481.4,1408.9 L481.5,1399.9 L482.0,1399.9 L482.1,1391.4 L482.6,1391.4 L482.7,1382.5 L483.2,1382.5 L483.3,1391.4 L483.8,1391.4 L483.9,1399.9 L484.4,1399.9 L484.5,1408.9 L485.0,1408.9 L485.1,1399.9 L485.6,1399.9 L485.7,1408.9 L486.2,1408.9 L486.3,1399.9 L486.8,1399.9 L486.9,1391.4 L487.4,1391.4 L487.5,1399.9 L488.0,1399.9 L488.1,1408.9 L488.6,1408.9 L488.7,1391.4 L489.2,1391.4 L489.3,1382.5 L489.8,1382.5 L489.9,1391.4 L490.4,1391.4 L490.5,1408.9 L491.0,1408.9 L491.1,1399.9 L491.6,1399.9 L491.7,1399.9 L492.2,1399.9 L492.3,1391.4 L493.9,1391.4 L494.0,1399.9 L495.6,1399.9 L495.7,1399.9 L496.2,1399.9 L496.3,1391.4 L496.8,1391.4 L496.9,1399.9 L497.4,1399.9 L497.5,1391.4 L499.1,1391.4 L499.2,1391.4 L499.7,1391.4 L499.8,1382.5 L500.3,1382.5 L500.4,1391.4 L500.9,1391.4 L501.0,1399.9 L501.5,1399.9 L501.6,1391.4 L503.2,1391.4 L503.3,1399.9 L503.8,1399.9 L503.9,1391.4 L504.4,1391.4 L504.5,1399.9 L506.1,1399.9 L506.2,1408.9 L506.7,1408.9 L506.8,1399.9 L507.3,1399.9 L507.4,1391.4 L509.0,1391.4 L509.1,1382.5 L509.6,1382.5 L509.7,1399.9 L511.3,1399.9 L511.4,1391.4 L511.9,1391.4 L512.0,1391.4 L512.5,1391.4 L512.6,1382.5 L513.1,1382.5 L513.2,1399.9 L513.7,1399.9 L513.8,1391.4 L514.3,1391.4 L514.4,1399.9 L514.9,1399.9 L515.0,1391.4 L515.5,1391.4 L515.6,1399.9 L516.1,1399.9 L516.2,1391.4 L516.7,1391.4 L516.8,1382.5 L517.3,1382.5 L517.4,1391.4 L517.9,1391.4 L518.0,1382.5 L518.5,1382.5 L518.6,1399.9 L519.1,1399.9 L519.2,1391.4 L520.8,1391.4 L520.9,1399.9 L521.4,1399.9 L521.5,1391.4 L522.0,1391.4 L522.1,1382.5 L523.7,1382.5 L523.8,1399.9 L524.3,1399.9 L524.4,1382.5 L524.9,1382.5 L525.0,1391.4 L525.5,1391.4 L525.6,1382.5 L526.1,1382.5 L526.2,1399.9 L526.7,1399.9 L526.8,1391.4 L527.3,1391.4 L527.4,1382.5 L527.9,1382.5 L528.0,1391.4 L528.5,1391.4 L528.6,1399.9 L529.1,1399.9 L529.2,1408.9 L529.7,1408.9 L529.8,1399.9 L530.3,1399.9 L530.4,1382.5 L530.9,1382.5 L531.0,1391.4 L531.5,1391.4 L531.6,1408.9 L532.1,1408.9 L532.2,1382.5 L532.7,1382.5 L532.8,1408.9 L533.3,1408.9 L533.4,1399.9 L533.9,1399.9 L534.0,1408.9 L534.5,1408.9 L534.6,1391.4 L535.1,1391.4 L535.2,1399.9 L535.7,1399.9 L535.8,1399.9 L536.3,1399.9 L536.4,1408.9 L538.0,1408.9 L538.1,1399.9 L538.6,1399.9 L538.7,1408.9 L539.2,1408.9 L539.3,1399.9 L539.8,1399.9 L539.9,1408.9 L540.4,1408.9 L540.5,1399.9 L541.0,1399.9 L541.1,1391.4 L542.7,1391.4 L542.8,1382.5 L543.3,1382.5 L543.4,1391.4 L543.9,1391.4 L544.0,1391.4 L545.6,1391.4 L545.7,1399.9 L546.2,1399.9 L546.3,1391.4 L546.8,1391.4 L546.9,1399.9 L547.4,1399.9 L547.5,1408.9 L548.0,1408.9 L548.1,1391.4 L548.6,1391.4 L548.7,1382.5 L549.2,1382.5 L549.3,1399.9 L549.8,1399.9 L549.9,1408.9 L550.4,1408.9 L550.5,1391.4 L551.0,1391.4 L551.1,1399.9 L551.6,1399.9 L551.7,1408.9 L552.2,1408.9 L552.3,1391.4 L552.8,1391.4 L552.9,1399.9 L553.4,1399.9 L553.5,1391.4 L554.0,1391.4 L554.1,1382.5 L554.6,1382.5 L554.7,1391.4 L556.3,1391.4 L556.4,1382.5 L558.0,1382.5 L558.1,1391.4 L558.6,1391.4 L558.7,1399.9 L559.2,1399.9 L559.3,1391.4 L559.8,1391.4 L559.9,1399.9 L560.4,1399.9 L560.5,1391.4 L561.0,1391.4 L561.1,1382.5 L561.6,1382.5 L561.7,1399.9 L562.2,1399.9 L562.3,1391.4 L562.8,1391.4 L562.9,1399.9 L563.4,1399.9 L563.5,1408.9 L564.0,1408.9 L564.1,1391.4 L565.7,1391.4 L565.8,1399.9 L566.3,1399.9 L566.4,1391.4 L568.0,1391.4 L568.1,1382.5 L568.6,1382.5 L568.7,1391.4 L569.2,1391.4 L569.3,1391.4 L569.8,1391.4 L569.9,1391.4 L570.4,1391.4 L570.5,1391.4 L571.0,1391.4 L571.1,1382.5 L571.6,1382.5 L571.7,1399.9 L573.3,1399.9 L573.4,1391.4 L575.0,1391.4 L575.1,1382.5 L575.6,1382.5 L575.7,1391.4 L576.2,1391.4 L576.3,1399.9 L576.8,1399.9 L576.9,1408.9 L577.4,1408.9 L577.5,1391.4 L578.0,1391.4 L578.1,1391.4 L578.6,1391.4 L578.7,1382.5 L579.2,1382.5 L579.3,1391.4 L579.8,1391.4 L579.9,1382.5 L580.4,1382.5 L580.5,1391.4 L581.0,1391.4 L581.1,1399.9 L581.6,1399.9 L581.7,1391.4 L582.2,1391.4 L582.3,1399.9 L582.8,1399.9 L582.9,1391.4 L583.4,1391.4 L583.5,1399.9 L584.0,1399.9 L584.1,1382.5 L584.6,1382.5 L584.7,1391.4 L585.2,1391.4 L585.3,1399.9 L585.8,1399.9 L585.9,1391.4 L586.4,1391.4 L586.5,1399.9 L587.0,1399.9 L587.1,1391.4 L587.6,1391.4 L587.7,1382.5 L588.2,1382.5 L588.3,1391.4 L588.8,1391.4 L588.9,1399.9 L589.4,1399.9 L589.5,1391.4 L590.0,1391.4 L590.1,1382.5 L590.6,1382.5 L590.7,1399.9 L591.2,1399.9 L591.3,1391.4 L591.8,1391.4 L591.9,1399.9 L592.4,1399.9 L592.5,1408.9 L593.0,1408.9 L593.1,1391.4 L593.6,1391.4 L593.7,1399.9 L594.2,1399.9 L594.3,1391.4 L594.8,1391.4 L594.9,1382.5 L595.4,1382.5 L595.5,1391.4 L596.0,1391.4 L596.1,1382.5 L597.7,1382.5 L597.8,1391.4 L598.3,1391.4 L598.4,1399.9 L598.9,1399.9 L599.0,1391.4 L599.5,1391.4 L599.6,1382.5 L600.1,1382.5 L600.2,1399.9 L600.7,1399.9 L600.8,1408.9 L601.3,1408.9 L601.4,1399.9 L601.9,1399.9 L602.0,1391.4 L602.5,1391.4 L602.6,1382.5 L603.1,1382.5 L603.2,1391.4 L603.7,1391.4 L603.8,1382.5 L605.4,1382.5 L605.5,1391.4 L606.0,1391.4 L606.1,1399.9 L606.6,1399.9 L606.7,1408.9 L607.2,1408.9 L607.3,1399.9 L607.8,1399.9 L607.9,1391.4 L608.4,1391.4 L608.5,1399.9 L609.0,1399.9 L609.1,1408.9 L609.6,1408.9 L609.7,1399.9 L610.2,1399.9 L610.3,1391.4 L610.8,1391.4 L610.9,1382.5 L611.4,1382.5 L611.5,1399.9 L612.0,1399.9 L612.1,1408.9 L613.7,1408.9 L613.8,1391.4 L614.3,1391.4 L614.4,1399.9 L614.9,1399.9 L615.0,1408.9 L615.5,1408.9 L615.6,1391.4 L616.1,1391.4 L616.2,1382.5 L616.7,1382.5 L616.8,1408.9 L617.3,1408.9 L617.4,1391.4 L617.9,1391.4 L618.0,1408.9 L618.5,1408.9 L618.6,1399.9 L619.1,1399.9 L619.2,1408.9 L619.7,1408.9 L619.8,1391.4 L620.3,1391.4 L620.4,1382.5 L620.9,1382.5 L621.0,1391.4 L621.5,1391.4 L621.6,1382.5 L622.1,1382.5 L622.2,1391.4 L622.7,1391.4 L622.8,1382.5 L623.3,1382.5 L623.4,1391.4 L625.0,1391.4 L625.1,1382.5 L625.6,1382.5 L625.7,1391.4 L626.2,1391.4 L626.3,1382.5 L626.8,1382.5 L626.9,1391.4 L627.4,1391.4 L627.5,1399.9 L628.0,1399.9 L628.1,1391.4 L628.6,1391.4 L628.7,1382.5 L629.2,1382.5 L629.3,1391.4 L629.8,1391.4 L629.9,1399.9 L630.4,1399.9 L630.5,1382.5 L631.0,1382.5 L631.1,1391.4 L631.6,1391.4 L631.7,1382.5 L632.2,1382.5 L632.3,1391.4 L632.8,1391.4 L632.9,1382.5 L633.4,1382.5 L633.5,1399.9 L634.0,1399.9 L634.1,1408.9 L634.6,1408.9 L634.7,1399.9 L635.2,1399.9 L635.3,1391.4 L635.8,1391.4 L635.9,1399.9 L636.4,1399.9 L636.5,1391.4 L637.0,1391.4 L637.1,1399.9 L637.6,1399.9 L637.7,1382.5 L638.2,1382.5 L638.3,1391.4 L638.8,1391.4 L638.9,1382.5 L639.4,1382.5 L639.5,1391.4 L640.0,1391.4 L640.1,1399.9 L640.6,1399.9 L640.7,1391.4 L641.2,1391.4 L641.3,1399.9 L641.8,1399.9 L641.9,1399.9 L643.5,1399.9 L643.6,1391.4 L644.1,1391.4 L644.2,1408.9 L644.7,1408.9 L644.8,1399.9 L645.3,1399.9 L645.4,1382.5 L645.9,1382.5 L646.0,1391.4 L646.5,1391.4 L646.6,1408.9 L647.1,1408.9 L647.2,1399.9 L647.7,1399.9 L647.8,1408.9 L648.3,1408.9 L648.4,1399.9 L648.9,1399.9 L649.0,1382.5 L649.5,1382.5 L649.6,1391.4 L651.2,1391.4 L651.3,1399.9 L651.8,1399.9 L651.9,1391.4 L652.4,1391.4 L652.5,1382.5 L653.0,1382.5 L653.1,1391.4 L653.6,1391.4 L653.7,1399.9 L655.3,1399.9 L655.4,1391.4 L655.9,1391.4 L656.0,1382.5 L656.5,1382.5 L656.6,1391.4 L658.2,1391.4 L658.3,1382.5 L659.9,1382.5 L660.0,1391.4 L660.5,1391.4 L660.6,1382.5 L661.1,1382.5 L661.2,1391.4 L661.7,1391.4 L661.8,1408.9 L662.3,1408.9 L662.4,1391.4 L662.9,1391.4 L663.0,1382.5 L663.5,1382.5 L663.6,1391.4 L664.1,1391.4 L664.2,1382.5 L664.7,1382.5 L664.8,1391.4 L665.3,1391.4 L665.4,1382.5 L665.9,1382.5 L666.0,1399.9 L666.5,1399.9 L666.6,1408.9 L667.1,1408.9 L667.2,1399.9 L667.7,1399.9 L667.8,1391.4 L668.3,1391.4 L668.4,1382.5 L668.9,1382.5 L669.0,1391.4 L669.5,1391.4 L669.6,1399.9 L670.1,1399.9 L670.2,1391.4 L670.7,1391.4 L670.8,1382.5 L671.3,1382.5 L671.4,1391.4 L671.9,1391.4 L672.0,1399.9 L672.5,1399.9 L672.6,1382.5 L673.1,1382.5 L673.2,1391.4 L673.7,1391.4 L673.8,1399.9 L674.3,1399.9 L674.4,1399.9 L676.0,1399.9 L676.1,1391.4 L676.6,1391.4 L676.7,1382.5 L677.2,1382.5 L677.3,1399.9 L677.8,1399.9 L677.9,1408.9 L678.4,1408.9 L678.5,1391.4 L679.0,1391.4 L679.1,1399.9 L679.6,1399.9 L679.7,1391.4 L680.2,1391.4 L680.3,1408.9 L681.9,1408.9 L682.0,1399.9 L683.6,1399.9 L683.7,1408.9 L684.2,1408.9 L684.3,1399.9 L684.8,1399.9 L684.9,1391.4 L685.4,1391.4 L685.5,1399.9 L686.0,1399.9 L686.1,1391.4 L686.6,1391.4 L686.7,1408.9 L687.2,1408.9 L687.3,1399.9 L687.8,1399.9 L687.9,1391.4 L688.4,1391.4 L688.5,1399.9 L690.1,1399.9 L690.2,1391.4 L690.7,1391.4 L690.8,1399.9 L692.4,1399.9 L692.5,1391.4 L693.0,1391.4 L693.1,1408.9 L693.6,1408.9 L693.7,1399.9 L694.2,1399.9 L694.3,1408.9 L694.8,1408.9 L694.9,1399.9 L695.4,1399.9 L695.5,1399.9 L696.0,1399.9 L696.1,1408.9 L696.6,1408.9 L696.7,1399.9 L697.2,1399.9 L697.3,1391.4 L697.8,1391.4 L697.9,1382.5 L698.4,1382.5 L698.5,1391.4 L699.0,1391.4 L699.1,1399.9 L699.6,1399.9 L699.7,1391.4 L700.2,1391.4 L700.3,1399.9 L700.8,1399.9 L700.9,1391.4 L701.4,1391.4 L701.5,1391.4 L703.1,1391.4 L703.2,1382.5 L703.7,1382.5 L703.8,1391.4 L704.3,1391.4 L704.4,1391.4 L706.0,1391.4 L706.1,1399.9 L706.6,1399.9 L706.7,1408.9 L707.2,1408.9 L707.3,1399.9 L708.9,1399.9 L709.0,1391.4 L709.5,1391.4 L709.6,1382.5 L710.1,1382.5 L710.2,1391.4 L710.7,1391.4 L710.8,1382.5 L712.4,1382.5 L712.5,1399.9 L713.0,1399.9 L713.1,1408.9 L713.6,1408.9 L713.7,1399.9 L714.2,1399.9 L714.3,1391.4 L714.8,1391.4 L714.9,1399.9 L716.5,1399.9 L716.6,1391.4 L717.1,1391.4 L717.2,1382.5 L717.7,1382.5 L717.8,1399.9 L718.3,1399.9 L718.4,1408.9 L718.9,1408.9 L719.0,1391.4 L719.5,1391.4 L719.6,1399.9 L721.2,1399.9 L721.3,1391.4 L721.8,1391.4 L721.9,1391.4 L722.4,1391.4 L722.5,1399.9 L723.0,1399.9 L723.1,1399.9 L723.6,1399.9 L723.7,1391.4 L724.2,1391.4 L724.3,1382.5 L724.8,1382.5 L724.9,1391.4 L725.4,1391.4 L725.5,1382.5 L726.0,1382.5 L726.1,1391.4 L726.6,1391.4 L726.7,1399.9 L727.2,1399.9 L727.3,1408.9 L727.8,1408.9 L727.9,1382.5 L728.4,1382.5 L728.5,1391.4 L729.0,1391.4 L729.1,1399.9 L729.6,1399.9 L729.7,1408.9 L730.2,1408.9 L730.3,1399.9 L730.8,1399.9 L730.9,1408.9 L731.4,1408.9 L731.5,1399.9 L732.0,1399.9 L732.1,1382.5 L732.6,1382.5 L732.7,1399.9 L733.2,1399.9 L733.3,1391.4 L734.9,1391.4 L735.0,1382.5 L735.5,1382.5 L735.6,1399.9 L736.1,1399.9 L736.2,1391.4 L737.8,1391.4 L737.9,1399.9 L738.4,1399.9 L738.5,1408.9 L739.0,1408.9 L739.1,1399.9 L739.6,1399.9 L739.7,1399.9 L740.2,1399.9 L740.3,1391.4 L740.8,1391.4 L740.9,1399.9 L741.4,1399.9 L741.5,1391.4 L742.0,1391.4 L742.1,1408.9 L742.6,1408.9 L742.7,1399.9 L743.2,1399.9 L743.3,1391.4 L743.8,1391.4 L743.9,1382.5 L744.4,1382.5 L744.5,1399.9 L746.1,1399.9 L746.2,1391.4 L746.7,1391.4 L746.8,1382.5 L748.4,1382.5 L748.5,1391.4 L749.0,1391.4 L749.1,1382.5 L749.6,1382.5 L749.7,1391.4 L750.2,1391.4 L750.3,1399.9 L751.9,1399.9 L752.0,1408.9 L752.5,1408.9 L752.6,1399.9 L753.1,1399.9 L753.2,1382.5 L753.7,1382.5 L753.8,1391.4 L754.3,1391.4 L754.4,1399.9 L754.9,1399.9 L755.0,1408.9 L755.5,1408.9 L755.6,1399.9 L756.1,1399.9 L756.2,1391.4 L756.7,1391.4 L756.8,1399.9 L757.3,1399.9 L757.4,1408.9 L757.9,1408.9 L758.0,1399.9 L758.5,1399.9 L758.6,1408.9 L760.2,1408.9 L760.3,1399.9 L760.8,1399.9 L760.9,1391.4 L761.4,1391.4 L761.5,1399.9 L762.0,1399.9 L762.1,1391.4 L762.6,1391.4 L762.7,1382.5 L763.2,1382.5 L763.3,1399.9 L763.8,1399.9 L763.9,1408.9 L764.4,1408.9 L764.5,1391.4 L766.1,1391.4 L766.2,1399.9 L766.7,1399.9 L766.8,1391.4 L767.3,1391.4 L767.4,1399.9 L767.9,1399.9 L768.0,1391.4 L768.5,1391.4 L768.6,1399.9 L769.1,1399.9 L769.2,1399.9 L769.7,1399.9 L769.8,1408.9 L770.3,1408.9 L770.4,1399.9 L770.9,1399.9 L771.0,1408.9 L771.5,1408.9 L771.6,1399.9 L772.1,1399.9 L772.2,1408.9 L772.7,1408.9 L772.8,1382.5 L773.3,1382.5 L773.4,1391.4 L773.9,1391.4 L774.0,1399.9 L774.5,1399.9 L774.6,1391.4 L775.1,1391.4 L775.2,1399.9 L775.7,1399.9 L775.8,1391.4 L776.3,1391.4 L776.4,1382.5 L776.9,1382.5 L777.0,1399.9 L777.5,1399.9 L777.6,1408.9 L778.1,1408.9 L778.2,1399.9 L778.7,1399.9 L778.8,1391.4 L779.3,1391.4 L779.4,1382.5 L779.9,1382.5 L780.0,1391.4 L781.6,1391.4 L781.7,1399.9 L782.2,1399.9 L782.3,1391.4 L782.8,1391.4 L782.9,1382.5 L783.4,1382.5 L783.5,1391.4 L784.0,1391.4 L784.1,1391.4 L784.6,1391.4 L784.7,1399.9 L785.2,1399.9 L785.3,1391.4 L785.8,1391.4 L785.9,1382.5 L786.4,1382.5 L786.5,1391.4 L787.0,1391.4 L787.1,1399.9 L787.6,1399.9 L787.7,1391.4 L788.2,1391.4 L788.3,1382.5 L788.8,1382.5 L788.9,1399.9 L789.4,1399.9 L789.5,1382.5 L790.0,1382.5 L790.1,1399.9 L790.6,1399.9 L790.7,1382.5 L791.2,1382.5 L791.3,1391.4 L791.8,1391.4 L791.9,1399.9 L793.5,1399.9 L793.6,1382.5 L794.1,1382.5 L794.2,1391.4 L794.7,1391.4 L794.8,1399.9 L795.3,1399.9 L795.4,1408.9 L795.9,1408.9 L796.0,1391.4 L796.5,1391.4 L796.6,1391.4 L797.1,1391.4 L797.2,1399.9 L797.7,1399.9 L797.8,1408.9 L798.3,1408.9 L798.4,1399.9 L798.9,1399.9 L799.0,1391.4 L799.5,1391.4 L799.6,1399.9 L801.2,1399.9 L801.3,1391.4 L801.8,1391.4 L801.9,1399.9 L802.4,1399.9 L802.5,1408.9 L803.0,1408.9 L803.1,1399.9 L804.7,1399.9 L804.8,1399.9 L805.3,1399.9 L805.4,1382.5 L805.9,1382.5 L806.0,1391.4 L806.5,1391.4 L806.6,1382.5 L807.1,1382.5 L807.2,1399.9 L807.7,1399.9 L807.8,1391.4 L808.3,1391.4 L808.4,1408.9 L808.9,1408.9 L809.0,1399.9 L809.5,1399.9 L809.6,1408.9 L810.1,1408.9 L810.2,1391.4 L810.7,1391.4 L810.8,1399.9 L811.3,1399.9 L811.4,1408.9 L813.0,1408.9 L813.1,1399.9 L814.7,1399.9 L814.8,1391.4 L816.4,1391.4 L816.5,1382.5 L817.0,1382.5 L817.1,1399.9 L817.6,1399.9 L817.7,1391.4 L818.2,1391.4 L818.3,1408.9 L818.8,1408.9 L818.9,1399.9 L819.4,1399.9 L819.5,1399.9 L821.1,1399.9 L821.2,1408.9 L821.7,1408.9 L821.8,1399.9 L822.3,1399.9 L822.4,1408.9 L822.9,1408.9 L823.0,1399.9 L823.5,1399.9 L823.6,1391.4 L824.1,1391.4 L824.2,1399.9 L824.7,1399.9 L824.8,1391.4 L825.3,1391.4 L825.4,1382.5 L825.9,1382.5 L826.0,1399.9 L826.5,1399.9 L826.6,1408.9 L827.1,1408.9 L827.2,1399.9 L827.7,1399.9 L827.8,1391.4 L828.3,1391.4 L828.4,1399.9 L828.9,1399.9 L829.0,1391.4 L829.5,1391.4 L829.6,1399.9 L830.1,1399.9 L830.2,1391.4 L831.8,1391.4 L831.9,1391.4 L832.4,1391.4 L832.5,1399.9 L833.0,1399.9 L833.1,1391.4 L834.7,1391.4 L834.8,1399.9 L835.3,1399.9 L835.4,1391.4 L837.0,1391.4 L837.1,1399.9 L837.6,1399.9 L837.7,1391.4 L838.2,1391.4 L838.3,1382.5 L838.8,1382.5 L838.9,1391.4 L839.4,1391.4 L839.5,1399.9 L840.0,1399.9 L840.1,1399.9 L840.6,1399.9 L840.7,1391.4 L841.2,1391.4 L841.3,1391.4 L841.8,1391.4 L841.9,1382.5 L842.4,1382.5 L842.5,1399.9 L843.0,1399.9 L843.1,1408.9 L843.6,1408.9 L843.7,1391.4 L845.3,1391.4 L845.4,1382.5 L845.9,1382.5 L846.0,1391.4 L846.5,1391.4 L846.6,1382.5 L847.1,1382.5 L847.2,1391.4 L848.8,1391.4 L848.9,1399.9 L849.4,1399.9 L849.5,1391.4 L850.0,1391.4 L850.1,1399.9 L851.7,1399.9 L851.8,1408.9 L852.3,1408.9 L852.4,1391.4 L852.9,1391.4 L853.0,1382.5 L853.5,1382.5 L853.6,1399.9 L854.1,1399.9 L854.2,1391.4 L854.7,1391.4 L854.8,1399.9 L855.3,1399.9 L855.4,1391.4 L855.9,1391.4 L856.0,1391.4 L856.5,1391.4 L856.6,1382.5 L857.1,1382.5 L857.2,1391.4 L857.7,1391.4 L857.8,1399.9 L858.3,1399.9 L858.4,1399.9 L858.9,1399.9 L859.0,1391.4 L859.5,1391.4 L859.6,1399.9 L860.1,1399.9 L860.2,1391.4 L860.7,1391.4 L860.8,1399.9 L861.3,1399.9 L861.4,1391.4 L861.9,1391.4 L862.0,1382.5 L862.5,1382.5 L862.6,1391.4 L863.1,1391.4 L863.2,1382.5 L863.7,1382.5 L863.8,1391.4 L864.3,1391.4 L864.4,1399.9 L864.9,1399.9 L865.0,1408.9 L866.6,1408.9 L866.7,1399.9 L867.2,1399.9 L867.3,1391.4 L867.8,1391.4 L867.9,1382.5 L868.4,1382.5 L868.5,1391.4 L869.0,1391.4 L869.1,1408.9 L870.7,1408.9 L870.8,1391.4 L871.3,1391.4 L871.4,1399.9 L871.9,1399.9 L872.0,1391.4 L872.5,1391.4 L872.6,1399.9 L873.1,1399.9 L873.2,1391.4 L873.7,1391.4 L873.8,1382.5 L874.3,1382.5 L874.4,1391.4 L876.0,1391.4 L876.1,1382.5 L876.6,1382.5 L876.7,1399.9 L877.2,1399.9 L877.3,1408.9 L877.8,1408.9 L877.9,1382.5 L878.4,1382.5 L878.5,1399.9 L879.0,1399.9 L879.1,1391.4 L879.6,1391.4 L879.7,1382.5 L880.2,1382.5 L880.3,1391.4 L880.8,1391.4 L880.9,1382.5 L881.4,1382.5 L881.5,1391.4 L882.0,1391.4 L882.1,1382.5 L882.6,1382.5 L882.7,1408.9 L883.2,1408.9 L883.3,1399.9 L883.8,1399.9 L883.9,1408.9 L884.4,1408.9 L884.5,1391.4 L885.0,1391.4 L885.1,1382.5 L886.7,1382.5 L886.8,1391.4 L887.3,1391.4 L887.4,1399.9 L887.9,1399.9 L888.0,1391.4 L888.5,1391.4 L888.6,1399.9 L889.1,1399.9 L889.2,1391.4 L889.7,1391.4 L889.8,1382.5 L890.3,1382.5 L890.4,1399.9 L890.9,1399.9 L891.0,1391.4 L891.5,1391.4 L891.6,1382.5 L892.1,1382.5 L892.2,1391.4 L892.7,1391.4 L892.8,1391.4 L893.3,1391.4 L893.4,1382.5 L893.9,1382.5 L894.0,1391.4 L894.5,1391.4 L894.6,1382.5 L895.1,1382.5 L895.2,1391.4 L895.7,1391.4 L895.8,1382.5 L896.3,1382.5 L896.4,1399.9 L896.9,1399.9 L897.0,1391.4 L897.5,1391.4 L897.6,1382.5 L898.1,1382.5 L898.2,1391.4 L899.8,1391.4 L899.9,1382.5 L900.4,1382.5 L900.5,1391.4 L901.0,1391.4 L901.1,1399.9 L901.6,1399.9 L901.7,1408.9 L903.3,1408.9 L903.4,1399.9 L903.9,1399.9 L904.0,1408.9 L904.5,1408.9 L904.6,1399.9 L905.1,1399.9 L905.2,1391.4 L905.7,1391.4 L905.8,1399.9 L906.3,1399.9 L906.4,1391.4 L906.9,1391.4 L907.0,1382.5 L907.5,1382.5 L907.6,1391.4 L908.1,1391.4 L908.2,1399.9 L908.7,1399.9 L908.8,1408.9 L909.3,1408.9 L909.4,1399.9 L909.9,1399.9 L910.0,1391.4 L910.5,1391.4 L910.6,1382.5 L911.1,1382.5 L911.2,1391.4 L911.7,1391.4 L911.8,1399.9 L912.3,1399.9 L912.4,1382.5 L912.9,1382.5 L913.0,1391.4 L913.5,1391.4 L913.6,1382.5 L914.1,1382.5 L914.2,1391.4 L914.7,1391.4 L914.8,1399.9 L915.3,1399.9 L915.4,1391.4 L917.0,1391.4 L917.1,1391.4 L917.6,1391.4 L917.7,1382.5 L919.3,1382.5 L919.4,1391.4 L919.9,1391.4 L920.0,1382.5 L920.5,1382.5 L920.6,1391.4 L921.1,1391.4 L921.2,1382.5 L921.7,1382.5 L921.8,1391.4 L922.3,1391.4 L922.4,1382.5 L922.9,1382.5 L923.0,1399.9 L923.5,1399.9 L923.6,1391.4 L924.1,1391.4 L924.2,1399.9 L924.7,1399.9 L924.8,1382.5 L925.3,1382.5 L925.4,1391.4 L925.9,1391.4 L926.0,1399.9 L926.5,1399.9 L926.6,1391.4 L927.1,1391.4 L927.2,1399.9 L927.7,1399.9 L927.8,1391.4 L928.3,1391.4 L928.4,1382.5 L928.9,1382.5 L929.0,1391.4 L929.5,1391.4 L929.6,1408.9 L931.2,1408.9 L931.3,1391.4 L931.8,1391.4 L931.9,1399.9 L932.4,1399.9 L932.5,1391.4 L933.0,1391.4 L933.1,1399.9 L933.6,1399.9 L933.7,1391.4 L934.2,1391.4 L934.3,1382.5 L935.9,1382.5 L936.0,1399.9 L937.6,1399.9 L937.7,1399.9 L938.2,1399.9 L938.3,1391.4 L938.8,1391.4 L938.9,1382.5 L939.4,1382.5 L939.5,1399.9 L941.1,1399.9 L941.2,1382.5 L941.7,1382.5 L941.8,1391.4 L942.3,1391.4 L942.4,1399.9 L942.9,1399.9 L943.0,1399.9 L943.5,1399.9 L943.6,1391.4 L944.1,1391.4 L944.2,1408.9 L944.7,1408.9 L944.8,1399.9 L945.3,1399.9 L945.4,1391.4 L945.9,1391.4 L946.0,1382.5 L946.5,1382.5 L946.6,1399.9 L947.1,1399.9 L947.2,1391.4 L947.7,1391.4 L947.8,1382.5 L948.3,1382.5 L948.4,1391.4 L948.9,1391.4 L949.0,1382.5 L950.6,1382.5 L950.7,1399.9 L951.2,1399.9 L951.3,1399.9 L951.8,1399.9 L951.9,1399.9 L952.4,1399.9 L952.5,1391.4 L953.0,1391.4 L953.1,1382.5 L953.6,1382.5 L953.7,1399.9 L954.2,1399.9 L954.3,1391.4 L954.8,1391.4 L954.9,1382.5 L955.4,1382.5 L955.5,1399.9 L956.0,1399.9 L956.1,1391.4 L956.6,1391.4 L956.7,1399.9 L957.2,1399.9 L957.3,1391.4 L957.8,1391.4 L957.9,1382.5 L959.5,1382.5 L959.6,1408.9 L960.1,1408.9 L960.2,1399.9 L960.7,1399.9 L960.8,1382.5 L961.3,1382.5 L961.4,1391.4 L961.9,1391.4 L962.0,1382.5 L962.5,1382.5 L962.6,1399.9 L963.1,1399.9 L963.2,1408.9 L964.8,1408.9 L964.9,1391.4 L965.4,1391.4 L965.5,1382.5 L966.0,1382.5 L966.1,1391.4 L966.6,1391.4 L966.7,1382.5 L967.2,1382.5 L967.3,1391.4 L967.8,1391.4 L967.9,1391.4 L968.4,1391.4 L968.5,1391.4 L969.0,1391.4 L969.1,1391.4 L969.6,1391.4 L969.7,1399.9 L970.2,1399.9 L970.3,1399.9 L970.8,1399.9 L970.9,1391.4 L971.4,1391.4 L971.5,1382.5 L972.0,1382.5 L972.1,1399.9 L972.6,1399.9 L972.7,1391.4 L973.2,1391.4 L973.3,1391.4 L974.9,1391.4 L975.0,1382.5 L975.5,1382.5 L975.6,1391.4 L976.1,1391.4 L976.2,1382.5 L976.7,1382.5 L976.8,1391.4 L977.3,1391.4 L977.4,1399.9 L979.0,1399.9 L979.1,1408.9 L979.6,1408.9 L979.7,1399.9 L981.3,1399.9 L981.4,1391.4 L981.9,1391.4 L982.0,1391.4 L982.5,1391.4 L982.6,1399.9 L983.1,1399.9 L983.2,1391.4 L983.7,1391.4 L983.8,1399.9 L984.3,1399.9 L984.4,1408.9 L984.9,1408.9 L985.0,1399.9 L985.5,1399.9 L985.6,1391.4 L986.1,1391.4 L986.2,1399.9 L986.7,1399.9 L986.8,1408.9 L987.3,1408.9 L987.4,1399.9 L987.9,1399.9 L988.0,1391.4 L988.5,1391.4 L988.6,1382.5 L989.1,1382.5 L989.2,1391.4 L990.8,1391.4 L990.9,1399.9 L991.4,1399.9 L991.5,1408.9 L992.0,1408.9 L992.1,1399.9 L992.6,1399.9 L992.7,1391.4 L993.2,1391.4 L993.3,1382.5 L994.9,1382.5 L995.0,1391.4 L995.5,1391.4 L995.6,1382.5 L996.1,1382.5 L996.2,1391.4 L996.7,1391.4 L996.8,1391.4 L997.3,1391.4 L997.4,1382.5 L997.9,1382.5 L998.0,1399.9 L998.5,1399.9 L998.6,1408.9 L999.1,1408.9 L999.2,1391.4 L999.7,1391.4 L999.8,1382.5 L1000.3,1382.5 L1000.4,1391.4 L1000.9,1391.4 L1001.0,1382.5 L1001.5,1382.5 L1001.6,1399.9 L1002.1,1399.9 L1002.2,1391.4 L1002.7,1391.4 L1002.8,1399.9 L1003.3,1399.9 L1003.4,1391.4 L1003.9,1391.4 L1004.0,1399.9 L1004.5,1399.9 L1004.6,1391.4 L1005.1,1391.4 L1005.2,1382.5 L1005.7,1382.5 L1005.8,1391.4 L1006.3,1391.4 L1006.4,1382.5 L1006.9,1382.5 L1007.0,1391.4 L1007.5,1391.4 L1007.6,1399.9 L1009.2,1399.9 L1009.3,1408.9 L1009.8,1408.9 L1009.9,1391.4 L1010.4,1391.4 L1010.5,1382.5 L1011.0,1382.5 L1011.1,1391.4 L1011.6,1391.4 L1011.7,1399.9 L1012.2,1399.9 L1012.3,1382.5 L1012.8,1382.5 L1012.9,1391.4 L1013.4,1391.4 L1013.5,1408.9 L1014.0,1408.9 L1014.1,1399.9 L1014.6,1399.9 L1014.7,1408.9 L1015.2,1408.9 L1015.3,1399.9 L1015.8,1399.9 L1015.9,1391.4 L1016.4,1391.4 L1016.5,1399.9 L1017.0,1399.9 L1017.1,1408.9 L1017.6,1408.9 L1017.7,1399.9 L1018.2,1399.9 L1018.3,1391.4 L1018.8,1391.4 L1018.9,1382.5 L1019.4,1382.5 L1019.5,1399.9 L1020.0,1399.9 L1020.1,1408.9 L1020.6,1408.9 L1020.7,1399.9 L1021.2,1399.9 L1021.3,1408.9 L1021.8,1408.9 L1021.9,1391.4 L1022.4,1391.4 L1022.5,1382.5 L1023.0,1382.5 L1023.1,1399.9 L1023.6,1399.9 L1023.7,1391.4 L1024.2,1391.4 L1024.3,1399.9 L1024.8,1399.9 L1024.9,1408.9 L1026.5,1408.9 L1026.6,1399.9 L1027.1,1399.9 L1027.2,1391.4 L1027.7,1391.4 L1027.8,1399.9 L1028.3,1399.9 L1028.4,1391.4 L1028.9,1391.4 L1029.0,1399.9 L1029.5,1399.9 L1029.6,1391.4 L1031.2,1391.4 L1031.3,1382.5 L1031.8,1382.5 L1031.9,1391.4 L1032.4,1391.4 L1032.5,1382.5 L1033.0,1382.5 L1033.1,1391.4 L1034.7,1391.4 L1034.8,1399.9 L1035.3,1399.9 L1035.4,1391.4 L1035.9,1391.4 L1036.0,1382.5 L1036.5,1382.5 L1036.6,1391.4 L1037.1,1391.4 L1037.2,1382.5 L1037.7,1382.5 L1037.8,1391.4 L1038.3,1391.4 L1038.4,1399.9 L1038.9,1399.9 L1039.0,1391.4 L1039.5,1391.4 L1039.6,1382.5 L1040.1,1382.5 L1040.2,1391.4 L1040.7,1391.4 L1040.8,1382.5 L1041.3,1382.5 L1041.4,1391.4 L1041.9,1391.4 L1042.0,1382.5 L1042.5,1382.5 L1042.6,1399.9 L1043.1,1399.9 L1043.2,1408.9 L1044.8,1408.9 L1044.9,1399.9 L1045.4,1399.9 L1045.5,1391.4 L1046.0,1391.4 L1046.1,1399.9 L1046.6,1399.9 L1046.7,1408.9 L1047.2,1408.9 L1047.3,1399.9 L1048.9,1399.9 L1049.0,1391.4 L1050.6,1391.4 L1050.7,1382.5 L1051.2,1382.5 L1051.3,1391.4 L1051.8,1391.4 L1051.9,1399.9 L1052.4,1399.9 L1052.5,1391.4 L1053.0,1391.4 L1053.1,1399.9 L1054.7,1399.9 L1054.8,1408.9 L1056.4,1408.9 L1056.5,1399.9 L1057.0,1399.9 L1057.1,1391.4 L1057.6,1391.4 L1057.7,1382.5 L1058.2,1382.5 L1058.3,1391.4 L1058.8,1391.4 L1058.9,1382.5 L1059.4,1382.5 L1059.5,1399.9 L1060.0,1399.9 L1060.1,1391.4 L1060.6,1391.4 L1060.7,1391.4 L1061.2,1391.4 L1061.3,1399.9 L1062.9,1399.9 L1063.0,1391.4 L1063.5,1391.4 L1063.6,1391.4 L1064.1,1391.4 L1064.2,1382.5 L1064.7,1382.5 L1064.8,1391.4 L1065.3,1391.4 L1065.4,1399.9 L1065.9,1399.9 L1066.0,1408.9 L1066.5,1408.9 L1066.6,1399.9 L1068.2,1399.9 L1068.3,1408.9 L1068.8,1408.9 L1068.9,1399.9 L1069.4,1399.9 L1069.5,1399.9 L1070.0,1399.9 L1070.1,1391.4 L1071.7,1391.4 L1071.8,1382.5 L1072.3,1382.5 L1072.4,1391.4 L1072.9,1391.4 L1073.0,1391.4 L1073.5,1391.4 L1073.6,1382.5 L1074.1,1382.5 L1074.2,1391.4 L1074.7,1391.4 L1074.8,1382.5 L1075.3,1382.5 L1075.4,1391.4 L1075.9,1391.4 L1076.0,1382.5 L1076.5,1382.5 L1076.6,1399.9 L1077.1,1399.9 L1077.2,1399.9 L1077.7,1399.9 L1077.8,1408.9 L1078.3,1408.9 L1078.4,1391.4 L1078.9,1391.4 L1079.0,1399.9 L1079.5,1399.9 L1079.6,1408.9 L1080.1,1408.9 L1080.2,1399.9 L1080.7,1399.9 L1080.8,1408.9 L1081.3,1408.9 L1081.4,1399.9 L1081.9,1399.9 L1082.0,1408.9 L1082.5,1408.9 L1082.6,1391.4 L1083.1,1391.4 L1083.2,1399.9 L1083.7,1399.9 L1083.8,1399.9 L1084.3,1399.9 L1084.4,1391.4 L1084.9,1391.4 L1085.0,1382.5 L1086.6,1382.5 L1086.7,1391.4 L1087.2,1391.4 L1087.3,1399.9 L1087.8,1399.9 L1087.9,1391.4 L1088.4,1391.4 L1088.5,1382.5 L1089.0,1382.5 L1089.1,1391.4 L1089.6,1391.4 L1089.7,1399.9 L1090.2,1399.9 L1090.3,1391.4 L1090.8,1391.4 L1090.9,1391.4 L1091.4,1391.4 L1091.5,1391.4 L1092.0,1391.4 L1092.1,1391.4 L1092.6,1391.4 L1092.7,1391.4 L1093.2,1391.4 L1093.3,1399.9 L1093.8,1399.9 L1093.9,1391.4 L1094.4,1391.4 L1094.5,1382.5 L1095.0,1382.5 L1095.1,1399.9 L1095.6,1399.9 L1095.7,1391.4 L1096.2,1391.4 L1096.3,1399.9 L1096.8,1399.9 L1096.9,1408.9 L1097.4,1408.9 L1097.5,1399.9 L1098.0,1399.9 L1098.1,1391.4 L1098.6,1391.4 L1098.7,1382.5 L1099.2,1382.5 L1099.3,1391.4 L1099.8,1391.4 L1099.9,1382.5 L1100.4,1382.5 L1100.5,1391.4 L1101.0,1391.4 L1101.1,1399.9 L1101.6,1399.9 L1101.7,1408.9 L1102.2,1408.9 L1102.3,1391.4 L1102.8,1391.4 L1102.9,1382.5 L1103.4,1382.5 L1103.5,1391.4 L1104.0,1391.4 L1104.1,1399.9 L1104.6,1399.9 L1104.7,1391.4 L1105.2,1391.4 L1105.3,1399.9 L1105.8,1399.9 L1105.9,1408.9 L1106.4,1408.9 L1106.5,1391.4 L1107.0,1391.4 L1107.1,1382.5 L1108.7,1382.5 L1108.8,1391.4 L1109.3,1391.4 L1109.4,1399.9 L1109.9,1399.9 L1110.0,1391.4 L1110.5,1391.4 L1110.6,1382.5 L1111.1,1382.5 L1111.2,1391.4 L1111.7,1391.4 L1111.8,1382.5 L1112.3,1382.5 L1112.4,1391.4 L1112.9,1391.4 L1113.0,1382.5 L1113.5,1382.5 L1113.6,1399.9 L1114.1,1399.9 L1114.2,1408.9 L1114.7,1408.9 L1114.8,1399.9 L1115.3,1399.9 L1115.4,1391.4 L1115.9,1391.4 L1116.0,1382.5 L1116.5,1382.5 L1116.6,1391.4 L1117.1,1391.4 L1117.2,1399.9 L1117.7,1399.9 L1117.8,1408.9 L1118.3,1408.9 L1118.4,1399.9 L1118.9,1399.9 L1119.0,1382.5 L1119.5,1382.5 L1119.6,1391.4 L1120.1,1391.4 L1120.2,1399.9 L1120.7,1399.9 L1120.8,1408.9 L1121.3,1408.9 L1121.4,1399.9 L1121.9,1399.9 L1122.0,1408.9 L1122.5,1408.9 L1122.6,1399.9 L1123.1,1399.9 L1123.2,1391.4 L1123.7,1391.4 L1123.8,1382.5 L1124.3,1382.5 L1124.4,1399.9 L1124.9,1399.9 L1125.0,1408.9 L1125.5,1408.9 L1125.6,1391.4 L1126.1,1391.4 L1126.2,1382.5 L1126.7,1382.5 L1126.8,1391.4 L1127.3,1391.4 L1127.4,1399.9 L1127.9,1399.9 L1128.0,1391.4 L1128.5,1391.4 L1128.6,1399.9 L1129.1,1399.9 L1129.2,1408.9 L1129.7,1408.9 L1129.8,1399.9 L1130.3,1399.9 L1130.4,1408.9 L1130.9,1408.9 L1131.0,1391.4 L1131.5,1391.4 L1131.6,1399.9 L1132.1,1399.9 L1132.2,1408.9 L1132.7,1408.9 L1132.8,1399.9 L1133.3,1399.9 L1133.4,1391.4 L1133.9,1391.4 L1134.0,1382.5 L1135.6,1382.5 L1135.7,1391.4 L1136.2,1391.4 L1136.3,1382.5 L1136.8,1382.5 L1136.9,1391.4 L1137.4,1391.4 L1137.5,1391.4 L1138.0,1391.4 L1138.1,1399.9 L1138.6,1399.9 L1138.7,1391.4 L1139.2,1391.4 L1139.3,1399.9 L1139.8,1399.9 L1139.9,1382.5 L1140.4,1382.5 L1140.5,1399.9 L1141.0,1399.9 L1141.1,1391.4 L1141.6,1391.4 L1141.7,1382.5 L1142.2,1382.5 L1142.3,1391.4 L1142.8,1391.4 L1142.9,1399.9 L1143.4,1399.9 L1143.5,1408.9 L1144.0,1408.9 L1144.1,1399.9 L1144.6,1399.9 L1144.7,1391.4 L1145.2,1391.4 L1145.3,1382.5 L1145.8,1382.5 L1145.9,1391.4 L1146.4,1391.4 L1146.5,1399.9 L1147.0,1399.9 L1147.1,1391.4 L1147.6,1391.4 L1147.7,1382.5 L1148.2,1382.5 L1148.3,1408.9 L1149.9,1408.9 L1150.0,1399.9 L1150.5,1399.9 L1150.6,1391.4 L1151.1,1391.4 L1151.2,1391.4 L1151.7,1391.4 L1151.8,1382.5 L1152.3,1382.5 L1152.4,1399.9 L1152.9,1399.9 L1153.0,1408.9 L1154.6,1408.9" fill="none" stroke="#ffff00" stroke-width="1.3" stroke-linejoin="bevel"/>
<path d="M208.7,1396 V1418 M325,1396 V1417" stroke="#ffff00" stroke-width="1.2"/>
</g>
<text x="118.4" y="1312.9" font-family='"Liberation Sans", sans-serif' font-size="20.9" textLength="36.6" lengthAdjust="spacingAndGlyphs" fill="#262626" >100</text>
<text x="142.8" y="1393.9" font-family='"Liberation Sans", sans-serif' font-size="20.9" textLength="12.2" lengthAdjust="spacingAndGlyphs" fill="#262626" >0</text>
<text x="110.7" y="1476.0" font-family='"Liberation Sans", sans-serif' font-size="20.9" textLength="44.3" lengthAdjust="spacingAndGlyphs" fill="#262626" >-100</text>
<text transform="translate(71.9,1428.9) rotate(-90)" font-family='"Liberation Sans", sans-serif' font-size="20" font-weight="bold" textLength="81.0" lengthAdjust="spacingAndGlyphs" fill="#262626">Voltage</text>
<text transform="translate(98.1,1412.9) rotate(-90)" font-family='"Liberation Sans", sans-serif' font-size="20" font-weight="bold" textLength="49.0" lengthAdjust="spacingAndGlyphs" fill="#262626">(mV)</text>
<text transform="translate(1170.0,1438.0) rotate(-90)" font-family='"Liberation Sans", sans-serif' font-size="15" font-weight="bold" textLength="123.6" lengthAdjust="spacingAndGlyphs" fill="#000">Inboard VMon1</text>
<text transform="translate(1182.1,1438.0) rotate(-90)" font-family='"Liberation Sans", sans-serif' font-size="15" font-weight="bold" textLength="123.6" lengthAdjust="spacingAndGlyphs" fill="#000">Inboard VMon2</text>
<text transform="translate(1193.9,1447.1) rotate(-90)" font-family='"Liberation Sans", sans-serif' font-size="15" font-weight="bold" textLength="137.6" lengthAdjust="spacingAndGlyphs" fill="#000">Outboard VMon1</text>
<text transform="translate(1205.2,1447.1) rotate(-90)" font-family='"Liberation Sans", sans-serif' font-size="15" font-weight="bold" textLength="137.6" lengthAdjust="spacingAndGlyphs" fill="#000">Outboard VMon2</text>
<path d="M1167.9,1462 V1477.8" stroke="#0000ff" stroke-width="2"/>
<path d="M1179.9,1462 V1477.8" stroke="#00ffff" stroke-width="2"/>
<path d="M1191.8,1462 V1477.8" stroke="#00ff00" stroke-width="2"/>
<path d="M1203,1462 V1477.8" stroke="#ffff00" stroke-width="2"/>
<text x="42.1" y="1498.8" font-family='"Liberation Sans", sans-serif' font-size="14.6" font-weight="bold" textLength="44.4" lengthAdjust="spacingAndGlyphs" fill="#000" >Time:</text>
<text x="130.0" y="1498.8" font-family='"Liberation Sans", sans-serif' font-size="14.6" font-weight="bold" textLength="70.7" lengthAdjust="spacingAndGlyphs" fill="#000" >00:01:15</text>
<text x="377.1" y="1498.8" font-family='"Liberation Sans", sans-serif' font-size="14.6" font-weight="bold" textLength="70.7" lengthAdjust="spacingAndGlyphs" fill="#000" >00:08:49</text>
<text x="624.9" y="1498.8" font-family='"Liberation Sans", sans-serif' font-size="14.6" font-weight="bold" textLength="70.7" lengthAdjust="spacingAndGlyphs" fill="#000" >00:16:24</text>
<text x="872.1" y="1498.8" font-family='"Liberation Sans", sans-serif' font-size="14.6" font-weight="bold" textLength="70.7" lengthAdjust="spacingAndGlyphs" fill="#000" >00:23:58</text>
<text x="1119.2" y="1498.8" font-family='"Liberation Sans", sans-serif' font-size="14.6" font-weight="bold" textLength="70.7" lengthAdjust="spacingAndGlyphs" fill="#000" >00:31:33</text>
<text x="42.1" y="1520.0" font-family='"Liberation Sans", sans-serif' font-size="14.6" font-weight="bold" textLength="74.0" lengthAdjust="spacingAndGlyphs" fill="#000" >Rad(km):</text>
<text x="137.8" y="1520.0" font-family='"Liberation Sans", sans-serif' font-size="14.6" font-weight="bold" textLength="55.1" lengthAdjust="spacingAndGlyphs" fill="#000" >7129.0</text>
<text x="385.0" y="1520.0" font-family='"Liberation Sans", sans-serif' font-size="14.6" font-weight="bold" textLength="55.1" lengthAdjust="spacingAndGlyphs" fill="#000" >7352.2</text>
<text x="632.8" y="1520.0" font-family='"Liberation Sans", sans-serif' font-size="14.6" font-weight="bold" textLength="55.1" lengthAdjust="spacingAndGlyphs" fill="#000" >7537.4</text>
<text x="880.0" y="1520.0" font-family='"Liberation Sans", sans-serif' font-size="14.6" font-weight="bold" textLength="55.1" lengthAdjust="spacingAndGlyphs" fill="#000" >7651.8</text>
<text x="1127.0" y="1520.0" font-family='"Liberation Sans", sans-serif' font-size="14.6" font-weight="bold" textLength="55.1" lengthAdjust="spacingAndGlyphs" fill="#000" >7677.2</text>
<text x="42.1" y="1540.8" font-family='"Liberation Sans", sans-serif' font-size="14.6" font-weight="bold" textLength="31.5" lengthAdjust="spacingAndGlyphs" fill="#000" >Lat:</text>
<text x="147.8" y="1540.8" font-family='"Liberation Sans", sans-serif' font-size="14.6" font-weight="bold" textLength="35.0" lengthAdjust="spacingAndGlyphs" fill="#000" >47.5</text>
<text x="395.0" y="1540.8" font-family='"Liberation Sans", sans-serif' font-size="14.6" font-weight="bold" textLength="35.0" lengthAdjust="spacingAndGlyphs" fill="#000" >72.3</text>
<text x="642.8" y="1540.8" font-family='"Liberation Sans", sans-serif' font-size="14.6" font-weight="bold" textLength="35.0" lengthAdjust="spacingAndGlyphs" fill="#000" >76.7</text>
<text x="890.0" y="1540.8" font-family='"Liberation Sans", sans-serif' font-size="14.6" font-weight="bold" textLength="35.0" lengthAdjust="spacingAndGlyphs" fill="#000" >55.1</text>
<text x="1137.0" y="1540.8" font-family='"Liberation Sans", sans-serif' font-size="14.6" font-weight="bold" textLength="35.0" lengthAdjust="spacingAndGlyphs" fill="#000" >32.0</text>
<text x="42.1" y="1561.6" font-family='"Liberation Sans", sans-serif' font-size="14.6" font-weight="bold" textLength="34.5" lengthAdjust="spacingAndGlyphs" fill="#000" >Lon:</text>
<text x="144.7" y="1561.6" font-family='"Liberation Sans", sans-serif' font-size="14.6" font-weight="bold" textLength="41.2" lengthAdjust="spacingAndGlyphs" fill="#000" >-84.6</text>
<text x="391.9" y="1561.6" font-family='"Liberation Sans", sans-serif' font-size="14.6" font-weight="bold" textLength="41.2" lengthAdjust="spacingAndGlyphs" fill="#000" >-66.5</text>
<text x="642.8" y="1561.6" font-family='"Liberation Sans", sans-serif' font-size="14.6" font-weight="bold" textLength="35.0" lengthAdjust="spacingAndGlyphs" fill="#000" >39.4</text>
<text x="890.0" y="1561.6" font-family='"Liberation Sans", sans-serif' font-size="14.6" font-weight="bold" textLength="35.0" lengthAdjust="spacingAndGlyphs" fill="#000" >66.5</text>
<text x="1137.0" y="1561.6" font-family='"Liberation Sans", sans-serif' font-size="14.6" font-weight="bold" textLength="35.0" lengthAdjust="spacingAndGlyphs" fill="#000" >72.1</text>
<text x="42.1" y="1582.5" font-family='"Liberation Sans", sans-serif' font-size="14.6" font-weight="bold" textLength="41.5" lengthAdjust="spacingAndGlyphs" fill="#000" >Mlat:</text>
<text x="147.8" y="1582.5" font-family='"Liberation Sans", sans-serif' font-size="14.6" font-weight="bold" textLength="35.0" lengthAdjust="spacingAndGlyphs" fill="#000" >56.8</text>
<text x="395.0" y="1582.5" font-family='"Liberation Sans", sans-serif' font-size="14.6" font-weight="bold" textLength="35.0" lengthAdjust="spacingAndGlyphs" fill="#000" >81.8</text>
<text x="642.8" y="1582.5" font-family='"Liberation Sans", sans-serif' font-size="14.6" font-weight="bold" textLength="35.0" lengthAdjust="spacingAndGlyphs" fill="#000" >71.0</text>
<text x="890.0" y="1582.5" font-family='"Liberation Sans", sans-serif' font-size="14.6" font-weight="bold" textLength="35.0" lengthAdjust="spacingAndGlyphs" fill="#000" >47.5</text>
<text x="1137.0" y="1582.5" font-family='"Liberation Sans", sans-serif' font-size="14.6" font-weight="bold" textLength="35.0" lengthAdjust="spacingAndGlyphs" fill="#000" >24.1</text>
<text x="42.1" y="1603.5" font-family='"Liberation Sans", sans-serif' font-size="14.6" font-weight="bold" textLength="31.5" lengthAdjust="spacingAndGlyphs" fill="#000" >Mlt:</text>
<text x="137.8" y="1603.5" font-family='"Liberation Sans", sans-serif' font-size="14.6" font-weight="bold" textLength="55.0" lengthAdjust="spacingAndGlyphs" fill="#000" >18.303</text>
<text x="385.0" y="1603.5" font-family='"Liberation Sans", sans-serif' font-size="14.6" font-weight="bold" textLength="55.0" lengthAdjust="spacingAndGlyphs" fill="#000" >20.289</text>
<text x="637.8" y="1603.5" font-family='"Liberation Sans", sans-serif' font-size="14.6" font-weight="bold" textLength="45.0" lengthAdjust="spacingAndGlyphs" fill="#000" >4.814</text>
<text x="885.0" y="1603.5" font-family='"Liberation Sans", sans-serif' font-size="14.6" font-weight="bold" textLength="45.0" lengthAdjust="spacingAndGlyphs" fill="#000" >5.425</text>
<text x="1132.0" y="1603.5" font-family='"Liberation Sans", sans-serif' font-size="14.6" font-weight="bold" textLength="45.0" lengthAdjust="spacingAndGlyphs" fill="#000" >5.629</text>
<text x="25.0" y="1642.0" font-family='"Liberation Sans", sans-serif' font-size="14.6" font-weight="bold" textLength="1223.0" lengthAdjust="spacingAndGlyphs" fill="#000" >MGF Quicklook using MGF_20170926_000114_003132_v2.1.0.lv2 on 14-Jun-2024 16:34:36 (calibration from cas_mgf_7day_cal_2017_09_22_v2.1.mat )</text>
</svg></body></html>
